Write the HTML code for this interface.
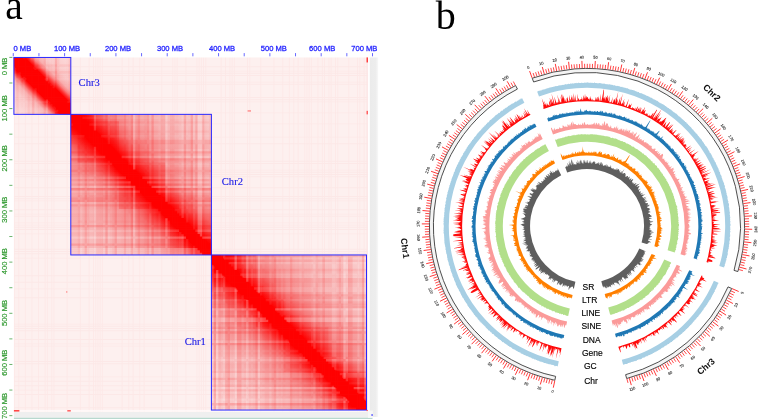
<!DOCTYPE html>
<html><head><meta charset="utf-8"><title>Hi-C and Circos</title>
<style>
html,body{margin:0;padding:0;background:#fff;width:760px;height:420px;overflow:hidden}
svg{display:block;font-family:"Liberation Sans",sans-serif;will-change:transform}
</style></head><body>
<svg width="760" height="420" viewBox="0 0 760 420">
<defs>
<linearGradient id="g0" gradientUnits="userSpaceOnUse" x1="70.8" y1="57.45" x2="13.9" y2="114.35">
<stop offset="0.0000" stop-color="#fcdcdc"/>
<stop offset="0.2188" stop-color="#fac8c8"/>
<stop offset="0.2979" stop-color="#f9b0b0"/>
<stop offset="0.3374" stop-color="#fa8080"/>
<stop offset="0.3770" stop-color="#fd3030"/>
<stop offset="0.4077" stop-color="#ff0000"/>
<stop offset="0.5000" stop-color="#ff0000"/>
<stop offset="0.5000" stop-color="#ff0000"/>
<stop offset="0.5923" stop-color="#ff0000"/>
<stop offset="0.6230" stop-color="#fd3030"/>
<stop offset="0.6626" stop-color="#fa8080"/>
<stop offset="0.7021" stop-color="#f9b0b0"/>
<stop offset="0.7812" stop-color="#fac8c8"/>
<stop offset="1.0000" stop-color="#fcdcdc"/>
</linearGradient>
<radialGradient id="c0" gradientUnits="userSpaceOnUse" cx="13.9" cy="57.45" r="17.07">
<stop offset="0" stop-color="#ff0000" stop-opacity="0.95"/><stop offset="0.55" stop-color="#ff0000" stop-opacity="0.6"/><stop offset="1" stop-color="#ff0000" stop-opacity="0"/>
</radialGradient>
<radialGradient id="e0" gradientUnits="userSpaceOnUse" cx="70.8" cy="114.35" r="11.38">
<stop offset="0" stop-color="#ff0000" stop-opacity="0.9"/><stop offset="0.5" stop-color="#ff0000" stop-opacity="0.5"/><stop offset="1" stop-color="#ff0000" stop-opacity="0"/>
</radialGradient>
<linearGradient id="g1" gradientUnits="userSpaceOnUse" x1="211.4" y1="114.35" x2="70.8" y2="254.95">
<stop offset="0.0000" stop-color="#f9cbcb"/>
<stop offset="0.2333" stop-color="#f7aeae"/>
<stop offset="0.3364" stop-color="#f69090"/>
<stop offset="0.3862" stop-color="#f67070"/>
<stop offset="0.4218" stop-color="#f94848"/>
<stop offset="0.4502" stop-color="#fd1e1e"/>
<stop offset="0.4716" stop-color="#ff0000"/>
<stop offset="0.5000" stop-color="#ff0000"/>
<stop offset="0.5000" stop-color="#ff0000"/>
<stop offset="0.5284" stop-color="#ff0000"/>
<stop offset="0.5498" stop-color="#fd1e1e"/>
<stop offset="0.5782" stop-color="#f94848"/>
<stop offset="0.6138" stop-color="#f67070"/>
<stop offset="0.6636" stop-color="#f69090"/>
<stop offset="0.7667" stop-color="#f7aeae"/>
<stop offset="1.0000" stop-color="#f9cbcb"/>
</linearGradient>
<radialGradient id="c1" gradientUnits="userSpaceOnUse" cx="70.8" cy="114.35" r="26.71">
<stop offset="0" stop-color="#ff0000" stop-opacity="0.95"/><stop offset="0.55" stop-color="#ff0000" stop-opacity="0.6"/><stop offset="1" stop-color="#ff0000" stop-opacity="0"/>
</radialGradient>
<radialGradient id="e1" gradientUnits="userSpaceOnUse" cx="211.4" cy="254.95" r="22.5">
<stop offset="0" stop-color="#ff0000" stop-opacity="0.9"/><stop offset="0.5" stop-color="#ff0000" stop-opacity="0.5"/><stop offset="1" stop-color="#ff0000" stop-opacity="0"/>
</radialGradient>
<linearGradient id="g2" gradientUnits="userSpaceOnUse" x1="366.5" y1="254.95" x2="211.4" y2="410.05">
<stop offset="0.0000" stop-color="#facdcd"/>
<stop offset="0.2421" stop-color="#f7aeae"/>
<stop offset="0.3420" stop-color="#f69090"/>
<stop offset="0.3904" stop-color="#f67070"/>
<stop offset="0.4259" stop-color="#f94848"/>
<stop offset="0.4516" stop-color="#fd1e1e"/>
<stop offset="0.4710" stop-color="#ff0000"/>
<stop offset="0.5000" stop-color="#ff0000"/>
<stop offset="0.5000" stop-color="#ff0000"/>
<stop offset="0.5290" stop-color="#ff0000"/>
<stop offset="0.5484" stop-color="#fd1e1e"/>
<stop offset="0.5741" stop-color="#f94848"/>
<stop offset="0.6096" stop-color="#f67070"/>
<stop offset="0.6580" stop-color="#f69090"/>
<stop offset="0.7579" stop-color="#f7aeae"/>
<stop offset="1.0000" stop-color="#facdcd"/>
</linearGradient>
<radialGradient id="c2" gradientUnits="userSpaceOnUse" cx="211.4" cy="254.95" r="38.78">
<stop offset="0" stop-color="#ff0000" stop-opacity="0.95"/><stop offset="0.55" stop-color="#ff0000" stop-opacity="0.6"/><stop offset="1" stop-color="#ff0000" stop-opacity="0"/>
</radialGradient>
<radialGradient id="e2" gradientUnits="userSpaceOnUse" cx="366.5" cy="410.05" r="37.22">
<stop offset="0" stop-color="#ff0000" stop-opacity="0.9"/><stop offset="0.5" stop-color="#ff0000" stop-opacity="0.5"/><stop offset="1" stop-color="#ff0000" stop-opacity="0"/>
</radialGradient>
</defs>
<rect x="13.9" y="57.45" width="354.2" height="354.2" fill="#fdf0ef"/>
<rect x="13.9" y="57.45" width="56.9" height="56.9" fill="url(#g0)"/>
<rect x="13.9" y="57.45" width="56.9" height="56.9" fill="url(#c0)"/>
<rect x="13.9" y="57.45" width="56.9" height="56.9" fill="url(#e0)"/>
<rect x="70.8" y="114.35" width="140.6" height="140.6" fill="url(#g1)"/>
<rect x="70.8" y="114.35" width="140.6" height="140.6" fill="url(#c1)"/>
<rect x="70.8" y="114.35" width="140.6" height="140.6" fill="url(#e1)"/>
<rect x="211.4" y="254.95" width="155.1" height="155.1" fill="url(#g2)"/>
<rect x="211.4" y="254.95" width="155.1" height="155.1" fill="url(#c2)"/>
<rect x="211.4" y="254.95" width="155.1" height="155.1" fill="url(#e2)"/>
<rect x="77.65" y="121.2" width="41.29" height="41.29" fill="#ff0000" fill-opacity="0.20"/><rect x="118.94" y="162.49" width="46.5" height="46.5" fill="#ff0000" fill-opacity="0.19"/><rect x="165.44" y="208.99" width="45.96" height="45.96" fill="#ff0000" fill-opacity="0.10"/><rect x="72.66" y="116.21" width="21.21" height="21.21" fill="#ff0000" fill-opacity="0.24"/><rect x="93.87" y="137.42" width="20.61" height="20.61" fill="#ff0000" fill-opacity="0.14"/><rect x="114.48" y="158.03" width="14.57" height="14.57" fill="#ff0000" fill-opacity="0.16"/><rect x="129.05" y="172.6" width="15.61" height="15.61" fill="#ff0000" fill-opacity="0.22"/><rect x="144.66" y="188.21" width="8.18" height="8.18" fill="#ff0000" fill-opacity="0.16"/><rect x="152.85" y="196.4" width="11.91" height="11.91" fill="#ff0000" fill-opacity="0.28"/><rect x="164.76" y="208.31" width="18.72" height="18.72" fill="#ff0000" fill-opacity="0.15"/><rect x="183.48" y="227.03" width="19.16" height="19.16" fill="#ff0000" fill-opacity="0.14"/><rect x="202.64" y="246.19" width="8.76" height="8.76" fill="#ff0000" fill-opacity="0.14"/><rect x="211.42" y="254.97" width="44.66" height="44.66" fill="#ff0000" fill-opacity="0.13"/><rect x="256.08" y="299.63" width="27.6" height="27.6" fill="#ff0000" fill-opacity="0.22"/><rect x="283.68" y="327.23" width="44.68" height="44.68" fill="#ff0000" fill-opacity="0.13"/><rect x="328.36" y="371.91" width="38.14" height="38.14" fill="#ff0000" fill-opacity="0.16"/><rect x="214.11" y="257.66" width="10.87" height="10.87" fill="#ff0000" fill-opacity="0.29"/><rect x="224.98" y="268.53" width="17.67" height="17.67" fill="#ff0000" fill-opacity="0.29"/><rect x="242.65" y="286.2" width="20.51" height="20.51" fill="#ff0000" fill-opacity="0.17"/><rect x="263.16" y="306.71" width="13.06" height="13.06" fill="#ff0000" fill-opacity="0.15"/><rect x="276.22" y="319.77" width="10.04" height="10.04" fill="#ff0000" fill-opacity="0.13"/><rect x="286.26" y="329.81" width="12.22" height="12.22" fill="#ff0000" fill-opacity="0.23"/><rect x="298.48" y="342.03" width="8.05" height="8.05" fill="#ff0000" fill-opacity="0.24"/><rect x="306.52" y="350.07" width="12.73" height="12.73" fill="#ff0000" fill-opacity="0.18"/><rect x="319.25" y="362.8" width="19.46" height="19.46" fill="#ff0000" fill-opacity="0.21"/><rect x="338.71" y="382.26" width="12.42" height="12.42" fill="#ff0000" fill-opacity="0.21"/><rect x="351.13" y="394.68" width="15.37" height="15.37" fill="#ff0000" fill-opacity="0.13"/>
<path d="M133.03 114.35h2.3v55.23h-2.3zM133.03 185.89h2.3v69.06h-2.3zM70.8 185.8h64.45v2.3h-64.45zM151.56 185.8h59.84v2.3h-59.84zM165.3 114.35h2.3v87.5h-2.3zM165.3 218.16h2.3v36.79h-2.3zM70.8 236.51h115.16v2.3h-115.16zM202.27 236.51h9.13v2.3h-9.13zM197.57 114.35h2.3v119.77h-2.3zM197.57 250.43h2.3v4.52h-2.3zM199.88 114.35h2.3v122.08h-2.3zM199.88 252.73h2.3v2.22h-2.3zM70.8 248.04h126.69v2.3h-126.69zM70.8 250.34h128.99v2.3h-128.99zM70.8 252.65h131.3v2.3h-131.3zM216.03 269.89h2.31v140.16h-2.31zM234.55 254.95h2.31v15.15h-2.31zM234.55 288.41h2.31v121.64h-2.31zM246.12 254.95h2.31v26.72h-2.31zM246.12 299.99h2.31v110.06h-2.31zM257.7 254.95h2.31v38.3h-2.31zM257.7 311.56h2.31v98.49h-2.31zM211.4 308.19h45.24v2.31h-45.24zM274.96 308.19h91.54v2.31h-91.54zM211.4 317.45h54.5v2.31h-54.5zM284.22 317.45h82.28v2.31h-82.28zM211.4 319.77h56.82v2.31h-56.82zM286.53 319.77h79.97v2.31h-79.97zM211.4 359.12h96.17v2.31h-96.17zM325.89 359.12h40.61v2.31h-40.61zM343.35 254.95h2.31v123.95h-2.31zM343.35 397.22h2.31v12.83h-2.31zM211.4 386.9h123.95v2.31h-123.95zM353.67 386.9h12.83v2.31h-12.83zM211.4 398.48h135.53v2.31h-135.53zM365.24 398.48h1.26v2.31h-1.26zM364.19 254.95h2.31v144.79h-2.31z" fill="#fff" fill-opacity="0.26"/>
<path d="M45.76 57.45h2.28v23.86h-2.28zM45.76 99.59h2.28v14.76h-2.28zM93.85 114.35h2.3v16.05h-2.3zM93.85 146.7h2.3v108.25h-2.3zM70.8 155.84h34.49v2.3h-34.49zM121.59 155.84h89.81v2.3h-89.81zM70.8 176.58h55.23v2.3h-55.23zM142.34 176.58h69.06v2.3h-69.06zM70.8 181.19h59.84v2.3h-59.84zM146.95 181.19h64.45v2.3h-64.45zM70.8 190.41h69.06v2.3h-69.06zM156.17 190.41h55.23v2.3h-55.23zM181.44 114.35h2.3v103.64h-2.3zM181.44 234.29h2.3v20.66h-2.3zM70.8 229.6h108.25v2.3h-108.25zM195.35 229.6h16.05v2.3h-16.05zM211.4 265.26h2.31v144.79h-2.31zM224.03 257.26h142.47v2.31h-142.47zM228.66 261.89h137.84v2.31h-137.84zM222.97 254.95h2.31v3.57h-2.31zM222.97 276.84h2.31v133.21h-2.31zM211.4 273.47h10.52v2.31h-10.52zM240.23 273.47h126.27v2.31h-126.27zM211.4 275.78h12.83v2.31h-12.83zM242.55 275.78h123.95v2.31h-123.95zM211.4 287.36h24.41v2.31h-24.41zM254.12 287.36h112.38v2.31h-112.38zM211.4 289.67h26.72v2.31h-26.72zM256.44 289.67h110.06v2.31h-110.06zM211.4 340.6h77.65v2.31h-77.65zM307.37 340.6h59.13v2.31h-59.13zM313.26 254.95h2.31v93.86h-2.31zM313.26 367.12h2.31v42.93h-2.31zM211.4 356.81h93.86v2.31h-93.86zM323.57 356.81h42.93v2.31h-42.93zM211.4 373.01h110.06v2.31h-110.06zM339.78 373.01h26.72v2.31h-26.72zM331.78 254.95h2.31v112.38h-2.31zM331.78 385.64h2.31v24.41h-2.31zM211.4 375.33h112.38v2.31h-112.38zM342.09 375.33h24.41v2.31h-24.41zM334.09 254.95h2.31v114.69h-2.31zM334.09 387.96h2.31v22.09h-2.31zM345.67 254.95h2.31v126.27h-2.31zM345.67 399.53h2.31v10.52h-2.31zM211.4 391.53h128.58v2.31h-128.58zM358.3 391.53h8.2v2.31h-8.2zM357.24 254.95h2.31v137.84h-2.31zM211.4 400.79h137.84v2.31h-137.84z" fill="#fff" fill-opacity="0.16"/>
<path d="M13.9 67.73h2.28v46.62h-2.28zM18.45 72.28h2.28v42.07h-2.28zM23 57.45h2.28v1.1h-2.28zM23 76.83h2.28v37.52h-2.28zM13.9 66.55h1.1v2.28h-1.1zM33.28 66.55h37.52v2.28h-37.52zM34.38 57.45h2.28v12.48h-2.28zM34.38 88.21h2.28v26.14h-2.28zM13.9 77.93h12.48v2.28h-12.48zM44.66 77.93h26.14v2.28h-26.14zM48.04 57.45h2.28v26.14h-2.28zM48.04 101.87h2.28v12.48h-2.28zM50.32 57.45h2.28v28.42h-2.28zM50.32 104.14h2.28v10.21h-2.28zM52.59 57.45h2.28v30.69h-2.28zM52.59 106.42h2.28v7.93h-2.28zM13.9 100.69h35.24v2.28h-35.24zM67.42 100.69h3.38v2.28h-3.38zM13.9 107.52h42.07v2.28h-42.07zM13.9 109.8h44.35v2.28h-44.35zM82.41 116.65h128.99v2.3h-128.99zM70.8 123.57h2.22v2.3h-2.22zM89.32 123.57h122.08v2.3h-122.08zM70.8 135.09h13.74v2.3h-13.74zM100.85 135.09h110.55v2.3h-110.55zM107.68 114.35h2.3v29.88h-2.3zM107.68 160.53h2.3v94.42h-2.3zM70.8 162.75h41.4v2.3h-41.4zM128.51 162.75h82.89v2.3h-82.89zM128.42 114.35h2.3v50.62h-2.3zM128.42 181.28h2.3v73.67h-2.3zM149.17 114.35h2.3v71.37h-2.3zM149.17 202.02h2.3v52.93h-2.3zM158.39 114.35h2.3v80.59h-2.3zM158.39 211.24h2.3v43.71h-2.3zM70.8 201.94h80.59v2.3h-80.59zM167.69 201.94h43.71v2.3h-43.71zM70.8 208.85h87.5v2.3h-87.5zM174.61 208.85h36.79v2.3h-36.79zM167.61 114.35h2.3v89.81h-2.3zM167.61 220.46h2.3v34.49h-2.3zM70.8 211.16h89.81v2.3h-89.81zM176.91 211.16h34.49v2.3h-34.49zM179.13 114.35h2.3v101.33h-2.3zM179.13 231.99h2.3v22.96h-2.3zM186.05 114.35h2.3v108.25h-2.3zM186.05 238.9h2.3v16.05h-2.3zM192.96 114.35h2.3v115.16h-2.3zM192.96 245.82h2.3v9.13h-2.3zM220.66 254.95h2.31v1.26h-2.31zM220.66 274.52h2.31v135.53h-2.31zM211.4 264.21h1.26v2.31h-1.26zM230.97 264.21h135.53v2.31h-135.53zM211.4 266.52h3.57v2.31h-3.57zM233.29 266.52h133.21v2.31h-133.21zM241.49 254.95h2.31v22.09h-2.31zM241.49 295.36h2.31v114.69h-2.31zM250.75 254.95h2.31v31.35h-2.31zM250.75 304.62h2.31v105.43h-2.31zM211.4 298.93h35.98v2.31h-35.98zM265.7 298.93h100.8v2.31h-100.8zM260.01 254.95h2.31v40.61h-2.31zM260.01 313.88h2.31v96.17h-2.31zM211.4 310.51h47.56v2.31h-47.56zM277.27 310.51h89.23v2.31h-89.23zM269.27 254.95h2.31v49.87h-2.31zM269.27 323.14h2.31v86.91h-2.31zM211.4 312.82h49.87v2.31h-49.87zM279.59 312.82h86.91v2.31h-86.91zM276.22 254.95h2.31v56.82h-2.31zM276.22 330.08h2.31v79.97h-2.31zM280.85 254.95h2.31v61.45h-2.31zM280.85 334.71h2.31v75.34h-2.31zM285.48 254.95h2.31v66.08h-2.31zM285.48 339.34h2.31v70.71h-2.31zM211.4 329.03h66.08v2.31h-66.08zM295.79 329.03h70.71v2.31h-70.71zM287.79 254.95h2.31v68.39h-2.31zM287.79 341.66h2.31v68.39h-2.31zM299.37 254.95h2.31v79.97h-2.31zM299.37 353.23h2.31v56.82h-2.31zM211.4 349.86h86.91v2.31h-86.91zM316.63 349.86h49.87v2.31h-49.87zM310.94 254.95h2.31v91.54h-2.31zM310.94 364.81h2.31v45.24h-2.31zM211.4 354.49h91.54v2.31h-91.54zM321.26 354.49h45.24v2.31h-45.24zM211.4 361.44h98.49v2.31h-98.49zM328.2 361.44h38.3v2.31h-38.3zM320.2 254.95h2.31v100.8h-2.31zM320.2 374.07h2.31v35.98h-2.31zM211.4 368.38h105.43v2.31h-105.43zM335.15 368.38h31.35v2.31h-31.35zM211.4 382.27h119.32v2.31h-119.32zM349.04 382.27h17.46v2.31h-17.46zM211.4 396.16h133.21v2.31h-133.21zM362.93 396.16h3.57v2.31h-3.57zM211.4 407.74h144.79v2.31h-144.79z" fill="#fff" fill-opacity="0.08"/>
<path d="M16.18 70h2.28v44.35h-2.28zM31 64.28h39.8v2.28h-39.8zM27.56 57.45h2.28v5.66h-2.28zM27.56 81.38h2.28v32.97h-2.28zM13.9 71.11h5.66v2.28h-5.66zM37.83 71.11h32.97v2.28h-32.97zM43.49 57.45h2.28v21.59h-2.28zM43.49 97.31h2.28v17.04h-2.28zM57.14 57.45h2.28v35.24h-2.28zM57.14 110.97h2.28v3.38h-2.28zM70.8 123.65h2.3v131.3h-2.3zM73.1 125.96h2.3v128.99h-2.3zM75.41 128.26h2.3v126.69h-2.3zM87.02 121.26h124.38v2.3h-124.38zM82.32 114.35h2.3v4.52h-2.3zM82.32 135.18h2.3v119.77h-2.3zM86.93 114.35h2.3v9.13h-2.3zM86.93 139.79h2.3v115.16h-2.3zM70.8 130.48h9.13v2.3h-9.13zM96.24 130.48h115.16v2.3h-115.16zM96.15 114.35h2.3v18.35h-2.3zM96.15 149.01h2.3v105.94h-2.3zM98.46 114.35h2.3v20.66h-2.3zM98.46 151.31h2.3v103.64h-2.3zM100.76 114.35h2.3v22.96h-2.3zM100.76 153.62h2.3v101.33h-2.3zM70.8 144.31h22.96v2.3h-22.96zM110.07 144.31h101.33v2.3h-101.33zM70.8 146.62h25.27v2.3h-25.27zM112.37 146.62h99.03v2.3h-99.03zM70.8 153.53h32.18v2.3h-32.18zM119.29 153.53h92.11v2.3h-92.11zM112.29 114.35h2.3v34.49h-2.3zM112.29 165.14h2.3v89.81h-2.3zM70.8 160.45h39.1v2.3h-39.1zM126.2 160.45h85.2v2.3h-85.2zM70.8 167.36h46.01v2.3h-46.01zM133.12 167.36h78.28v2.3h-78.28zM70.8 171.97h50.62v2.3h-50.62zM137.73 171.97h73.67v2.3h-73.67zM70.8 178.89h57.54v2.3h-57.54zM144.64 178.89h66.76v2.3h-66.76zM70.8 183.5h62.15v2.3h-62.15zM149.25 183.5h62.15v2.3h-62.15zM144.56 114.35h2.3v66.76h-2.3zM144.56 197.41h2.3v57.54h-2.3zM70.8 195.02h73.67v2.3h-73.67zM160.78 195.02h50.62v2.3h-50.62zM160.69 114.35h2.3v82.89h-2.3zM160.69 213.55h2.3v41.4h-2.3zM163 114.35h2.3v85.2h-2.3zM163 215.85h2.3v39.1h-2.3zM169.91 114.35h2.3v92.11h-2.3zM169.91 222.77h2.3v32.18h-2.3zM172.22 114.35h2.3v94.42h-2.3zM172.22 225.07h2.3v29.88h-2.3zM70.8 220.38h99.03v2.3h-99.03zM186.13 220.38h25.27v2.3h-25.27zM70.8 245.73h124.38v2.3h-124.38zM209.1 114.35h2.3v131.3h-2.3zM226.34 259.58h140.16v2.31h-140.16zM218.34 272.21h2.31v137.84h-2.31zM211.4 268.84h5.89v2.31h-5.89zM235.6 268.84h130.9v2.31h-130.9zM211.4 278.1h15.15v2.31h-15.15zM244.86 278.1h121.64v2.31h-121.64zM211.4 280.41h17.46v2.31h-17.46zM247.18 280.41h119.32v2.31h-119.32zM211.4 296.62h33.67v2.31h-33.67zM263.38 296.62h103.12v2.31h-103.12zM211.4 301.25h38.3v2.31h-38.3zM268.01 301.25h98.49v2.31h-98.49zM264.64 254.95h2.31v45.24h-2.31zM264.64 318.51h2.31v91.54h-2.31zM266.96 254.95h2.31v47.56h-2.31zM266.96 320.82h2.31v89.23h-2.31zM271.59 254.95h2.31v52.19h-2.31zM271.59 325.45h2.31v84.6h-2.31zM211.4 315.14h52.19v2.31h-52.19zM281.9 315.14h84.6v2.31h-84.6zM211.4 322.08h59.13v2.31h-59.13zM288.85 322.08h77.65v2.31h-77.65zM301.68 254.95h2.31v82.28h-2.31zM301.68 355.55h2.31v54.5h-2.31zM315.57 254.95h2.31v96.17h-2.31zM315.57 369.44h2.31v40.61h-2.31zM211.4 370.7h107.75v2.31h-107.75zM337.46 370.7h29.04v2.31h-29.04zM341.04 254.95h2.31v121.64h-2.31zM341.04 394.9h2.31v15.15h-2.31zM211.4 384.59h121.64v2.31h-121.64zM351.35 384.59h15.15v2.31h-15.15zM211.4 389.22h126.27v2.31h-126.27zM355.98 389.22h10.52v2.31h-10.52z" fill="#ff0000" fill-opacity="0.05"/>
<path d="M32.11 57.45h2.28v10.21h-2.28zM32.11 85.93h2.28v28.42h-2.28zM68.52 57.45h2.28v46.62h-2.28zM77.71 130.57h2.3v124.38h-2.3zM70.8 139.7h18.35v2.3h-18.35zM105.46 139.7h105.94v2.3h-105.94zM70.8 142.01h20.66v2.3h-20.66zM107.76 142.01h103.64v2.3h-103.64zM123.81 114.35h2.3v46.01h-2.3zM123.81 176.67h2.3v78.28h-2.3zM70.8 169.67h48.32v2.3h-48.32zM135.42 169.67h75.98v2.3h-75.98zM130.73 114.35h2.3v52.93h-2.3zM130.73 183.58h2.3v71.37h-2.3zM137.64 114.35h2.3v59.84h-2.3zM137.64 190.5h2.3v64.45h-2.3zM146.86 114.35h2.3v69.06h-2.3zM146.86 199.72h2.3v55.23h-2.3zM70.8 197.33h75.98v2.3h-75.98zM163.08 197.33h48.32v2.3h-48.32zM70.8 204.24h82.89v2.3h-82.89zM170 204.24h41.4v2.3h-41.4zM183.74 114.35h2.3v105.94h-2.3zM183.74 236.6h2.3v18.35h-2.3zM195.27 114.35h2.3v117.47h-2.3zM195.27 248.12h2.3v6.83h-2.3zM202.18 114.35h2.3v124.38h-2.3zM221.71 254.95h144.79v2.31h-144.79zM225.29 254.95h2.31v5.89h-2.31zM225.29 279.15h2.31v130.9h-2.31zM236.86 254.95h2.31v17.46h-2.31zM236.86 290.73h2.31v119.32h-2.31zM239.18 254.95h2.31v19.78h-2.31zM239.18 293.04h2.31v117.01h-2.31zM211.4 294.3h31.35v2.31h-31.35zM261.07 294.3h105.43v2.31h-105.43zM255.38 254.95h2.31v35.98h-2.31zM255.38 309.25h2.31v100.8h-2.31zM211.4 303.56h40.61v2.31h-40.61zM270.33 303.56h96.17v2.31h-96.17zM211.4 305.88h42.93v2.31h-42.93zM272.64 305.88h93.86v2.31h-93.86zM273.9 254.95h2.31v54.5h-2.31zM273.9 327.77h2.31v82.28h-2.31zM211.4 326.71h63.76v2.31h-63.76zM293.48 326.71h73.02v2.31h-73.02zM290.11 254.95h2.31v70.71h-2.31zM290.11 343.97h2.31v66.08h-2.31zM322.52 254.95h2.31v103.12h-2.31zM322.52 376.38h2.31v33.67h-2.31zM211.4 377.64h114.69v2.31h-114.69zM344.41 377.64h22.09v2.31h-22.09zM338.72 254.95h2.31v119.32h-2.31zM338.72 392.59h2.31v17.46h-2.31zM347.98 254.95h2.31v128.58h-2.31zM347.98 401.85h2.31v8.2h-2.31zM350.3 254.95h2.31v130.9h-2.31zM350.3 404.16h2.31v5.89h-2.31z" fill="#ff0000" fill-opacity="0.1"/>
<path d="M54.87 57.45h2.28v32.97h-2.28zM54.87 108.69h2.28v5.66h-2.28zM84.63 114.35h2.3v6.83h-2.3zM84.63 137.48h2.3v117.47h-2.3zM105.37 114.35h2.3v27.57h-2.3zM105.37 158.23h2.3v96.72h-2.3zM70.8 151.23h29.88v2.3h-29.88zM116.98 151.23h94.42v2.3h-94.42zM114.59 114.35h2.3v36.79h-2.3zM114.59 167.45h2.3v87.5h-2.3zM70.8 158.14h36.79v2.3h-36.79zM123.9 158.14h87.5v2.3h-87.5zM70.8 188.11h66.76v2.3h-66.76zM153.86 188.11h57.54v2.3h-57.54zM151.47 114.35h2.3v73.67h-2.3zM151.47 204.33h2.3v50.62h-2.3zM70.8 199.63h78.28v2.3h-78.28zM165.39 199.63h46.01v2.3h-46.01zM70.8 224.99h103.64v2.3h-103.64zM190.74 224.99h20.66v2.3h-20.66zM190.66 114.35h2.3v112.86h-2.3zM190.66 243.51h2.3v11.44h-2.3zM70.8 243.43h122.08v2.3h-122.08zM209.18 243.43h2.22v2.3h-2.22zM213.71 267.58h2.31v142.47h-2.31zM227.6 254.95h2.31v8.2h-2.31zM227.6 281.47h2.31v128.58h-2.31zM211.4 331.34h68.39v2.31h-68.39zM298.11 331.34h68.39v2.31h-68.39zM211.4 342.92h79.97v2.31h-79.97zM309.68 342.92h56.82v2.31h-56.82zM211.4 403.11h140.16v2.31h-140.16zM361.87 254.95h2.31v142.47h-2.31z" fill="#ff0000" fill-opacity="0.15"/>
<path d="M13.9 57.45h0.9v354.2h-0.9zM18.3 57.45h0.9v354.2h-0.9zM13.9 66.25h354.2v0.9h-354.2zM24.9 57.45h0.9v354.2h-0.9zM13.9 70.65h354.2v0.9h-354.2zM13.9 72.85h354.2v0.9h-354.2zM31.5 57.45h0.9v354.2h-0.9zM13.9 75.05h354.2v0.9h-354.2zM38.1 57.45h0.9v354.2h-0.9zM13.9 81.65h354.2v0.9h-354.2zM13.9 83.85h354.2v0.9h-354.2zM44.7 57.45h0.9v354.2h-0.9zM46.9 57.45h0.9v354.2h-0.9zM51.3 57.45h0.9v354.2h-0.9zM53.5 57.45h0.9v354.2h-0.9zM13.9 97.05h354.2v0.9h-354.2zM13.9 99.25h354.2v0.9h-354.2zM13.9 101.45h354.2v0.9h-354.2zM66.7 57.45h0.9v354.2h-0.9zM13.9 112.45h354.2v0.9h-354.2zM79.9 57.45h0.9v354.2h-0.9zM13.9 123.45h354.2v0.9h-354.2zM88.7 57.45h0.9v354.2h-0.9zM93.1 57.45h0.9v354.2h-0.9zM13.9 136.65h354.2v0.9h-354.2zM95.3 57.45h0.9v354.2h-0.9zM97.5 57.45h0.9v354.2h-0.9zM99.7 57.45h0.9v354.2h-0.9zM13.9 143.25h354.2v0.9h-354.2zM101.9 57.45h0.9v354.2h-0.9zM13.9 160.85h354.2v0.9h-354.2zM13.9 163.05h354.2v0.9h-354.2zM121.7 57.45h0.9v354.2h-0.9zM13.9 169.65h354.2v0.9h-354.2zM128.3 57.45h0.9v354.2h-0.9zM13.9 171.85h354.2v0.9h-354.2zM13.9 174.05h354.2v0.9h-354.2zM132.7 57.45h0.9v354.2h-0.9zM13.9 176.25h354.2v0.9h-354.2zM139.3 57.45h0.9v354.2h-0.9zM143.7 57.45h0.9v354.2h-0.9zM13.9 187.25h354.2v0.9h-354.2zM13.9 196.05h354.2v0.9h-354.2zM13.9 198.25h354.2v0.9h-354.2zM13.9 200.45h354.2v0.9h-354.2zM161.3 57.45h0.9v354.2h-0.9zM13.9 209.25h354.2v0.9h-354.2zM13.9 213.65h354.2v0.9h-354.2zM172.3 57.45h0.9v354.2h-0.9zM13.9 215.85h354.2v0.9h-354.2zM174.5 57.45h0.9v354.2h-0.9zM176.7 57.45h0.9v354.2h-0.9zM13.9 222.45h354.2v0.9h-354.2zM13.9 224.65h354.2v0.9h-354.2zM13.9 226.85h354.2v0.9h-354.2zM185.5 57.45h0.9v354.2h-0.9zM13.9 229.05h354.2v0.9h-354.2zM13.9 233.45h354.2v0.9h-354.2zM196.5 57.45h0.9v354.2h-0.9zM198.7 57.45h0.9v354.2h-0.9zM200.9 57.45h0.9v354.2h-0.9zM203.1 57.45h0.9v354.2h-0.9zM205.3 57.45h0.9v354.2h-0.9zM13.9 248.85h354.2v0.9h-354.2zM13.9 251.05h354.2v0.9h-354.2zM13.9 253.25h354.2v0.9h-354.2zM13.9 257.65h354.2v0.9h-354.2zM220.7 57.45h0.9v354.2h-0.9zM225.1 57.45h0.9v354.2h-0.9zM229.5 57.45h0.9v354.2h-0.9zM231.7 57.45h0.9v354.2h-0.9zM13.9 275.25h354.2v0.9h-354.2zM233.9 57.45h0.9v354.2h-0.9zM13.9 281.85h354.2v0.9h-354.2zM13.9 288.45h354.2v0.9h-354.2zM247.1 57.45h0.9v354.2h-0.9zM249.3 57.45h0.9v354.2h-0.9zM13.9 297.25h354.2v0.9h-354.2zM260.3 57.45h0.9v354.2h-0.9zM273.5 57.45h0.9v354.2h-0.9zM13.9 323.65h354.2v0.9h-354.2zM282.3 57.45h0.9v354.2h-0.9zM13.9 325.85h354.2v0.9h-354.2zM13.9 328.05h354.2v0.9h-354.2zM13.9 330.25h354.2v0.9h-354.2zM288.9 57.45h0.9v354.2h-0.9zM293.3 57.45h0.9v354.2h-0.9zM13.9 339.05h354.2v0.9h-354.2zM297.7 57.45h0.9v354.2h-0.9zM13.9 343.45h354.2v0.9h-354.2zM13.9 345.65h354.2v0.9h-354.2zM304.3 57.45h0.9v354.2h-0.9zM306.5 57.45h0.9v354.2h-0.9zM308.7 57.45h0.9v354.2h-0.9zM310.9 57.45h0.9v354.2h-0.9zM317.5 57.45h0.9v354.2h-0.9zM13.9 361.05h354.2v0.9h-354.2zM13.9 363.25h354.2v0.9h-354.2zM321.9 57.45h0.9v354.2h-0.9zM324.1 57.45h0.9v354.2h-0.9zM328.5 57.45h0.9v354.2h-0.9zM330.7 57.45h0.9v354.2h-0.9zM13.9 376.45h354.2v0.9h-354.2zM335.1 57.45h0.9v354.2h-0.9zM337.3 57.45h0.9v354.2h-0.9zM13.9 380.85h354.2v0.9h-354.2zM13.9 385.25h354.2v0.9h-354.2zM13.9 389.65h354.2v0.9h-354.2zM348.3 57.45h0.9v354.2h-0.9zM13.9 394.05h354.2v0.9h-354.2zM357.1 57.45h0.9v354.2h-0.9zM359.3 57.45h0.9v354.2h-0.9zM363.7 57.45h0.9v354.2h-0.9zM13.9 407.25h354.2v0.9h-354.2z" fill="#f05050" fill-opacity="0.045"/>
<rect x="366.5" y="57.45" width="1.3" height="354.2" fill="#fce6e6"/>
<rect x="13.9" y="410.05" width="354.2" height="1.5" fill="#fff8f8"/>
<rect x="366.5" y="57.45" width="1.5" height="5" fill="#ff4040"/>
<rect x="366.5" y="110.85" width="1.5" height="3.5" fill="#ff6060"/>
<rect x="13.9" y="410.05" width="5.5" height="1.5" fill="#ff4040"/>
<rect x="67.3" y="410.05" width="3.5" height="1.5" fill="#ff6060"/>
<rect x="247.6" y="110.4" width="3.4" height="1.1" fill="#ff5050" fill-opacity="0.8"/>
<rect x="66.2" y="291.3" width="1.1" height="1.3" fill="#ff4040" fill-opacity="0.7"/>
<rect x="13.9" y="57.45" width="56.9" height="56.9" fill="none" stroke="#2828ff" stroke-width="1"/>
<rect x="70.8" y="114.35" width="140.6" height="140.6" fill="none" stroke="#2828ff" stroke-width="1"/>
<rect x="211.4" y="254.95" width="155.1" height="155.1" fill="none" stroke="#2828ff" stroke-width="1"/>
<defs><linearGradient id="sb" x1="0" x2="1" y1="0" y2="0"><stop offset="0" stop-color="#ebebeb"/><stop offset="0.7" stop-color="#ededed"/><stop offset="1" stop-color="#f8f8f8"/></linearGradient></defs>
<rect x="369.8" y="57.45" width="8.4" height="359.5" fill="url(#sb)"/>
<rect x="13.9" y="412" width="354.3" height="5.8" fill="#efefef"/>
<rect x="13.9" y="417.8" width="358.6" height="1" fill="#a6cfc2"/>
<rect x="368.2" y="410.6" width="4.7" height="7.2" fill="#f7f7f7"/>
<rect x="371.3" y="414.2" width="1.6" height="1.6" fill="#5a5aff"/>
<rect x="366.6" y="409.9" width="1.2" height="1.2" fill="#ff5050"/>
<path d="M13.28 53.1v3.2M38.94 53.1v3.2M64.6 53.1v3.2M90.26 53.1v3.2M115.91 53.1v3.2M141.57 53.1v3.2M167.23 53.1v3.2M192.89 53.1v3.2M218.55 53.1v3.2M244.21 53.1v3.2M269.86 53.1v3.2M295.52 53.1v3.2M321.18 53.1v3.2M346.84 53.1v3.2M372.5 53.1v3.2" stroke="#4040ff" stroke-width="0.8" fill="none"/>
<path d="M9.3 57.4h3.1M9.3 82.99h3.1M9.3 108.58h3.1M9.3 134.17h3.1M9.3 159.76h3.1M9.3 185.35h3.1M9.3 210.94h3.1M9.3 236.53h3.1M9.3 262.12h3.1M9.3 287.71h3.1M9.3 313.3h3.1M9.3 338.89h3.1M9.3 364.48h3.1M9.3 390.07h3.1M9.3 415.66h3.1" stroke="#48a048" stroke-width="0.8" fill="none"/>
<g font-size="7.6" fill="#2222ff" stroke="#2222ff" stroke-width="0.28">
<text x="13.5" y="50.8">0 MB</text>
<text x="67" y="50.8" text-anchor="middle">100 MB</text>
<text x="118" y="50.8" text-anchor="middle">200 MB</text>
<text x="170" y="50.8" text-anchor="middle">300 MB</text>
<text x="222.1" y="50.8" text-anchor="middle">400 MB</text>
<text x="273.8" y="50.8" text-anchor="middle">500 MB</text>
<text x="322.2" y="50.8" text-anchor="middle">600 MB</text>
<text x="377.4" y="50.8" text-anchor="end">700 MB</text>
</g>
<g font-size="7.6" fill="#2a962a" stroke="#2a962a" stroke-width="0.16">
<text transform="translate(7.1 57.6) rotate(-90)" text-anchor="end">0 MB</text>
<text transform="translate(7.1 108.3) rotate(-90)" text-anchor="middle">100 MB</text>
<text transform="translate(7.1 158.3) rotate(-90)" text-anchor="middle">200 MB</text>
<text transform="translate(7.1 209.7) rotate(-90)" text-anchor="middle">300 MB</text>
<text transform="translate(7.1 261.2) rotate(-90)" text-anchor="middle">400 MB</text>
<text transform="translate(7.1 313) rotate(-90)" text-anchor="middle">500 MB</text>
<text transform="translate(7.1 362.7) rotate(-90)" text-anchor="middle">600 MB</text>
<text transform="translate(7.1 419) rotate(-90)">700 MB</text>
</g>
<g font-family="Liberation Serif" font-size="10.6" fill="#1818e8" stroke="#1818e8" stroke-width="0.12">
<text x="78.6" y="86.3">Chr3</text>
<text x="221.8" y="184.9">Chr2</text>
<text x="184.7" y="345">Chr1</text>
</g>
<text x="5.3" y="18.8" font-family="Liberation Serif" font-size="39.5" fill="#000">a</text>
<text x="435.8" y="28.5" font-family="Liberation Serif" font-size="40" fill="#000">b</text>
<path d="M554.83 380.28A157.60 157.60 0 0 1 515.60 85.50L517.41 89.07A153.60 153.60 0 0 0 555.64 376.36ZM532.22 78.23A157.60 157.60 0 0 1 737.87 271.55L734.04 270.40A153.60 153.60 0 0 0 533.61 81.98ZM731.69 288.46A157.60 157.60 0 0 1 626.65 378.53L625.64 374.66A153.60 153.60 0 0 0 728.02 286.88Z" fill="#f4f4f4" stroke="#3a3a3a" stroke-width="0.9"/>
<path d="M552.3 380.0L551.3 384.2M549.8 379.4L548.8 383.6M547.3 378.8L546.2 383.0M544.8 378.2L543.7 382.3M539.9 376.7L538.6 380.8M537.5 375.9L536.1 380.0M535.0 375.1L533.6 379.2M532.6 374.2L531.1 378.3M527.9 372.4L526.2 376.4M525.5 371.4L523.8 375.4M523.1 370.4L521.4 374.3M520.8 369.4L519.0 373.3M516.2 367.1L514.3 371.0M513.9 366.0L511.9 369.8M511.7 364.8L509.6 368.5M509.4 363.5L507.3 367.3M505.0 360.9L502.8 364.6M502.8 359.6L500.5 363.2M500.7 358.2L498.3 361.8M498.5 356.8L496.1 360.3M494.3 353.9L491.8 357.3M492.3 352.3L489.7 355.8M490.2 350.8L487.6 354.2M488.2 349.2L485.5 352.5M484.3 345.9L481.5 349.2M482.4 344.2L479.5 347.5M480.5 342.5L477.6 345.7M478.6 340.8L475.6 343.9M474.9 337.2L471.9 340.2M473.1 335.4L470.0 338.4M471.4 333.5L468.2 336.5M469.6 331.6L466.4 334.5M466.3 327.8L463.0 330.5M464.6 325.8L461.3 328.5M463.0 323.8L459.7 326.5M461.5 321.8L458.0 324.4M458.4 317.7L454.9 320.2M457.0 315.6L453.4 318.0M455.5 313.4L451.9 315.8M454.1 311.3L450.5 313.6M451.4 306.9L447.7 309.2M450.1 304.7L446.4 306.9M448.9 302.5L445.1 304.6M447.7 300.3L443.9 302.3M445.3 295.7L441.5 297.6M444.2 293.4L440.3 295.2M443.1 291.1L439.2 292.8M442.1 288.7L438.2 290.4M440.1 284.0L436.1 285.6M439.2 281.6L435.2 283.1M438.3 279.2L434.3 280.7M437.5 276.8L433.4 278.2M435.9 271.9L431.8 273.2M435.2 269.5L431.1 270.6M434.5 267.0L430.4 268.1M433.9 264.5L429.7 265.6M432.7 259.5L428.5 260.4M432.2 257.0L428.0 257.9M431.7 254.5L427.5 255.3M431.3 252.0L427.0 252.7M430.5 246.9L426.2 247.5M430.2 244.4L425.9 244.9M429.9 241.8L425.6 242.3M429.7 239.3L425.4 239.7M429.3 234.2L425.0 234.4M429.2 231.6L424.9 231.8M429.1 229.1L424.8 229.2M429.1 226.5L424.8 226.5M429.2 221.4L424.9 221.3M429.3 218.8L425.0 218.6M429.4 216.3L425.1 216.0M429.6 213.7L425.3 213.4M430.1 208.6L425.8 208.1M430.4 206.1L426.1 205.5M430.7 203.5L426.4 202.9M431.1 201.0L426.8 200.3M432.0 196.0L427.8 195.2M432.5 193.5L428.3 192.6M433.0 191.0L428.8 190.0M433.6 188.5L429.4 187.4M434.9 183.5L430.8 182.4M435.6 181.1L431.5 179.8M436.4 178.6L432.3 177.3M437.2 176.2L433.1 174.8M438.9 171.3L434.8 169.8M439.8 168.9L435.8 167.4M440.7 166.6L436.7 164.9M441.7 164.2L437.7 162.5M443.8 159.5L439.9 157.7M444.9 157.2L441.0 155.3M446.0 154.9L442.2 153.0M447.2 152.6L443.4 150.6M449.6 148.1L445.9 146.0M450.9 145.9L447.2 143.7M452.2 143.7L448.6 141.5M453.6 141.6L449.9 139.3M456.4 137.3L452.8 134.9M457.8 135.2L454.3 132.7M459.3 133.1L455.9 130.6M460.9 131.0L457.4 128.4M464.0 127.0L460.7 124.3M465.6 125.0L462.3 122.3M467.3 123.1L464.0 120.2M469.0 121.1L465.7 118.3M472.4 117.4L469.3 114.4M474.2 115.5L471.1 112.5M476.0 113.7L473.0 110.6M477.8 111.9L474.9 108.8M481.6 108.4L478.7 105.2M483.5 106.7L480.7 103.5M485.5 105.1L482.7 101.8M487.4 103.4L484.7 100.1M491.5 100.3L488.9 96.9M493.5 98.7L491.0 95.3M495.6 97.2L493.1 93.7M497.7 95.8L495.3 92.2M502.0 93.0L499.6 89.3M504.1 91.6L501.9 87.9M506.3 90.3L504.1 86.6M508.5 89.0L506.4 85.2M513.0 86.5L511.0 82.7M515.3 85.3L513.3 81.5M534.5 77.1L533.1 73.0M536.9 76.2L535.6 72.2M539.4 75.5L538.1 71.4M541.8 74.7L540.6 70.6M546.8 73.3L545.7 69.2M549.2 72.7L548.2 68.5M551.7 72.1L550.8 67.9M554.2 71.5L553.3 67.3M559.3 70.6L558.5 66.3M561.8 70.1L561.1 65.9M564.3 69.7L563.7 65.5M566.8 69.4L566.3 65.1M571.9 68.8L571.5 64.5M574.5 68.6L574.1 64.3M577.0 68.4L576.8 64.1M579.6 68.3L579.4 64.0M584.7 68.1L584.6 63.8M587.3 68.1L587.3 63.8M589.8 68.1L589.9 63.8M592.4 68.2L592.5 63.9M597.5 68.4L597.8 64.2M600.1 68.6L600.4 64.4M602.6 68.9L603.0 64.6M605.2 69.1L605.6 64.9M610.2 69.8L610.9 65.6M612.8 70.2L613.5 66.0M615.3 70.7L616.0 66.4M617.8 71.1L618.6 66.9M622.8 72.2L623.8 68.0M625.3 72.8L626.3 68.6M627.8 73.5L628.9 69.3M630.2 74.1L631.4 70.0M635.1 75.6L636.4 71.5M637.6 76.4L638.9 72.3M640.0 77.3L641.4 73.2M642.4 78.1L643.9 74.1M647.2 80.0L648.8 76.0M649.5 81.0L651.2 77.1M651.9 82.0L653.6 78.1M654.2 83.1L656.0 79.2M658.8 85.4L660.7 81.5M661.1 86.5L663.1 82.7M663.3 87.8L665.4 84.0M665.5 89.0L667.7 85.3M669.9 91.6L672.2 88.0M672.1 93.0L674.4 89.4M674.2 94.4L676.6 90.8M676.4 95.8L678.8 92.3M680.5 98.8L683.1 95.3M682.6 100.3L685.2 96.9M684.6 101.9L687.3 98.5M686.6 103.5L689.3 100.2M690.5 106.8L693.4 103.5M692.5 108.5L695.3 105.3M694.3 110.2L697.3 107.1M696.2 112.0L699.2 108.9M699.9 115.6L702.9 112.6M701.6 117.4L704.7 114.4M703.4 119.3L706.5 116.4M705.1 121.2L708.3 118.3M708.4 125.1L711.7 122.3M710.0 127.0L713.4 124.3M711.6 129.1L715.0 126.4M713.2 131.1L716.6 128.5M716.2 135.2L719.7 132.8M717.7 137.3L721.2 134.9M719.1 139.5L722.7 137.1M720.5 141.6L724.1 139.3M723.1 146.0L726.8 143.8M724.4 148.2L728.1 146.1M725.6 150.4L729.4 148.4M726.9 152.7L730.7 150.7M729.2 157.3L733.0 155.4M730.3 159.6L734.2 157.8M731.3 161.9L735.2 160.2M732.3 164.3L736.3 162.6M734.3 169.0L738.3 167.5M735.2 171.4L739.2 169.9M736.0 173.8L740.1 172.4M736.9 176.2L740.9 174.9M738.4 181.1L742.5 179.9M739.1 183.6L743.2 182.4M739.8 186.1L743.9 185.0M740.4 188.5L744.6 187.5M741.5 193.5L745.7 192.6M742.0 196.0L746.3 195.2M742.5 198.6L746.7 197.8M742.9 201.1L747.2 200.4M743.6 206.2L747.9 205.6M743.9 208.7L748.2 208.2M744.2 211.2L748.5 210.8M744.4 213.8L748.7 213.5M744.7 218.9L749.0 218.7M744.8 221.5L749.1 221.3M744.9 224.0L749.2 224.0M744.9 226.6L749.2 226.6M744.8 231.7L749.1 231.9M744.7 234.3L749.0 234.5M744.5 236.8L748.8 237.1M744.3 239.4L748.6 239.7M743.8 244.5L748.1 245.0M743.5 247.0L747.8 247.6M743.1 249.5L747.4 250.2M742.7 252.1L747.0 252.8M741.8 257.1L746.0 257.9M741.3 259.6L745.5 260.5M740.7 262.1L744.9 263.1M740.1 264.6L744.3 265.6M738.8 269.5L742.9 270.7M730.9 290.9L734.9 292.7M729.9 293.3L733.8 295.1M728.8 295.6L732.6 297.5M727.6 297.8L731.4 299.8M725.2 302.4L729.0 304.4M723.9 304.6L727.7 306.7M722.7 306.8L726.3 309.0M721.3 309.0L725.0 311.3M718.6 313.3L722.1 315.7M717.1 315.4L720.7 317.9M715.7 317.5L719.2 320.0M714.2 319.6L717.6 322.2M711.1 323.7L714.4 326.3M709.5 325.7L712.8 328.4M707.8 327.6L711.1 330.4M706.2 329.6L709.4 332.4M702.7 333.4L705.9 336.3M701.0 335.3L704.1 338.2M699.2 337.1L702.3 340.1M697.4 338.9L700.4 342.0M693.7 342.4L696.6 345.6M691.8 344.1L694.6 347.4M689.8 345.8L692.6 349.1M687.9 347.5L690.6 350.8M683.9 350.7L686.5 354.1M681.9 352.2L684.4 355.7M679.8 353.8L682.3 357.2M677.7 355.2L680.2 358.8M673.5 358.1L675.8 361.7M671.3 359.5L673.6 363.1M669.1 360.9L671.4 364.5M666.9 362.2L669.1 365.9M662.5 364.7L664.5 368.5M660.2 365.9L662.2 369.7M658.0 367.1L659.9 370.9M655.7 368.2L657.5 372.1M651.0 370.3L652.8 374.3M648.7 371.4L650.3 375.3M646.3 372.3L647.9 376.3M643.9 373.3L645.5 377.3M639.1 375.1L640.5 379.1M636.7 375.9L638.0 380.0M634.3 376.7L635.5 380.8M631.8 377.4L633.0 381.5M626.9 378.8L628.0 382.9" stroke="#ff2a2a" stroke-width="0.85" fill="none"/>
<path d="M554.8 380.6L553.3 387.7M542.4 377.5L540.3 384.5M530.2 373.3L527.6 380.2M518.5 368.3L515.3 374.8M507.2 362.2L503.5 368.5M496.4 355.3L492.2 361.3M486.2 347.6L481.6 353.2M476.7 339.0L471.6 344.2M467.9 329.7L462.4 334.5M459.9 319.7L454.1 324.1M452.8 309.1L446.6 313.0M446.5 298.0L440.0 301.3M441.1 286.4L434.4 289.2M436.7 274.4L429.7 276.6M433.3 262.0L426.2 263.7M430.9 249.5L423.6 250.5M429.5 236.7L422.2 237.2M429.1 223.9L421.8 223.9M429.8 211.2L422.5 210.5M431.5 198.5L424.3 197.2M434.3 186.0L427.2 184.1M438.0 173.7L431.1 171.3M442.7 161.9L436.0 158.9M448.4 150.4L442.0 146.9M455.0 139.4L448.9 135.4M462.4 129.0L456.7 124.5M470.7 119.2L465.3 114.3M479.7 110.2L474.7 104.8M489.4 101.8L484.9 96.1M499.8 94.4L495.8 88.3M510.8 87.7L507.2 81.3M532.1 77.9L529.6 71.1M544.3 74.0L542.3 67.0M556.7 71.0L555.3 63.9M569.4 69.1L568.6 61.8M582.2 68.2L581.9 60.9M594.9 68.3L595.3 61.0M607.7 69.5L608.6 62.2M620.3 71.7L621.8 64.5M632.7 74.9L634.8 67.9M644.8 79.1L647.5 72.3M656.5 84.2L659.7 77.7M667.7 90.3L671.5 84.0M678.5 97.3L682.7 91.3M688.6 105.1L693.3 99.5M698.0 113.7L703.2 108.6M706.8 123.1L712.3 118.3M714.7 133.1L720.6 128.9M721.8 143.8L728.0 140.0M728.0 155.0L734.5 151.7M733.3 166.6L740.1 163.9M737.6 178.7L744.6 176.5M741.0 191.0L748.1 189.4M743.3 203.6L750.5 202.6M744.6 216.3L751.9 215.9M744.9 229.1L752.2 229.3M744.1 241.9L751.4 242.7M742.3 254.6L749.5 255.9M739.5 267.1L746.5 269.0M732.0 288.6L738.7 291.5M726.4 300.1L732.9 303.5M720.0 311.2L726.1 315.1M712.6 321.7L718.4 326.1M704.5 331.5L709.9 336.4M695.5 340.7L700.6 346.0M685.9 349.1L690.5 354.8M675.6 356.7L679.7 362.7M664.7 363.4L668.3 369.8M653.3 369.3L656.4 375.9M641.5 374.2L644.0 381.0M629.3 378.1L631.3 385.1" stroke="#ff2020" stroke-width="0.9" fill="none"/>
<g font-size="3.9" fill="#333" stroke="#333" stroke-width="0.12" text-anchor="middle">
<text transform="translate(552.5 391.3) rotate(11.8)" y="1.4">0</text>
<text transform="translate(539.2 388.0) rotate(16.4)" y="1.4">10</text>
<text transform="translate(526.3 383.6) rotate(21.1)" y="1.4">20</text>
<text transform="translate(513.7 378.2) rotate(25.7)" y="1.4">30</text>
<text transform="translate(501.6 371.7) rotate(30.4)" y="1.4">40</text>
<text transform="translate(490.1 364.3) rotate(35.0)" y="1.4">50</text>
<text transform="translate(479.2 356.0) rotate(39.7)" y="1.4">60</text>
<text transform="translate(469.0 346.9) rotate(44.3)" y="1.4">70</text>
<text transform="translate(459.6 336.9) rotate(48.9)" y="1.4">80</text>
<text transform="translate(451.1 326.3) rotate(53.6)" y="1.4">90</text>
<text transform="translate(443.4 314.9) rotate(58.2)" y="1.4">100</text>
<text transform="translate(436.7 303.0) rotate(62.9)" y="1.4">110</text>
<text transform="translate(430.9 290.6) rotate(67.5)" y="1.4">120</text>
<text transform="translate(426.2 277.7) rotate(72.2)" y="1.4">130</text>
<text transform="translate(422.6 264.5) rotate(76.8)" y="1.4">140</text>
<text transform="translate(420.0 251.1) rotate(81.5)" y="1.4">150</text>
<text transform="translate(418.5 237.5) rotate(86.1)" y="1.4">160</text>
<text transform="translate(418.1 223.8) rotate(-89.3)" y="1.4">170</text>
<text transform="translate(418.8 210.1) rotate(-84.6)" y="1.4">180</text>
<text transform="translate(420.7 196.6) rotate(-80.0)" y="1.4">190</text>
<text transform="translate(423.6 183.2) rotate(-75.3)" y="1.4">200</text>
<text transform="translate(427.6 170.1) rotate(-70.7)" y="1.4">210</text>
<text transform="translate(432.7 157.4) rotate(-66.0)" y="1.4">220</text>
<text transform="translate(438.7 145.1) rotate(-61.4)" y="1.4">230</text>
<text transform="translate(445.8 133.4) rotate(-56.7)" y="1.4">240</text>
<text transform="translate(453.7 122.2) rotate(-52.1)" y="1.4">250</text>
<text transform="translate(462.6 111.8) rotate(-47.4)" y="1.4">260</text>
<text transform="translate(472.2 102.1) rotate(-42.8)" y="1.4">270</text>
<text transform="translate(482.6 93.2) rotate(-38.2)" y="1.4">280</text>
<text transform="translate(493.7 85.2) rotate(-33.5)" y="1.4">290</text>
<text transform="translate(505.5 78.1) rotate(-28.9)" y="1.4">300</text>
<text transform="translate(528.3 67.6) rotate(-20.3)" y="1.4">0</text>
<text transform="translate(541.3 63.4) rotate(-15.7)" y="1.4">10</text>
<text transform="translate(554.6 60.2) rotate(-11.0)" y="1.4">20</text>
<text transform="translate(568.2 58.2) rotate(-6.4)" y="1.4">30</text>
<text transform="translate(581.8 57.2) rotate(-1.8)" y="1.4">40</text>
<text transform="translate(595.5 57.3) rotate(2.9)" y="1.4">50</text>
<text transform="translate(609.1 58.6) rotate(7.5)" y="1.4">60</text>
<text transform="translate(622.6 60.9) rotate(12.2)" y="1.4">70</text>
<text transform="translate(635.9 64.3) rotate(16.8)" y="1.4">80</text>
<text transform="translate(648.8 68.8) rotate(21.5)" y="1.4">90</text>
<text transform="translate(661.3 74.3) rotate(26.1)" y="1.4">100</text>
<text transform="translate(673.4 80.9) rotate(30.8)" y="1.4">110</text>
<text transform="translate(684.8 88.3) rotate(35.4)" y="1.4">120</text>
<text transform="translate(695.7 96.7) rotate(40.0)" y="1.4">130</text>
<text transform="translate(705.8 105.9) rotate(44.7)" y="1.4">140</text>
<text transform="translate(715.1 115.9) rotate(49.3)" y="1.4">150</text>
<text transform="translate(723.6 126.7) rotate(54.0)" y="1.4">160</text>
<text transform="translate(731.2 138.1) rotate(58.6)" y="1.4">170</text>
<text transform="translate(737.9 150.0) rotate(63.3)" y="1.4">180</text>
<text transform="translate(743.5 162.5) rotate(67.9)" y="1.4">190</text>
<text transform="translate(748.1 175.4) rotate(72.6)" y="1.4">200</text>
<text transform="translate(751.7 188.6) rotate(77.2)" y="1.4">210</text>
<text transform="translate(754.2 202.1) rotate(81.9)" y="1.4">220</text>
<text transform="translate(755.6 215.7) rotate(86.5)" y="1.4">230</text>
<text transform="translate(755.9 229.4) rotate(-88.9)" y="1.4">240</text>
<text transform="translate(755.0 243.0) rotate(-84.2)" y="1.4">250</text>
<text transform="translate(753.1 256.6) rotate(-79.6)" y="1.4">260</text>
<text transform="translate(750.1 269.9) rotate(-74.9)" y="1.4">270</text>
<text transform="translate(742.1 292.9) rotate(-66.7)" y="1.4">0</text>
<text transform="translate(736.1 305.3) rotate(-62.0)" y="1.4">10</text>
<text transform="translate(729.2 317.1) rotate(-57.4)" y="1.4">20</text>
<text transform="translate(721.4 328.3) rotate(-52.7)" y="1.4">30</text>
<text transform="translate(712.7 338.9) rotate(-48.1)" y="1.4">40</text>
<text transform="translate(703.1 348.7) rotate(-43.4)" y="1.4">50</text>
<text transform="translate(692.8 357.7) rotate(-38.8)" y="1.4">60</text>
<text transform="translate(681.8 365.8) rotate(-34.1)" y="1.4">70</text>
<text transform="translate(670.1 373.0) rotate(-29.5)" y="1.4">80</text>
<text transform="translate(658.0 379.3) rotate(-24.8)" y="1.4">90</text>
<text transform="translate(645.3 384.5) rotate(-20.2)" y="1.4">100</text>
<text transform="translate(632.3 388.7) rotate(-15.6)" y="1.4">110</text>
</g>
<path d="M558.8 361.3L557.8 366.1 557.3 366.4 556.9 366.1 556.4 366.1 556.0 365.7 555.5 366.0 554.9 366.5 554.6 365.8 554.2 365.8 553.9 365.1 553.3 365.3 552.9 365.1 552.5 365.1 552.1 364.8 551.6 364.9 551.2 364.6 550.7 364.6 550.4 364.2 549.8 364.5 549.5 364.1 548.9 364.4 548.6 364.0 548.1 364.1 547.7 363.8 547.2 363.8 546.8 363.6 546.3 363.6 545.9 363.4 545.6 363.0 545.1 363.0 544.6 362.9 544.2 362.9 543.8 362.6 543.3 362.7 543.0 362.3 542.6 362.0 542.0 362.2 541.6 362.0 541.3 361.6 540.7 361.9 540.4 361.5 540.0 361.2 539.4 361.4 539.1 361.0 538.7 360.9 538.3 360.5 537.8 360.8 537.4 360.6 537.0 360.3 536.6 360.1 536.1 360.1 535.8 359.6 535.3 359.6 534.9 359.4 534.4 359.4 534.1 359.1 533.7 358.8 533.2 358.8 532.7 358.8 532.3 358.6 531.9 358.4 531.6 357.9 531.2 357.7 530.8 357.6 530.3 357.6 530.0 357.2 529.5 357.2 529.1 356.9 528.7 356.8 528.2 356.6 527.9 356.4 527.5 356.1 526.9 356.3 526.7 355.8 526.1 355.9 525.9 355.3 525.3 355.4 524.9 355.2 524.6 355.0 524.0 355.0 523.7 354.6 523.3 354.4 522.9 354.2 522.5 354.0 522.2 353.7 521.6 353.7 521.2 353.5 520.8 353.4 520.6 352.9 520.3 352.5 519.9 352.3 519.2 352.5 519.0 351.9 518.4 352.1 518.1 351.7 517.8 351.4 517.3 351.3 517.0 350.9 516.5 350.9 516.2 350.6 515.7 350.5 515.5 349.9 515.1 349.8 514.5 349.8 514.3 349.3 513.7 349.4 513.5 348.9 513.0 348.9 512.5 348.8 512.2 348.4 512.0 347.9 511.6 347.7 511.1 347.6 510.8 347.3 510.4 347.0 509.9 346.9 509.5 346.8 509.2 346.4 509.0 345.9 508.3 346.1 508.0 345.8 507.7 345.5 507.4 345.1 507.1 344.8 506.7 344.5 506.2 344.4 505.9 344.1 505.4 344.0 505.3 343.4 504.9 343.2 504.2 343.3 504.1 342.7 503.7 342.5 503.4 342.1 502.8 342.2 502.4 342.0 502.0 341.8 501.9 341.2 501.5 341.0 501.0 340.8 500.9 340.2 500.4 340.1 500.0 339.9 499.8 339.4 499.1 339.6 499.1 338.9 498.5 338.9 498.2 338.5 497.8 338.3 497.5 338.0 497.3 337.6 496.9 337.3 496.5 337.1 496.1 336.9 495.8 336.5 495.5 336.2 494.9 336.1 494.8 335.6 494.4 335.4 494.0 335.1 493.9 334.6 493.5 334.3 493.2 334.0 492.6 334.0 492.2 333.7 491.9 333.5 491.7 333.0 491.5 332.5 491.1 332.3 490.5 332.3 490.4 331.7 490.0 331.5 489.8 331.1 489.5 330.7 489.2 330.4 488.5 330.4 488.2 330.1 487.9 329.7 487.8 329.2 487.5 328.9 487.0 328.8 486.9 328.2 486.3 328.2 486.1 327.8 485.8 327.4 485.5 327.0 485.3 326.6 484.9 326.4 484.7 326.0 484.4 325.7 484.0 325.4 483.6 325.1 483.2 324.9 483.2 324.3 482.6 324.2 482.4 323.8 481.9 323.6 481.7 323.2 481.5 322.8 481.1 322.6 480.6 322.4 480.4 321.9 480.4 321.4 479.7 321.4 479.5 321.0 479.4 320.5 478.9 320.3 478.6 319.9 478.4 319.6 477.9 319.3 477.8 318.9 477.7 318.4 477.2 318.2 477.2 317.6 476.6 317.5 476.4 317.1 476.0 316.8 475.6 316.6 475.5 316.1 475.1 315.9 475.1 315.2 474.5 315.1 474.3 314.7 473.9 314.5 473.9 313.9 473.6 313.6 473.4 313.2 472.8 313.0 472.9 312.4 472.5 312.1 472.3 311.7 471.8 311.5 471.8 311.0 471.6 310.5 471.1 310.4 471.0 309.9 470.6 309.6 470.3 309.3 470.0 308.9 469.7 308.6 469.6 308.1 469.1 307.9 469.0 307.4 468.9 306.9 468.4 306.8 468.2 306.4 467.8 306.1 467.6 305.7 467.5 305.2 467.4 304.7 467.1 304.4 467.1 303.9 466.6 303.6 466.4 303.2 466.0 302.9 465.8 302.6 465.7 302.0 465.5 301.7 464.9 301.5 464.9 301.0 464.7 300.6 464.5 300.2 463.9 300.0 464.1 299.3 463.7 299.1 463.7 298.5 463.3 298.2 462.8 298.0 462.7 297.6 462.4 297.2 462.2 296.8 462.1 296.4 462.0 295.9 461.6 295.6 461.3 295.2 461.1 294.8 461.0 294.4 461.0 293.9 460.4 293.7 460.6 293.1 460.2 292.8 460.2 292.2 459.6 292.0 459.6 291.5 459.6 291.0 458.9 290.9 459.0 290.3 458.7 290.0 458.7 289.5 458.5 289.1 458.0 288.8 458.0 288.3 457.6 288.0 457.5 287.6 457.2 287.2 457.1 286.7 456.9 286.3 456.6 286.0 456.7 285.4 456.2 285.2 456.0 284.7 455.8 284.3 456.0 283.8 455.5 283.5 455.7 282.9 455.5 282.5 455.2 282.2 454.8 281.8 454.9 281.3 454.8 280.8 454.3 280.6 454.1 280.2 454.0 279.7 454.1 279.2 453.8 278.8 453.9 278.3 453.7 277.9 453.1 277.7 453.4 277.1 452.8 276.8 452.8 276.3 452.5 276.0 452.4 275.5 452.4 275.0 452.3 274.6 452.2 274.1 451.9 273.8 451.9 273.3 451.7 272.9 451.3 272.6 451.6 272.0 451.0 271.7 451.1 271.2 450.7 270.8 450.6 270.4 450.8 269.9 450.7 269.4 450.3 269.1 450.3 268.6 450.1 268.2 449.8 267.8 450.1 267.3 449.9 266.8 449.8 266.4 449.7 266.0 449.2 265.6 449.0 265.2 449.1 264.7 448.7 264.4 449.0 263.8 448.5 263.5 448.7 263.0 448.5 262.6 448.6 262.1 448.3 261.7 448.0 261.3 448.0 260.8 447.8 260.4 447.7 260.0 447.5 259.6 447.4 259.1 447.4 258.7 447.6 258.1 447.3 257.7 447.0 257.4 447.1 256.9 447.2 256.4 446.8 256.0 447.1 255.5 446.9 255.1 446.9 254.6 446.6 254.2 446.6 253.8 446.2 253.4 446.1 252.9 446.2 252.5 446.1 252.0 446.1 251.6 445.7 251.2 446.1 250.7 445.8 250.2 445.6 249.8 445.5 249.4 445.4 248.9 445.6 248.4 445.5 248.0 445.6 247.5 445.2 247.1 445.0 246.7 445.3 246.2 445.2 245.8 444.9 245.4 444.9 244.9 444.7 244.5 444.9 244.0 444.5 243.6 444.5 243.1 444.4 242.7 444.4 242.2 444.4 241.8 444.5 241.3 444.2 240.9 444.3 240.4 444.5 240.0 444.2 239.5 444.3 239.1 444.2 238.6 444.4 238.2 444.1 237.7 444.3 237.3 443.9 236.8 444.3 236.4 444.2 235.9 444.1 235.5 443.9 235.0 444.2 234.6 443.8 234.1 443.6 233.7 443.9 233.2 443.7 232.8 443.5 232.4 443.5 231.9 443.8 231.4 443.7 231.0 443.5 230.5 443.5 230.1 443.9 229.6 443.5 229.2 443.7 228.7 443.7 228.3 443.5 227.8 444.0 227.4 443.7 226.9 443.8 226.5 444.0 226.0 443.8 225.6 443.5 225.1 443.6 224.7 443.6 224.2 443.6 223.8 443.4 223.3 443.6 222.9 443.8 222.4 443.7 222.0 443.4 221.5 443.6 221.1 443.6 220.6 443.9 220.2 443.5 219.7 443.7 219.3 443.6 218.8 443.9 218.4 443.7 217.9 443.8 217.5 444.1 217.0 444.2 216.6 444.1 216.1 444.3 215.7 443.8 215.2 444.3 214.8 444.3 214.3 444.0 213.9 444.3 213.4 444.3 213.0 444.3 212.5 444.2 212.1 444.6 211.7 444.6 211.2 444.7 210.7 444.3 210.3 444.5 209.8 444.9 209.4 444.4 208.9 444.7 208.5 444.5 208.0 445.1 207.6 445.0 207.2 445.2 206.7 445.2 206.3 444.9 205.8 445.0 205.3 445.5 205.0 445.2 204.5 445.4 204.0 445.7 203.6 445.8 203.2 445.3 202.7 445.7 202.2 445.5 201.8 446.0 201.4 445.7 200.9 446.2 200.5 446.2 200.0 446.4 199.6 446.1 199.1 446.0 198.6 446.4 198.3 446.3 197.8 446.7 197.4 446.5 196.9 447.0 196.5 446.8 196.0 446.7 195.6 447.0 195.2 447.2 194.7 447.1 194.3 447.5 193.9 447.5 193.4 447.5 193.0 447.4 192.5 447.7 192.1 448.0 191.7 447.9 191.2 447.9 190.7 448.2 190.4 448.5 190.0 448.6 189.5 448.5 189.0 448.6 188.6 448.9 188.2 448.9 187.7 449.1 187.3 449.4 186.9 449.2 186.4 449.6 186.1 449.3 185.5 449.6 185.1 450.1 184.8 450.1 184.3 449.9 183.8 450.4 183.5 450.2 182.9 450.6 182.6 450.8 182.2 450.9 181.8 450.6 181.2 451.2 180.9 451.3 180.5 451.4 180.0 451.5 179.6 451.5 179.1 451.7 178.7 451.9 178.3 452.0 177.8 452.2 177.4 452.4 177.0 452.4 176.6 452.9 176.3 453.0 175.8 453.0 175.3 453.3 175.0 453.3 174.5 453.5 174.1 453.7 173.7 453.8 173.2 453.8 172.7 454.0 172.3 454.4 172.0 454.6 171.6 454.8 171.2 455.0 170.8 454.8 170.2 455.0 169.8 455.2 169.4 455.5 169.1 455.6 168.6 455.8 168.2 456.0 167.8 456.0 167.3 456.3 167.0 456.6 166.6 456.8 166.2 456.9 165.7 456.9 165.3 457.3 164.9 457.6 164.5 457.6 164.1 458.1 163.8 458.1 163.3 458.5 163.0 458.3 162.4 458.6 162.0 459.1 161.8 459.3 161.4 459.4 160.9 459.4 160.4 459.9 160.1 460.0 159.7 459.9 159.2 460.6 159.0 460.7 158.5 460.6 158.0 460.9 157.6 461.2 157.3 461.4 156.9 461.8 156.6 461.9 156.1 462.0 155.7 462.6 155.5 462.6 155.0 462.9 154.7 463.2 154.3 463.0 153.6 463.3 153.3 463.7 153.0 463.8 152.5 464.3 152.3 464.4 151.8 464.4 151.3 465.0 151.2 465.3 150.8 465.5 150.4 465.4 149.8 465.7 149.5 466.2 149.3 466.1 148.7 466.8 148.6 466.7 148.0 466.8 147.5 467.3 147.3 467.4 146.8 467.6 146.4 468.1 146.2 468.1 145.7 468.3 145.3 468.7 145.0 469.1 144.7 469.1 144.2 469.5 143.9 469.8 143.5 470.2 143.3 470.5 142.9 470.7 142.5 470.8 142.0 470.9 141.6 471.6 141.5 471.8 141.1 472.0 140.7 472.0 140.1 472.6 140.0 472.8 139.6 473.1 139.2 473.3 138.9 473.7 138.6 473.9 138.2 474.1 137.8 474.3 137.3 474.6 137.0 475.1 136.8 475.3 136.4 475.5 136.0 476.0 135.8 476.2 135.4 476.4 135.0 476.7 134.6 476.9 134.3 477.3 134.0 477.5 133.5 477.7 133.1 478.0 132.8 478.3 132.5 478.9 132.3 479.2 132.0 479.3 131.6 479.5 131.1 480.0 130.9 480.3 130.6 480.6 130.2 481.0 130.0 481.2 129.6 481.5 129.3 481.7 128.8 481.9 128.4 482.5 128.3 482.7 127.9 482.7 127.4 483.4 127.3 483.5 126.8 484.0 126.7 484.3 126.4 484.4 125.8 484.8 125.6 485.3 125.4 485.5 125.0 485.9 124.8 486.0 124.2 486.4 124.0 486.8 123.7 487.0 123.3 487.3 123.0 487.5 122.5 488.0 122.4 488.5 122.3 488.8 121.9 489.0 121.5 489.4 121.3 489.6 120.8 489.8 120.3 490.2 120.1 490.7 120.0 490.8 119.4 491.4 119.5 491.6 119.0 492.0 118.8 492.1 118.2 492.8 118.3 493.0 117.8 493.5 117.7 493.5 117.0 494.2 117.2 494.1 116.4 494.7 116.4 494.9 115.9 495.3 115.7 495.5 115.3 495.9 115.0 496.2 114.7 496.8 114.7 497.2 114.4 497.4 114.0 497.9 113.9 498.0 113.3 498.6 113.3 498.8 112.8 499.4 112.9 499.8 112.7 500.0 112.2 500.3 111.8 500.6 111.5 501.0 111.2 501.4 111.1 501.6 110.6 502.3 110.7 502.6 110.4 503.0 110.2 503.3 109.8 503.5 109.3 503.8 109.0 504.5 109.2 504.6 108.6 505.1 108.5 505.4 108.1 505.8 107.8 506.3 107.8 506.6 107.5 507.0 107.2 507.4 107.0 507.7 106.8 508.0 106.3 508.3 105.9 508.7 105.7 509.2 105.7 509.4 105.2 510.0 105.2 510.2 104.8 510.8 104.8 511.0 104.2 511.4 104.2 511.7 103.8 512.1 103.5 512.7 103.7 513.0 103.2 513.5 103.2 513.9 103.0 514.2 102.7 514.5 102.2 514.8 101.9 515.2 101.6 515.8 101.8 516.3 101.7 516.6 101.4 517.0 101.3 517.4 100.9 517.7 100.6 518.1 100.4 518.6 100.3 518.8 99.8 519.2 99.5 519.7 99.5 520.2 99.5 520.4 99.0 520.7 98.6 521.2 98.5 521.8 98.7 522.0 98.1L524.4 102.8A138.2 138.2 0 0 0 558.8 361.3ZM539.0 96.4L537.1 91.4 537.6 91.5 538.0 91.3 538.4 91.1 538.8 90.8 539.3 90.9 539.7 90.6 540.2 90.6 540.6 90.4 541.1 90.4 541.5 90.4 541.8 89.8 542.3 89.9 542.7 89.5 543.1 89.5 543.6 89.5 544.0 89.4 544.5 89.4 544.8 88.9 545.4 89.2 545.7 88.7 546.1 88.5 546.7 88.8 547.0 88.2 547.5 88.5 547.8 87.9 548.4 88.2 548.8 87.8 549.2 87.7 549.6 87.6 550.1 87.7 550.5 87.4 550.9 87.1 551.4 87.4 551.8 87.1 552.3 86.9 552.7 86.9 553.2 87.0 553.6 86.6 554.1 86.8 554.5 86.6 554.9 86.3 555.4 86.3 555.7 86.0 556.2 86.2 556.7 85.9 557.1 85.9 557.6 86.0 558.0 85.9 558.4 85.6 558.8 85.4 559.3 85.2 559.8 85.4 560.2 85.5 560.6 85.2 561.0 84.9 561.6 85.2 562.0 85.2 562.4 84.7 562.9 85.0 563.3 84.8 563.8 84.9 564.2 84.7 564.6 84.5 565.1 84.6 565.5 84.1 566.0 84.2 566.4 84.3 566.9 84.4 567.3 84.0 567.8 84.2 568.2 83.7 568.6 83.7 569.1 84.0 569.6 84.0 570.0 83.8 570.4 83.6 570.9 83.4 571.4 83.8 571.8 83.4 572.2 83.2 572.7 83.6 573.2 83.5 573.6 83.5 574.0 83.4 574.5 83.3 574.9 83.0 575.4 83.1 575.8 83.2 576.3 83.3 576.7 82.8 577.2 83.0 577.6 83.3 578.1 82.7 578.5 82.7 579.0 82.7 579.4 82.9 579.9 82.9 580.3 83.1 580.8 83.0 581.2 82.6 581.7 83.0 582.1 82.7 582.6 83.0 583.0 82.9 583.5 82.9 583.9 82.8 584.4 82.7 584.8 82.4 585.3 82.6 585.7 82.9 586.2 82.3 586.6 82.9 587.1 82.3 587.5 82.4 588.0 82.5 588.5 82.6 588.9 82.9 589.3 83.0 589.8 82.6 590.2 82.9 590.7 82.5 591.2 82.8 591.6 83.0 592.1 82.6 592.5 83.0 593.0 82.9 593.4 83.0 593.9 82.9 594.3 82.6 594.8 82.6 595.2 82.9 595.7 82.9 596.1 82.9 596.6 83.0 597.0 83.2 597.4 83.3 597.9 83.3 598.3 83.4 598.8 83.1 599.3 82.9 599.7 83.1 600.2 83.4 600.6 83.1 601.1 83.0 601.5 83.5 601.9 83.8 602.4 83.6 602.8 83.8 603.3 83.7 603.8 83.6 604.2 83.6 604.7 83.7 605.1 83.9 605.5 84.2 606.0 83.7 606.4 84.2 606.9 84.2 607.3 84.3 607.8 84.2 608.2 84.4 608.6 84.6 609.2 84.1 609.5 84.6 610.0 84.5 610.5 84.5 610.9 84.8 611.3 84.8 611.8 84.8 612.2 85.0 612.7 84.8 613.1 85.2 613.5 85.3 613.9 85.5 614.4 85.3 614.9 85.2 615.3 85.5 615.7 85.9 616.2 85.7 616.6 86.0 617.0 86.2 617.6 85.8 618.0 86.0 618.4 86.3 618.9 86.1 619.2 86.6 619.8 86.3 620.2 86.5 620.6 86.9 621.0 87.1 621.5 86.7 621.9 86.9 622.4 86.8 622.7 87.5 623.3 87.1 623.6 87.7 624.1 87.5 624.6 87.7 625.0 87.8 625.4 88.1 625.9 87.8 626.3 88.0 626.7 88.5 627.2 88.1 627.6 88.6 628.1 88.5 628.4 88.9 628.9 89.0 629.2 89.3 629.7 89.4 630.2 89.4 630.6 89.5 630.9 89.9 631.6 89.5 631.9 90.0 632.4 89.9 632.8 90.1 633.2 90.2 633.7 90.3 634.1 90.4 634.5 90.6 635.0 90.7 635.2 91.3 635.8 91.0 636.2 91.4 636.6 91.5 637.1 91.5 637.4 91.9 637.8 92.2 638.3 92.1 638.8 92.1 639.1 92.5 639.4 92.9 639.8 93.1 640.3 93.1 640.7 93.3 641.2 93.3 641.7 93.3 642.1 93.6 642.5 93.7 642.9 94.0 643.3 94.2 643.7 94.3 644.2 94.3 644.5 94.7 645.0 94.8 645.4 95.0 645.8 95.3 646.2 95.4 646.5 95.8 647.0 95.8 647.5 95.9 647.9 96.1 648.3 96.1 648.6 96.7 649.1 96.7 649.5 96.8 649.8 97.3 650.2 97.4 650.7 97.5 651.0 97.8 651.6 97.7 652.0 98.0 652.2 98.6 652.7 98.5 653.1 98.7 653.5 99.1 653.7 99.5 654.2 99.6 654.7 99.5 655.1 99.7 655.4 100.1 655.9 100.2 656.4 100.2 656.6 100.9 657.2 100.7 657.6 100.9 657.9 101.3 658.1 101.8 658.7 101.7 658.9 102.2 659.3 102.4 659.7 102.7 660.2 102.8 660.4 103.2 661.0 103.2 661.3 103.5 661.8 103.5 661.9 104.2 662.5 104.1 662.9 104.3 663.4 104.4 663.7 104.8 664.1 105.0 664.5 105.2 664.9 105.5 665.1 105.9 665.6 106.0 665.9 106.3 666.3 106.5 666.6 106.9 667.1 107.0 667.3 107.4 667.7 107.8 668.0 108.0 668.6 108.0 668.9 108.3 669.1 108.9 669.7 108.7 670.0 109.2 670.3 109.5 670.8 109.6 671.2 109.8 671.5 110.2 671.8 110.5 672.2 110.7 672.5 111.1 672.8 111.4 673.2 111.6 673.4 112.1 673.9 112.2 674.2 112.6 674.8 112.5 675.0 113.0 675.4 113.2 675.8 113.5 676.3 113.6 676.5 114.0 677.0 114.2 677.2 114.6 677.5 114.9 677.9 115.2 678.2 115.5 678.4 116.0 678.8 116.2 679.1 116.5 679.7 116.5 679.9 117.0 680.3 117.2 680.6 117.6 681.0 117.8 681.3 118.1 681.5 118.5 681.9 118.8 682.3 119.0 682.6 119.4 683.0 119.5 683.3 119.9 683.6 120.2 684.1 120.4 684.3 120.9 684.7 121.1 685.0 121.4 685.1 121.9 685.8 121.9 686.1 122.3 686.4 122.6 686.6 123.0 686.8 123.5 687.4 123.5 687.5 124.0 688.0 124.1 688.1 124.7 688.5 124.9 688.9 125.2 689.1 125.6 689.4 126.0 689.8 126.1 689.9 126.7 690.4 126.8 690.8 127.1 691.0 127.5 691.3 127.8 691.7 128.1 691.8 128.7 692.1 129.0 692.5 129.2 692.7 129.6 693.3 129.7 693.4 130.2 693.8 130.5 693.9 131.0 694.3 131.3 694.6 131.6 694.8 132.0 695.2 132.3 695.5 132.6 695.7 133.0 696.0 133.4 696.5 133.5 696.8 133.8 697.0 134.3 697.5 134.5 697.5 135.0 697.8 135.3 698.1 135.7 698.3 136.1 698.9 136.2 698.9 136.8 699.4 136.9 699.4 137.6 700.0 137.7 700.3 138.0 700.5 138.4 700.6 138.9 701.1 139.1 701.4 139.4 701.6 139.8 701.9 140.1 702.0 140.6 702.1 141.1 702.6 141.3 702.8 141.8 703.2 142.0 703.3 142.5 703.6 142.8 704.0 143.1 704.0 143.7 704.3 144.0 704.7 144.2 704.8 144.7 705.1 145.1 705.3 145.5 705.5 145.9 706.1 146.0 706.4 146.4 706.5 146.8 706.8 147.2 707.1 147.6 707.4 147.9 707.7 148.2 707.7 148.7 708.1 149.1 708.2 149.5 708.3 150.0 708.8 150.2 708.7 150.8 709.3 150.9 709.4 151.4 709.4 152.0 709.6 152.4 710.0 152.7 710.4 153.0 710.7 153.3 710.8 153.7 710.9 154.2 711.5 154.4 711.6 154.9 711.9 155.2 711.8 155.8 711.8 156.3 712.5 156.4 712.4 157.0 712.6 157.4 712.8 157.8 713.2 158.1 713.6 158.4 713.5 158.9 713.7 159.4 713.9 159.8 714.4 160.0 714.3 160.6 714.7 160.9 714.8 161.3 714.8 161.8 715.3 162.1 715.5 162.5 715.9 162.8 715.9 163.3 715.9 163.8 716.3 164.1 716.3 164.6 716.5 165.0 716.6 165.5 717.3 165.6 717.0 166.3 717.3 166.6 717.8 166.9 717.6 167.5 718.0 167.8 718.2 168.2 718.6 168.5 718.3 169.1 718.9 169.4 718.6 170.0 718.8 170.4 719.4 170.6 719.4 171.1 719.3 171.7 719.6 172.0 720.1 172.3 720.1 172.8 720.0 173.3 720.3 173.7 720.4 174.1 720.5 174.6 720.7 175.0 721.2 175.2 721.2 175.7 721.5 176.1 721.6 176.6 721.6 177.0 721.7 177.5 721.8 177.9 722.4 178.2 722.0 178.8 722.2 179.2 722.6 179.6 722.5 180.1 722.6 180.5 723.2 180.8 723.3 181.2 723.0 181.8 723.4 182.1 723.7 182.5 723.8 182.9 724.1 183.3 724.1 183.8 724.0 184.3 724.2 184.7 724.5 185.1 724.7 185.5 724.8 185.9 725.0 186.4 724.8 186.9 724.7 187.4 725.1 187.7 725.0 188.3 725.4 188.6 725.6 189.0 725.6 189.5 725.9 189.9 725.8 190.4 726.0 190.8 726.1 191.2 726.3 191.6 726.0 192.2 726.5 192.5 726.4 193.0 726.8 193.4 726.5 193.9 726.5 194.4 726.9 194.7 727.1 195.2 727.0 195.6 727.3 196.0 727.4 196.5 727.4 196.9 727.5 197.4 727.8 197.8 727.3 198.3 727.6 198.7 727.8 199.2 727.6 199.7 727.8 200.1 727.9 200.5 728.2 200.9 728.2 201.4 728.6 201.8 728.3 202.3 728.1 202.8 728.6 203.2 728.8 203.6 728.9 204.0 729.0 204.5 729.0 204.9 729.0 205.4 728.9 205.8 728.8 206.3 728.8 206.8 729.2 207.2 729.1 207.6 729.2 208.1 729.2 208.5 729.6 208.9 729.2 209.4 729.5 209.9 729.5 210.3 729.4 210.8 729.8 211.2 729.4 211.7 729.7 212.1 729.9 212.5 730.0 213.0 729.6 213.5 730.0 213.9 729.6 214.4 729.7 214.8 730.0 215.3 730.1 215.7 729.7 216.2 730.2 216.6 730.1 217.1 730.3 217.5 730.4 217.9 729.9 218.4 730.1 218.9 730.1 219.3 730.3 219.8 730.1 220.2 729.9 220.7 730.6 221.1 730.3 221.6 730.3 222.0 730.1 222.5 730.5 222.9 730.1 223.4 730.1 223.8 730.6 224.3 730.5 224.7 730.6 225.2 730.3 225.6 730.5 226.1 730.0 226.5 730.1 227.0 730.3 227.4 730.3 227.9 730.6 228.3 730.0 228.8 730.5 229.2 730.3 229.7 730.1 230.1 729.9 230.6 730.4 231.0 730.3 231.5 730.5 231.9 730.0 232.4 729.9 232.8 730.0 233.3 730.0 233.7 729.8 234.2 730.2 234.6 730.2 235.1 730.3 235.6 729.9 236.0 730.1 236.5 730.2 236.9 730.0 237.3 729.5 237.8 729.8 238.2 729.9 238.7 729.9 239.2 730.0 239.6 729.9 240.1 729.7 240.5 729.5 240.9 729.2 241.3 729.7 241.9 729.5 242.3 729.1 242.7 729.4 243.2 729.6 243.7 729.3 244.1 729.1 244.5 729.0 245.0 728.8 245.4 729.3 245.9 729.1 246.3 728.8 246.7 728.8 247.2 728.6 247.6 728.8 248.1 728.7 248.6 728.6 249.0 728.3 249.4 728.0 249.8 728.3 250.3 727.9 250.7 728.1 251.2 727.7 251.6 728.1 252.1 727.6 252.5 727.5 252.9 727.9 253.5 727.8 253.9 727.8 254.4 727.6 254.8 727.3 255.2 727.4 255.7 727.3 256.1 727.0 256.5 727.0 257.0 727.0 257.4 726.9 257.9 726.3 258.2 726.3 258.7 726.6 259.2 726.2 259.6 726.4 260.1 726.2 260.5 725.8 260.8 725.7 261.3 725.9 261.8 725.9 262.3 725.4 262.6 725.2 263.0 725.4 263.5 725.1 263.9 724.9 264.3 724.7 264.8 724.9 265.3 724.9 265.7 724.3 266.1 724.4 266.5 724.1 266.9 724.1 267.4L719.3 265.9A138.2 138.2 0 0 0 539.0 96.4ZM713.9 280.8L718.4 282.7 718.5 283.3 718.1 283.6 718.3 284.1 717.6 284.4 717.4 284.8 717.3 285.2 717.2 285.7 717.2 286.1 717.0 286.5 716.5 286.8 716.7 287.4 716.4 287.8 715.9 288.0 716.1 288.6 715.8 289.0 715.3 289.2 715.5 289.8 715.0 290.1 714.7 290.4 714.8 291.0 714.7 291.4 714.6 291.9 714.0 292.1 714.1 292.6 713.7 293.0 713.7 293.5 713.2 293.7 712.8 294.0 713.0 294.7 712.6 294.9 712.3 295.3 712.3 295.8 711.8 296.0 711.9 296.6 711.8 297.0 711.4 297.4 710.9 297.6 711.1 298.2 710.9 298.6 710.4 298.9 710.5 299.4 710.1 299.7 709.6 300.0 709.2 300.3 709.5 300.9 709.1 301.3 708.6 301.4 708.5 301.9 708.2 302.3 708.1 302.8 707.7 303.0 707.8 303.6 707.1 303.7 707.2 304.3 707.0 304.7 706.4 304.9 706.1 305.2 706.3 305.9 705.8 306.1 705.5 306.4 705.4 306.9 704.9 307.1 704.7 307.5 704.5 307.9 704.3 308.3 703.8 308.5 703.6 308.9 703.6 309.5 703.3 309.8 703.1 310.2 702.5 310.4 702.4 310.8 702.2 311.3 701.8 311.5 701.8 312.1 701.3 312.3 701.1 312.7 700.8 313.0 700.7 313.5 700.3 313.8 699.9 314.0 699.9 314.6 699.2 314.7 699.2 315.2 699.0 315.6 698.5 315.8 698.4 316.3 698.1 316.7 697.7 316.9 697.3 317.2 697.0 317.5 696.8 317.9 696.6 318.3 696.3 318.6 695.9 318.9 695.5 319.2 695.5 319.8 695.1 320.0 694.7 320.3 694.3 320.5 694.2 321.0 694.1 321.6 693.4 321.5 693.3 322.0 692.9 322.3 692.7 322.7 692.6 323.2 692.0 323.3 691.9 323.8 691.4 324.0 691.4 324.6 690.9 324.7 690.7 325.1 690.1 325.2 690.0 325.7 689.5 325.9 689.2 326.2 689.1 326.7 688.6 326.9 688.4 327.3 688.2 327.7 687.8 328.0 687.3 328.2 687.1 328.5 686.8 328.9 686.4 329.1 686.1 329.5 685.8 329.8 685.3 329.9 685.3 330.6 685.0 330.9 684.4 331.0 684.2 331.4 683.9 331.8 683.7 332.1 683.1 332.2 682.8 332.6 682.5 332.8 682.3 333.3 681.9 333.6 681.6 333.9 681.2 334.1 680.9 334.5 680.5 334.7 680.0 334.8 679.7 335.2 679.3 335.4 679.0 335.7 678.9 336.3 678.3 336.3 678.1 336.7 677.7 337.0 677.5 337.4 677.2 337.8 676.4 337.6 676.4 338.3 675.9 338.3 675.4 338.5 675.3 339.0 675.0 339.4 674.4 339.3 674.2 339.8 673.8 340.0 673.3 340.2 673.1 340.6 672.8 341.0 672.2 341.0 672.2 341.6 671.8 341.9 671.4 342.1 670.9 342.1 670.5 342.5 670.2 342.7 669.8 343.0 669.4 343.2 669.1 343.5 668.8 343.9 668.3 343.9 668.0 344.3 667.6 344.6 667.0 344.5 667.0 345.2 666.4 345.2 666.0 345.5 665.6 345.6 665.3 346.0 664.8 346.1 664.5 346.4 664.1 346.5 663.8 346.9 663.5 347.4 662.9 347.2 662.7 347.8 662.2 347.8 661.7 347.9 661.5 348.3 661.0 348.4 660.8 349.0 660.5 349.3 660.0 349.3 659.6 349.6 659.3 350.0 658.8 350.0 658.4 350.3 658.1 350.5 657.7 350.8 657.3 351.1 656.9 351.3 656.5 351.5 655.9 351.4 655.7 351.8 655.3 352.0 655.0 352.4 654.4 352.3 654.0 352.6 653.8 353.1 653.2 352.9 652.8 353.2 652.6 353.7 652.1 353.8 651.7 354.0 651.4 354.3 650.8 354.1 650.6 354.7 650.1 354.7 649.6 354.9 649.2 355.1 648.7 355.1 648.5 355.6 647.9 355.5 647.7 356.1 647.3 356.3 646.8 356.2 646.3 356.2 645.9 356.3 645.5 356.7 645.2 357.1 644.8 357.4 644.3 357.2 644.0 357.7 643.4 357.6 643.1 357.8 642.6 357.8 642.2 358.1 642.0 358.7 641.5 358.8 641.1 359.0 640.7 359.1 640.3 359.4 639.9 359.6 639.3 359.3 638.9 359.6 638.5 359.6 638.0 359.8 637.6 360.0 637.1 359.9 636.9 360.5 636.5 360.8 636.0 360.9 635.5 360.7 635.2 361.3 634.7 361.2 634.2 361.1 633.8 361.2 633.5 361.8 632.9 361.5 632.6 362.1 632.0 361.7 631.7 362.0 631.2 362.1 630.8 362.2 630.4 362.7 629.9 362.6 629.5 362.8 629.1 362.9 628.7 363.1 628.2 362.9 627.9 363.5 627.4 363.6 627.0 363.9 626.6 363.9 626.1 364.0 625.7 364.1 625.2 363.9 624.8 364.3 624.3 364.2 624.0 364.7 623.5 364.5 623.1 364.8L621.8 359.8A138.2 138.2 0 0 0 713.9 280.8Z" fill="#a7cfe4"/>
<path d="M561.5 348.2L559.5 357.9 560.3 352.0 559.5 353.5 559.9 349.3 558.9 351.5 559.1 348.7 558.5 349.4 555.8 359.0 557.3 350.5 557.3 348.5 556.6 349.5 556.3 348.8 555.6 349.9 555.4 348.7 555.2 347.7 551.9 358.3 554.3 347.5 552.3 353.3 551.1 355.5 551.4 352.9 549.7 357.2 552.1 346.9 550.4 351.2 550.7 348.6 548.2 355.2 548.4 352.9 547.6 353.9 549.1 347.4 546.5 354.4 548.2 347.4 548.1 346.2 547.8 345.6 547.3 345.7 546.9 345.7 545.2 349.1 545.5 346.7 544.9 347.2 545.3 344.8 542.1 352.4 544.5 344.3 542.6 348.1 543.6 344.1 543.2 343.8 542.7 344.0 539.5 350.9 539.8 348.9 541.5 343.3 540.8 343.9 540.7 342.9 540.2 342.8 539.8 342.5 539.4 342.4 539.0 342.2 536.7 346.7 538.1 341.9 535.9 346.0 537.0 342.3 535.9 343.7 536.5 341.2 536.1 340.9 533.8 345.1 532.3 347.3 532.1 346.5 533.9 341.5 532.6 343.1 533.7 339.8 530.2 346.1 531.8 341.7 531.7 340.9 528.1 347.2 530.4 341.3 531.2 338.7 530.8 338.5 529.5 340.1 529.3 339.5 526.2 344.6 529.1 337.8 528.7 337.6 527.3 339.3 526.5 339.8 527.3 337.5 526.7 337.5 526.8 336.4 526.4 336.3 526.0 336.0 525.6 335.8 524.9 336.2 524.0 336.8 522.4 338.7 522.9 336.8 523.3 335.4 523.3 334.4 522.5 334.9 522.5 333.9 522.0 334.0 519.8 336.7 521.3 333.4 519.6 335.2 520.6 332.8 518.6 335.1 519.9 332.3 519.2 332.4 519.1 331.9 518.7 331.5 518.1 331.6 518.0 331.1 517.6 330.9 517.0 330.9 515.5 332.3 516.5 330.1 516.1 329.8 514.8 330.9 513.0 332.7 513.4 331.3 514.1 329.5 513.8 329.1 513.8 328.4 513.0 328.7 511.1 330.6 510.4 330.7 512.3 327.3 512.0 327.1 510.2 328.7 510.3 327.8 511.0 326.1 506.1 331.8 509.7 326.3 506.3 330.0 507.9 327.1 509.0 325.0 507.0 326.8 507.9 325.0 508.1 323.9 503.1 329.5 507.4 323.3 504.8 325.8 502.6 327.7 504.2 325.1 500.7 328.6 504.5 323.4 503.6 323.7 501.2 325.8 503.8 322.1 503.9 321.3 499.7 325.3 503.0 320.9 503.1 320.1 501.3 321.4 499.4 322.8 500.9 320.5 500.3 320.5 499.3 320.9 499.3 320.2 499.4 319.5 500.7 317.4 498.1 319.5 495.9 321.1 499.7 316.5 496.6 319.0 496.4 318.5 498.7 315.6 498.4 315.2 497.4 315.6 496.4 316.0 497.4 314.3 496.2 314.9 492.8 317.6 493.4 316.3 493.9 315.2 495.7 312.8 493.7 314.1 495.2 312.0 491.6 314.8 492.4 313.4 490.1 314.9 494.0 310.7 493.0 311.1 493.5 310.0 488.0 314.2 491.8 310.3 492.0 309.5 492.0 308.8 491.3 308.9 488.0 311.1 488.7 309.9 489.7 308.4 489.5 308.1 488.0 308.7 489.1 307.2 489.2 306.5 487.6 307.2 489.2 305.3 488.6 305.2 488.7 304.6 488.5 304.2 488.0 304.0 487.8 303.6 487.3 303.4 487.0 303.0 484.6 304.3 486.5 302.3 483.7 303.8 486.3 301.3 486.0 301.0 485.5 300.8 483.4 301.8 483.0 301.5 484.6 299.8 484.5 299.3 480.9 301.3 482.5 299.6 481.8 299.6 480.2 300.1 480.9 299.0 483.0 297.1 480.9 297.9 482.2 296.5 476.7 299.6 481.2 296.1 481.9 295.1 481.0 295.1 480.9 294.6 475.2 297.8 480.0 294.2 480.5 293.3 479.7 293.3 477.2 294.3 479.5 292.3 479.8 291.6 479.4 291.3 478.2 291.5 478.4 290.9 478.6 290.2 478.0 290.1 472.6 292.7 470.9 293.1 470.9 292.6 470.6 292.2 472.1 290.8 476.3 287.9 476.2 287.5 473.9 288.2 470.4 289.6 474.0 287.1 467.2 290.2 470.2 288.0 474.9 285.0 472.1 286.0 475.3 283.8 472.3 284.9 474.9 283.0 470.5 284.7 474.1 282.4 474.3 281.8 474.1 281.4 468.7 283.5 473.6 280.6 472.1 280.9 471.9 280.4 467.8 281.9 471.7 279.5 468.0 280.8 471.5 278.6 472.4 277.7 471.8 277.5 471.5 277.1 466.9 278.7 468.5 277.5 465.3 278.3 471.3 275.2 468.8 275.8 470.3 274.7 469.9 274.4 469.9 273.9 465.4 275.2 469.1 273.3 465.6 274.1 469.8 272.0 466.1 272.9 469.7 271.1 469.3 270.7 467.0 271.1 466.2 270.9 465.0 270.9 468.9 269.0 462.4 270.8 465.4 269.2 468.4 267.7 466.0 268.1 458.2 270.3 459.4 269.3 467.4 266.1 460.7 267.9 467.1 265.3 464.7 265.6 466.1 264.7 465.6 264.3 466.9 263.4 466.5 263.1 466.5 262.6 464.3 262.8 464.3 262.3 466.2 261.3 461.8 262.1 464.7 260.8 465.3 260.2 465.5 259.6 464.2 259.5 464.2 259.1 465.0 258.4 462.7 258.5 465.1 257.4 461.9 257.8 461.5 257.4 464.8 256.1 461.3 256.5 464.6 255.2 464.1 254.9 460.4 255.3 463.3 254.1 456.6 255.2 464.2 253.0 461.4 253.1 464.0 252.1 455.9 253.4 462.2 251.6 455.4 252.5 463.2 250.4 454.7 251.6 459.1 250.3 460.6 249.6 461.2 249.0 460.9 248.6 463.1 247.7 462.1 247.4 452.3 248.6 461.3 246.6 462.7 246.0 460.6 245.8 462.7 245.0 456.3 245.5 461.6 244.3 462.5 243.7 460.5 243.5 459.8 243.2 457.7 243.0 462.3 241.9 462.2 241.5 461.7 241.1 459.4 240.9 452.2 241.2 462.0 239.7 460.9 239.3 461.5 238.8 460.6 238.5 461.2 237.9 454.5 238.1 461.8 237.0 461.1 236.6 458.9 236.3 455.0 236.2 452.7 235.9 453.8 235.3 452.7 234.9 453.9 234.3 459.1 233.5 460.6 233.0 459.6 232.6 453.4 232.4 458.3 231.7 454.2 231.5 456.7 230.9 460.6 230.3 461.3 229.8 461.3 229.4 460.2 228.9 459.9 228.5 457.0 228.1 459.7 227.6 454.5 227.2 460.4 226.7 460.6 226.2 459.3 225.8 460.3 225.3 453.5 224.8 458.4 224.4 458.9 223.9 458.3 223.5 452.4 222.9 459.1 222.6 460.2 222.1 460.3 221.7 461.2 221.3 452.5 220.4 457.8 220.2 454.9 219.6 459.3 219.4 457.6 218.8 457.2 218.3 454.8 217.7 458.0 217.4 459.6 217.1 452.7 216.1 460.6 216.2 454.2 215.3 458.5 215.2 461.7 215.0 459.1 214.3 453.5 213.3 461.1 213.6 457.6 212.7 461.4 212.7 461.5 212.2 459.2 211.5 461.4 211.3 454.4 210.0 461.5 210.4 460.5 209.8 459.8 209.3 456.5 208.4 459.7 208.3 462.6 208.3 462.6 207.8 462.1 207.3 459.1 206.4 457.7 205.7 462.9 206.0 462.2 205.5 462.0 205.0 463.1 204.7 458.8 203.5 462.0 203.6 455.2 201.9 460.7 202.4 463.3 202.5 463.5 202.0 458.3 200.6 460.0 200.4 463.5 200.7 461.9 199.9 458.6 198.7 464.0 199.4 459.4 197.9 464.2 198.5 464.2 198.1 462.6 197.2 464.6 197.2 463.6 196.5 464.8 196.3 462.0 195.2 460.3 194.3 461.1 194.0 465.2 194.6 462.7 193.5 465.4 193.7 465.0 193.1 465.7 192.9 465.5 192.3 464.9 191.7 459.4 189.7 462.0 189.9 465.4 190.4 466.5 190.3 462.7 188.7 465.3 189.0 463.4 187.9 466.9 188.5 467.1 188.1 466.2 187.4 467.4 187.3 463.5 185.5 467.5 186.4 465.5 185.2 465.5 184.7 468.1 185.1 468.3 184.7 468.4 184.3 467.3 183.4 461.5 180.8 466.7 182.2 462.0 180.0 469.1 182.1 467.4 181.0 466.0 180.0 465.6 179.3 465.9 179.0 466.8 178.8 467.9 178.8 459.2 174.8 463.3 175.9 464.4 175.8 470.4 177.8 463.8 174.5 471.2 177.1 468.9 175.7 471.3 176.2 471.7 175.9 470.6 174.9 468.4 173.5 471.6 174.4 468.9 172.6 472.5 173.8 467.2 170.8 472.2 172.6 468.0 170.2 473.0 172.1 463.0 166.8 469.5 169.4 470.6 169.4 470.3 168.7 473.9 170.0 474.4 169.7 473.5 168.8 474.4 168.7 473.3 167.6 475.1 168.1 475.1 167.5 475.8 167.4 469.7 163.6 476.1 166.6 476.4 166.2 474.9 164.9 474.2 163.9 474.5 163.6 476.7 164.3 477.5 164.2 477.5 163.7 477.8 163.4 474.4 160.9 477.8 162.3 474.6 159.9 472.9 158.4 475.6 159.4 477.9 160.3 478.2 159.9 476.7 158.5 476.0 157.5 480.3 159.6 479.6 158.7 479.1 157.8 480.9 158.4 479.0 156.6 480.9 157.3 478.2 155.0 478.5 154.6 482.2 156.6 482.4 156.2 480.6 154.4 482.9 155.4 483.2 155.1 479.9 152.2 483.5 154.2 481.8 152.4 480.4 150.9 483.3 152.3 483.9 152.2 484.8 152.3 485.3 152.1 485.0 151.4 485.8 151.4 486.0 151.0 486.1 150.5 484.6 148.8 486.1 149.4 480.9 144.8 485.0 147.4 487.7 148.9 487.3 148.0 487.7 147.7 488.5 147.8 488.5 147.2 489.1 147.1 488.7 146.2 483.3 141.2 490.0 146.1 483.9 140.4 487.3 142.6 485.1 140.2 489.3 143.1 491.1 144.1 488.9 141.6 488.7 140.8 491.9 143.0 492.6 143.0 487.6 138.0 493.2 142.3 491.2 140.0 493.2 141.1 489.5 137.1 491.7 138.5 494.7 140.7 494.9 140.2 495.2 139.9 493.3 137.5 488.4 132.1 494.7 137.5 496.3 138.5 492.4 134.0 497.2 138.0 497.3 137.6 496.8 136.4 498.0 137.0 498.4 136.8 497.4 135.1 498.9 135.9 494.2 130.4 499.7 135.5 500.1 135.2 498.5 132.9 500.3 134.2 499.4 132.5 500.8 133.3 501.7 133.6 500.3 131.4 500.7 131.3 502.0 131.9 502.2 131.5 503.3 132.1 501.8 129.7 504.0 131.5 504.1 130.9 503.2 129.2 502.4 127.6 505.0 129.9 502.2 125.9 502.8 125.9 502.1 124.3 506.8 129.2 505.4 126.8 501.4 121.2 504.6 124.4 502.7 121.3 502.7 120.5 507.6 125.9 509.0 127.0 505.7 121.9 509.6 126.3 510.3 126.4 510.6 126.0 508.9 123.1 510.5 124.5 510.2 123.3 506.7 117.7 510.1 121.6 512.6 124.2 509.5 119.2 513.5 123.9 510.7 119.2 509.5 116.7 513.3 121.2 514.7 122.4 515.3 122.6 515.2 121.7 514.7 120.1 514.1 118.3 516.4 121.0 515.8 119.3 514.8 117.0 517.6 120.4 514.6 114.9 518.0 119.3 519.1 120.2 517.8 117.2 516.4 114.1 517.7 115.3 520.6 119.2 518.6 115.0 521.3 118.6 521.5 118.0 520.7 115.8 522.5 118.0 523.0 117.8 521.3 114.2 523.6 117.2 524.1 117.1 524.3 116.6 524.5 116.0 523.1 112.6 525.4 115.7 526.0 115.9 523.5 110.5 526.3 114.7 526.7 114.4 524.0 108.3 527.3 113.6 527.7 113.4 528.8 114.5 526.8 109.6 529.6 114.1 530.0 113.9L530.5 114.7A124.8 124.8 0 0 0 561.5 348.2ZM543.6 109.0L543.3 108.1 543.5 107.4 543.2 105.1 543.5 104.8 541.7 98.3 544.2 104.0 545.0 104.8 544.0 100.4 546.6 106.8 546.2 104.1 547.1 105.2 546.7 102.6 548.1 105.4 548.2 104.4 549.2 105.8 549.5 105.4 549.0 102.3 549.0 100.5 551.0 105.6 550.1 100.8 549.6 97.5 552.0 104.1 550.8 98.3 551.8 100.3 553.4 104.3 553.2 101.7 551.4 93.3 554.7 103.9 555.2 103.8 554.9 101.0 554.3 96.6 556.6 103.8 556.6 102.1 557.4 103.5 557.6 102.1 557.9 101.7 558.6 102.8 557.3 94.6 559.7 103.3 559.1 98.6 560.6 103.1 560.8 101.8 561.4 102.6 560.5 95.9 562.0 100.9 561.4 95.8 561.5 93.9 563.1 99.3 562.6 94.1 563.7 97.8 564.9 102.0 564.6 97.4 565.8 101.5 566.3 101.8 566.7 101.6 566.6 98.0 567.1 98.4 567.3 96.6 568.5 101.7 568.9 100.9 569.4 101.2 569.0 94.8 570.0 98.9 570.5 99.4 571.2 101.2 571.1 96.7 571.7 98.0 571.8 94.7 573.0 100.9 573.3 99.7 573.6 97.9 573.5 92.9 574.8 100.6 575.2 100.5 575.1 94.3 576.1 100.8 576.6 100.6 577.0 100.3 577.5 100.5 577.4 93.6 578.3 99.4 578.6 97.7 579.3 100.4 579.7 99.7 580.1 98.9 580.6 100.1 581.0 98.7 581.5 99.4 581.8 96.4 582.4 99.3 582.9 100.3 583.3 98.4 583.6 95.1 584.2 97.7 584.6 99.0 585.0 93.6 585.6 99.4 586.0 95.9 586.4 96.2 586.9 98.2 587.4 96.9 587.8 96.9 588.3 99.2 588.7 98.6 589.2 99.9 589.7 98.5 590.2 96.0 590.6 98.8 591.0 98.2 591.4 99.6 591.9 100.4 592.3 100.4 592.8 98.5 593.2 100.1 593.7 100.5 594.1 100.5 594.6 100.4 595.1 99.9 595.7 96.5 595.9 100.5 596.5 98.9 597.1 97.0 597.5 97.3 597.7 100.4 598.6 95.9 598.8 98.7 599.0 100.9 599.6 100.3 600.7 93.7 600.5 99.8 600.8 101.0 601.3 101.1 602.2 97.4 603.6 89.7 604.1 89.4 603.4 98.9 604.1 97.1 604.2 99.5 605.3 95.4 604.9 101.6 606.0 97.0 606.3 97.7 607.0 96.5 607.7 94.9 607.5 99.1 608.4 96.9 608.2 100.7 608.6 101.1 610.2 94.4 609.3 102.2 609.8 102.2 610.2 102.5 610.8 101.7 611.1 102.5 612.7 96.8 612.0 102.7 612.5 102.5 612.8 102.9 614.2 98.8 614.3 100.5 615.4 97.8 615.3 100.3 615.1 103.2 618.3 91.6 617.0 98.9 616.9 101.2 618.1 98.6 617.2 104.0 617.7 103.8 618.6 102.2 620.4 97.0 619.9 100.7 619.5 104.2 622.8 93.5 620.9 102.5 621.2 103.2 621.3 104.5 621.9 103.9 622.8 102.6 624.5 98.4 623.0 105.1 624.6 101.3 624.5 103.1 624.2 105.8 624.7 105.6 625.1 105.8 625.4 106.3 626.4 104.8 629.0 98.4 626.8 106.5 627.1 106.9 627.6 107.0 628.2 106.5 629.7 103.6 629.7 104.9 630.1 105.4 630.7 105.0 631.8 103.3 630.5 108.1 631.0 108.0 631.4 108.3 632.1 107.7 632.9 107.0 632.8 108.5 633.4 108.2 633.9 108.1 634.3 108.5 634.4 109.4 635.8 107.2 635.3 109.5 635.6 110.0 637.1 107.6 638.2 106.2 637.1 109.8 637.3 110.6 638.8 108.2 639.6 107.6 638.5 111.2 641.2 106.4 639.4 111.5 641.7 107.6 641.0 110.1 640.5 112.2 640.9 112.4 643.1 108.9 642.4 111.4 645.2 106.7 644.1 110.0 643.5 112.2 645.1 110.1 645.6 110.1 644.8 112.8 644.6 114.1 645.4 113.5 645.6 114.2 646.6 113.3 646.9 113.7 646.8 114.8 648.3 112.9 647.5 115.3 647.9 115.5 648.1 116.1 649.6 114.5 649.4 115.7 649.8 115.9 650.6 115.4 650.3 116.8 652.9 113.3 653.6 113.0 651.3 117.9 656.6 109.8 657.1 110.0 653.4 117.0 653.4 117.8 653.4 118.7 657.6 112.8 654.2 119.1 656.8 115.8 661.7 109.1 656.9 117.4 657.2 117.8 661.2 112.5 656.2 121.0 658.1 119.0 659.0 118.4 659.4 118.7 660.0 118.6 661.7 117.0 659.2 121.4 658.9 122.6 660.7 120.8 660.5 122.0 661.4 121.4 662.4 120.8 663.5 120.1 665.6 118.0 666.4 117.7 664.1 121.7 665.9 120.0 662.5 125.4 662.8 125.7 666.6 121.5 666.0 122.9 665.5 124.4 665.3 125.4 664.8 126.8 665.2 127.0 669.8 122.0 670.0 122.5 668.5 125.1 666.5 128.3 668.3 126.8 668.1 127.7 671.9 123.9 667.8 129.5 671.3 126.1 673.5 124.2 669.5 129.6 669.2 130.7 670.2 130.2 671.9 129.0 673.1 128.3 671.0 131.4 672.2 130.7 673.6 129.8 671.7 132.6 672.9 131.9 672.1 133.5 675.2 130.8 676.8 129.8 673.4 134.1 673.7 134.5 673.8 135.0 674.4 135.0 674.8 135.3 675.4 135.3 675.1 136.3 677.5 134.4 679.8 132.8 676.4 136.9 681.1 132.8 676.7 137.9 677.0 138.2 680.1 135.8 679.0 137.5 678.7 138.4 678.4 139.3 683.2 135.4 678.9 140.1 681.5 138.3 679.6 140.7 682.5 138.6 684.3 137.5 680.7 141.5 684.6 138.5 683.4 140.2 683.3 141.0 681.6 143.1 685.6 140.2 682.6 143.4 685.1 141.9 682.7 144.5 684.3 143.7 683.3 145.2 685.3 144.1 685.5 144.6 686.1 144.7 686.6 144.9 684.7 146.9 687.0 145.7 685.8 147.3 685.7 147.8 685.8 148.3 686.2 148.6 691.4 145.2 686.7 149.4 687.4 149.4 687.4 150.0 692.5 146.7 687.8 150.8 688.0 151.2 691.5 149.2 689.4 151.3 688.9 152.3 689.1 152.7 689.3 153.0 695.4 149.3 690.1 153.6 690.1 154.1 691.6 153.6 691.7 154.2 691.6 154.7 691.1 155.6 698.7 151.1 695.8 153.6 693.5 155.6 695.3 155.0 693.5 156.8 693.8 157.1 692.9 158.2 693.2 158.6 694.7 158.1 693.6 159.4 696.4 158.2 694.5 159.9 699.3 157.5 695.0 160.7 698.7 159.0 695.0 161.7 697.0 161.0 695.5 162.5 700.9 159.8 698.2 161.9 696.4 163.5 697.3 163.5 698.6 163.3 701.9 162.0 700.1 163.5 698.0 165.2 697.7 165.9 703.2 163.4 700.2 165.5 704.2 163.9 698.4 167.5 703.2 165.5 699.7 167.8 700.3 168.0 705.0 166.2 706.0 166.2 700.5 169.5 699.9 170.3 706.3 167.7 705.8 168.4 703.1 170.2 700.7 171.9 706.1 169.9 703.5 171.6 701.1 173.2 711.0 169.2 701.9 173.8 701.6 174.4 702.7 174.5 708.6 172.4 702.3 175.6 711.4 172.2 706.8 174.7 703.2 176.7 709.1 174.7 703.2 177.7 703.2 178.2 705.3 177.8 706.0 178.0 705.0 178.9 708.0 178.2 710.4 177.8 704.3 180.6 704.6 181.0 704.7 181.5 709.5 180.1 707.5 181.4 707.4 181.9 709.3 181.7 707.0 183.0 706.1 183.8 709.2 183.2 711.3 183.0 706.1 185.3 714.1 183.0 706.2 186.2 706.5 186.6 715.8 184.0 712.8 185.5 706.8 187.9 707.1 188.2 712.1 187.2 712.2 187.6 716.0 187.0 707.4 190.0 707.6 190.5 710.3 190.1 708.1 191.3 708.7 191.6 708.1 192.2 714.2 191.0 713.5 191.6 710.3 193.0 708.6 193.9 713.5 193.1 715.3 193.1 711.8 194.5 709.2 195.6 713.8 195.0 709.8 196.4 713.0 196.1 715.7 196.0 710.2 197.7 709.6 198.3 718.2 196.9 709.9 199.2 710.1 199.6 713.6 199.3 710.3 200.5 710.4 200.9 711.2 201.2 710.7 201.7 716.1 201.2 715.3 201.8 719.0 201.6 710.7 203.6 710.8 204.0 711.0 204.5 711.4 204.8 711.3 205.3 716.5 204.9 713.7 205.8 715.6 206.0 714.6 206.6 711.6 207.6 714.1 207.6 712.3 208.4 712.2 208.8 720.5 208.2 714.0 209.5 712.4 210.2 717.7 210.0 717.8 210.4 720.1 210.6 712.4 212.0 712.0 212.5 719.9 212.1 720.3 212.6 712.4 213.8 712.2 214.3 716.5 214.3 716.3 214.8 716.6 215.3 714.5 215.9 714.0 216.4 713.0 216.9 713.2 217.4 714.6 217.7 715.6 218.1 712.5 218.8 712.6 219.2 715.7 219.5 713.8 220.1 719.1 220.3 715.4 220.9 712.6 221.5 712.7 221.9 713.5 222.3 714.1 222.8 713.7 223.2 712.7 223.7 714.2 224.1 720.5 224.5 714.6 225.1 714.2 225.5 714.1 226.0 717.0 226.4 718.0 226.9 713.3 227.3 713.6 227.8 720.4 228.4 718.5 228.8 721.3 229.3 712.6 229.6 713.5 230.0 712.7 230.5 721.6 231.3 714.4 231.4 712.6 231.8 713.5 232.3 713.9 232.8 712.5 233.2 717.6 233.9 717.1 234.4 712.4 234.5 712.6 235.0 712.8 235.4 712.3 235.9 715.6 236.6 712.9 236.8 712.2 237.2 715.5 238.0 712.9 238.2 712.5 238.6 712.1 239.0 714.3 239.7 717.4 240.5 711.9 240.3 715.9 241.3 712.5 241.3 718.6 242.5 711.7 242.1 717.1 243.3 711.5 243.0 712.4 243.6 712.2 244.0 714.4 244.8 717.5 245.7 714.4 245.7 714.2 246.2 712.9 246.4 714.8 247.2 711.1 247.0 712.1 247.7 715.6 248.8 710.7 248.3 711.1 248.9 710.6 249.2 711.1 249.8 712.4 250.5 710.3 250.6 710.2 251.0 710.4 251.5 710.0 251.9 711.5 252.7 711.4 253.1 709.8 253.2 711.3 254.0 710.2 254.2 709.6 254.5 713.1 255.9 713.3 256.4 709.7 256.0 714.5 257.6 715.6 258.4 709.9 257.4 708.7 257.6 708.6 258.0 708.5 258.4 709.8 259.3 712.5 260.5 712.1 260.9 712.3 261.4 712.5 262.0 710.5 261.8 707.6 261.5 708.7 262.3 707.5 262.4L706.5 262.1A124.8 124.8 0 0 0 543.6 109.0ZM701.6 275.5L703.3 276.2 702.2 276.2 702.1 276.7 701.9 277.1 704.3 278.6 704.0 279.0 703.0 279.1 705.1 280.5 706.7 281.8 701.4 279.8 702.3 280.7 700.6 280.5 700.7 281.0 700.0 281.1 700.5 281.9 699.6 281.9 699.4 282.4 701.8 284.1 699.7 283.5 701.5 285.0 699.5 284.4 699.5 285.0 698.8 285.1 702.8 287.8 699.1 286.3 698.4 286.4 697.3 286.3 697.1 286.7 697.5 287.5 697.0 287.7 696.6 288.0 696.4 288.4 696.9 289.2 695.7 289.1 700.0 292.1 697.6 291.2 695.1 290.3 694.8 290.6 694.6 291.0 695.1 291.8 694.2 291.8 694.1 292.3 698.1 295.3 693.4 292.9 696.7 295.5 697.6 296.7 692.8 294.2 692.6 294.6 692.4 295.0 694.2 296.7 691.7 295.6 695.1 298.4 691.7 296.6 695.9 300.1 693.1 298.7 693.2 299.4 690.3 297.9 691.3 299.1 690.8 299.4 689.8 299.2 689.5 299.5 693.1 302.7 689.7 300.8 690.7 302.1 689.5 301.8 689.2 302.1 690.0 303.3 689.9 303.8 689.5 304.1 689.1 304.3 688.1 304.2 686.3 303.3 685.9 303.6 685.6 303.9 685.4 304.4 689.2 308.0 685.8 305.8 684.5 305.3 685.3 306.6 683.9 306.1 683.6 306.4 683.5 306.9 683.3 307.2 685.1 309.4 682.5 307.8 682.3 308.2 684.1 310.3 682.7 309.7 683.0 310.6 682.0 310.4 685.4 314.0 683.3 312.7 681.1 311.3 680.1 311.0 679.5 311.1 679.2 311.5 678.9 311.8 679.5 313.0 680.4 314.4 681.7 316.3 678.5 313.9 677.5 313.6 677.4 314.1 677.1 314.5 676.7 314.7 678.7 317.3 675.8 315.0 676.6 316.5 675.2 315.8 675.4 316.6 676.5 318.4 674.1 316.6 674.3 317.4 674.0 317.8 673.2 317.5 676.4 321.6 676.7 322.7 673.8 320.2 673.6 320.7 673.7 321.5 671.6 319.8 670.8 319.6 671.5 321.0 672.2 322.5 671.6 322.6 669.7 321.0 669.3 321.3 671.4 324.4 671.6 325.4 668.8 322.8 668.0 322.5 667.5 322.6 667.4 323.2 667.0 323.5 667.6 324.9 666.1 323.8 666.3 324.8 665.6 324.6 668.0 328.4 665.9 326.4 665.6 326.8 665.7 327.6 664.9 327.3 663.2 326.0 664.0 327.8 664.0 328.4 664.3 329.6 661.8 327.1 661.4 327.3 662.9 330.1 661.0 328.3 661.2 329.3 660.0 328.4 660.3 329.6 660.0 330.0 659.7 330.3 659.2 330.3 658.4 330.1 658.1 330.4 658.0 331.0 657.8 331.5 659.3 334.7 657.1 332.2 657.2 333.2 655.6 331.5 655.8 332.7 656.1 334.1 654.4 332.2 654.0 332.4 655.7 335.9 653.8 333.7 654.7 336.1 653.7 335.4 652.1 333.5 652.0 334.3 651.3 334.1 651.2 334.7 651.7 336.5 650.2 334.7 649.8 335.0 650.2 336.6 649.1 335.6 649.0 336.3 648.3 336.0 647.8 336.1 647.8 337.0 647.0 336.5 646.9 337.2 647.0 338.4 645.9 337.2 645.7 337.9 645.1 337.6 646.7 341.7 644.4 338.3 644.1 338.7 644.4 340.4 645.3 343.1 642.6 338.7 643.4 341.4 641.8 339.1 641.4 339.3 641.5 340.6 640.8 340.1 642.0 343.7 639.8 340.2 639.6 340.8 640.3 343.4 638.8 341.2 639.0 342.8 638.6 342.9 638.4 343.7 638.4 344.8 637.9 345.0 636.6 343.1 636.4 343.7 635.7 343.1 637.5 348.8 636.4 347.4 636.3 348.4 633.8 343.2 636.0 350.2 632.7 343.1 632.3 343.3 633.3 347.0 631.7 344.2 631.1 343.7 630.7 344.0 630.2 344.1 630.0 344.9 630.3 347.1 630.0 347.5 629.3 346.9 628.2 345.1 627.7 344.9 627.9 347.1 626.9 345.5 627.1 347.4 627.0 348.8 626.5 348.7 625.2 346.0 624.7 345.9 624.3 346.4 623.8 346.2 623.9 348.2 623.0 346.5 622.5 346.6 622.1 346.8 621.7 347.0 621.2 347.0 621.1 348.2 620.5 347.8 619.9 347.3 620.9 352.6 620.3 352.1 618.6 347.7L618.4 346.8A124.8 124.8 0 0 0 701.6 275.5Z" fill="#ff0a0a"/>
<path d="M564.3 335.1L563.6 338.0 563.2 338.1 562.6 338.4 562.3 337.6 561.9 337.7 561.1 339.0 560.8 338.5 560.4 337.9 560.0 337.8 559.6 337.5 559.1 337.7 558.6 337.8 558.4 336.9 557.6 337.8 557.3 337.3 556.9 337.2 556.6 336.5 556.1 336.5 555.4 337.2 555.4 335.9 554.5 337.2 554.3 336.3 553.9 335.9 553.6 335.6 553.0 335.8 552.5 335.9 551.9 336.2 551.7 335.6 551.1 335.9 550.6 335.9 550.3 335.3 549.8 335.5 549.7 334.3 548.9 335.2 548.9 333.8 548.4 334.0 548.0 333.7 547.1 334.7 547.0 333.9 546.4 334.0 545.8 334.3 545.8 333.2 545.5 332.7 544.8 333.1 544.7 332.3 544.0 332.8 543.9 331.9 543.4 331.9 542.4 333.1 542.4 331.8 541.9 332.0 541.5 331.7 540.7 332.5 540.8 331.0 540.5 330.6 539.3 332.1 539.5 330.7 539.2 330.3 538.9 329.7 538.1 330.3 537.7 330.1 537.3 330.1 536.8 329.9 536.9 328.7 536.0 329.5 536.0 328.5 535.3 328.9 535.1 328.2 534.7 328.0 534.4 327.7 533.5 328.4 533.3 327.8 533.2 327.1 532.3 327.9 532.4 326.6 531.6 327.2 531.6 326.3 530.6 327.0 530.2 326.9 530.4 325.6 529.4 326.5 529.7 325.0 529.1 325.2 528.3 325.6 528.5 324.3 527.6 325.1 527.2 324.8 527.4 323.6 526.4 324.3 526.5 323.3 526.1 323.1 525.1 323.9 525.5 322.4 524.4 323.3 524.5 322.2 523.6 322.9 523.4 322.2 523.2 321.8 523.2 321.0 522.8 320.7 522.1 320.9 521.5 321.1 521.0 321.0 520.6 320.8 520.2 320.5 520.7 319.1 520.3 318.9 519.5 319.2 519.4 318.6 518.8 318.6 518.8 317.9 518.2 317.8 518.0 317.4 517.4 317.4 517.4 316.7 516.1 317.6 515.9 317.1 515.9 316.4 516.0 315.6 515.5 315.4 515.0 315.3 514.2 315.6 514.6 314.5 514.2 314.2 513.0 314.9 513.2 314.0 513.1 313.5 512.3 313.6 512.3 312.9 512.0 312.6 511.4 312.6 511.3 312.1 511.1 311.6 510.3 311.8 510.3 311.2 509.6 311.2 509.6 310.5 508.8 310.7 508.5 310.4 508.7 309.5 507.8 309.8 507.9 309.1 506.8 309.6 507.3 308.4 506.3 308.7 506.5 307.9 505.6 308.1 505.2 308.0 505.3 307.2 505.1 306.7 504.6 306.6 504.1 306.4 504.6 305.3 503.3 306.0 504.0 304.6 503.7 304.3 502.8 304.6 501.9 304.8 501.9 304.1 501.7 303.7 501.5 303.3 501.1 303.0 501.6 302.0 500.9 302.0 500.9 301.4 500.6 301.0 499.7 301.3 499.9 300.5 499.6 300.1 499.5 299.6 498.1 300.2 498.3 299.5 498.1 299.0 497.8 298.7 497.8 298.1 496.9 298.3 497.5 297.2 496.3 297.6 496.7 296.6 496.7 296.1 496.4 295.8 496.0 295.5 495.3 295.4 495.5 294.8 495.1 294.5 494.7 294.2 494.7 293.6 494.3 293.4 494.2 292.9 493.9 292.6 493.7 292.1 493.2 292.0 493.0 291.6 492.2 291.6 492.4 290.8 491.6 290.9 491.6 290.3 491.7 289.7 491.6 289.2 490.9 289.2 490.3 289.0 490.9 288.1 490.7 287.7 489.5 287.9 490.1 286.9 489.9 286.6 489.0 286.6 489.5 285.7 489.2 285.4 488.6 285.3 488.8 284.6 488.3 284.4 488.3 283.8 486.8 284.2 487.4 283.3 487.6 282.7 487.5 282.3 485.9 282.6 485.6 282.3 485.8 281.6 486.4 280.8 485.6 280.7 486.0 280.0 484.3 280.3 485.2 279.4 485.0 278.9 484.3 278.8 484.5 278.2 484.1 277.9 484.7 277.1 483.6 277.1 482.6 277.1 483.9 276.0 483.2 275.8 482.8 275.5 483.3 274.8 483.4 274.2 482.0 274.4 481.8 273.9 482.6 273.1 481.0 273.3 481.8 272.4 481.0 272.3 481.8 271.5 481.2 271.2 481.4 270.7 481.5 270.1 481.3 269.7 479.9 269.8 480.9 268.9 480.5 268.6 479.3 268.6 479.8 267.9 480.0 267.3 479.6 267.0 479.9 266.4 478.6 266.4 478.4 266.0 477.8 265.7 478.8 264.9 478.4 264.5 478.2 264.1 477.6 263.9 478.1 263.2 478.7 262.5 477.7 262.4 477.9 261.9 478.2 261.3 478.1 260.8 477.2 260.6 477.2 260.2 476.3 260.0 476.5 259.4 477.5 258.7 477.2 258.3 476.7 258.0 476.9 257.4 476.1 257.2 475.6 256.8 475.3 256.5 475.7 255.9 475.4 255.5 475.2 255.1 475.3 254.6 476.1 253.9 476.0 253.5 475.9 253.0 475.0 252.8 475.4 252.2 475.4 251.7 474.6 251.5 475.4 250.8 474.4 250.6 475.0 250.0 474.5 249.6 475.1 249.1 473.9 248.8 474.5 248.3 474.7 247.8 474.4 247.4 474.6 246.9 474.5 246.4 474.4 246.0 474.0 245.6 473.4 245.2 473.9 244.7 474.2 244.2 474.0 243.8 473.5 243.4 473.2 243.0 473.8 242.4 472.7 242.1 472.5 241.7 472.0 241.3 473.5 240.7 472.2 240.4 473.2 239.8 472.5 239.4 472.6 238.9 473.3 238.4 473.3 237.9 472.3 237.6 473.1 237.1 472.6 236.7 471.4 236.3 473.1 235.7 472.2 235.3 473.0 234.8 471.4 234.5 472.6 233.9 471.9 233.5 472.8 233.0 471.7 232.6 472.1 232.2 472.5 231.7 472.7 231.2 472.2 230.8 472.7 230.3 471.9 229.9 472.4 229.4 472.7 229.0 472.7 228.5 471.5 228.1 472.7 227.6 471.2 227.2 471.1 226.7 472.2 226.3 471.6 225.8 472.4 225.4 472.3 224.9 472.7 224.5 472.7 224.0 471.9 223.5 472.7 223.1 472.0 222.6 472.8 222.2 471.2 221.7 472.2 221.3 471.8 220.8 471.8 220.4 472.8 220.0 472.9 219.5 472.9 219.1 471.5 218.5 471.8 218.1 472.6 217.7 472.0 217.2 472.4 216.8 472.0 216.3 472.6 215.9 473.2 215.5 472.7 215.0 473.2 214.6 473.0 214.1 473.4 213.7 473.1 213.2 473.0 212.7 473.2 212.3 473.1 211.8 473.4 211.4 473.5 211.0 473.7 210.6 473.8 210.1 473.2 209.6 472.7 209.0 472.9 208.6 473.8 208.3 473.1 207.7 473.9 207.4 474.0 207.0 473.3 206.4 473.3 205.9 474.5 205.7 474.5 205.2 474.1 204.7 474.0 204.2 474.6 203.8 474.1 203.3 474.9 203.0 475.0 202.5 475.2 202.1 474.4 201.5 474.0 200.9 474.3 200.5 475.6 200.4 475.3 199.8 475.3 199.4 474.7 198.8 475.6 198.5 475.0 197.9 476.1 197.7 476.4 197.3 475.9 196.7 476.5 196.4 476.6 196.0 476.4 195.4 475.8 194.8 477.1 194.7 477.2 194.3 477.1 193.8 476.8 193.2 477.3 192.9 476.4 192.2 477.7 192.1 477.6 191.6 477.2 191.0 476.9 190.4 478.3 190.4 477.3 189.5 477.3 189.1 478.6 189.0 479.0 188.7 477.5 187.7 478.8 187.7 477.7 186.8 478.8 186.7 479.1 186.4 479.8 186.1 478.1 185.0 479.8 185.2 479.9 184.7 480.0 184.3 480.6 184.0 480.2 183.4 479.6 182.6 479.5 182.1 481.3 182.4 480.9 181.7 481.5 181.5 480.3 180.5 481.2 180.3 481.7 180.1 480.7 179.1 482.5 179.4 482.7 179.0 481.7 178.1 483.0 178.2 481.7 177.1 483.2 177.3 483.7 177.0 482.2 175.8 484.0 176.2 484.3 175.8 483.5 174.9 484.0 174.6 484.9 174.6 483.5 173.4 485.2 173.7 485.4 173.3 485.7 173.0 484.4 171.8 484.8 171.5 484.7 170.9 485.8 171.0 486.8 171.0 486.9 170.6 486.1 169.6 487.4 169.8 487.1 169.1 487.9 169.0 486.5 167.7 488.3 168.2 488.5 167.9 487.4 166.7 489.0 167.1 487.6 165.7 489.4 166.3 488.2 165.0 489.1 165.0 490.2 165.2 489.5 164.2 490.1 164.1 490.4 163.7 490.7 163.3 491.3 163.2 490.2 162.0 491.9 162.5 491.0 161.4 492.3 161.7 492.7 161.4 492.6 160.8 493.2 160.7 492.2 159.4 492.1 158.8 493.5 159.2 494.2 159.2 494.1 158.6 494.1 158.0 494.6 157.8 495.1 157.6 495.0 156.9 494.5 156.0 495.0 155.8 494.9 155.2 496.6 155.9 496.1 155.0 496.5 154.7 496.1 153.8 497.4 154.2 496.9 153.3 497.9 153.5 498.0 153.0 498.6 152.9 498.3 152.1 498.5 151.6 498.5 151.0 500.0 151.7 499.3 150.5 499.7 150.2 500.8 150.6 500.9 150.1 501.3 149.9 500.9 148.9 502.1 149.4 502.3 148.9 502.7 148.7 502.9 148.3 503.4 148.1 502.7 146.9 503.4 146.8 503.5 146.3 504.4 146.5 504.9 146.4 505.1 146.0 504.7 145.0 505.8 145.4 505.8 144.8 506.5 144.9 506.8 144.5 507.1 144.2 507.3 143.7 507.6 143.4 507.7 142.8 508.4 143.0 508.3 142.1 508.9 142.1 508.5 141.0 509.8 141.7 509.9 141.2 509.8 140.4 510.6 140.6 510.3 139.7 511.3 140.0 511.3 139.4 511.3 138.7 512.1 138.9 512.7 139.0 512.4 137.9 513.4 138.4 513.4 137.6 514.1 137.8 513.7 136.6 514.5 136.9 515.1 136.9 514.7 135.7 515.3 135.7 516.3 136.2 516.5 135.8 516.1 134.6 516.6 134.4 517.7 135.1 517.9 134.6 518.4 134.5 518.5 133.9 518.3 132.9 519.5 133.7 519.7 133.2 520.1 133.1 520.0 132.1 520.9 132.7 521.1 132.1 521.6 132.1 522.0 131.8 522.0 131.0 522.1 130.4 522.8 130.6 523.1 130.2 523.9 130.7 523.4 129.0 524.2 129.5 524.1 128.4 525.4 129.6 524.7 127.6 525.0 127.4 526.5 128.9 526.8 128.5 526.9 127.8 527.4 127.7 527.8 127.5 527.6 126.3 528.6 127.0 528.5 126.0 529.7 127.1 529.7 126.2 529.6 125.1 530.5 125.8 530.5 124.9 531.5 125.8 531.5 124.9 532.3 125.3 532.5 124.7 532.7 124.2 533.4 124.6 533.7 124.1 533.9 123.5 534.6 124.0 535.0 123.7L536.5 126.7A111.4 111.4 0 0 0 564.3 335.1ZM548.3 121.5L547.3 118.8 547.5 118.2 547.9 118.0 548.5 118.3 548.4 116.7 549.2 117.5 549.8 117.9 550.2 117.6 550.7 117.6 550.9 117.0 551.5 117.2 551.9 117.1 552.2 116.5 552.8 116.8 552.9 115.6 553.2 115.2 553.8 115.6 554.5 116.3 554.5 114.6 555.1 115.1 555.6 115.2 556.1 115.4 556.3 114.5 557.0 115.2 557.5 115.2 557.9 115.3 558.3 114.7 558.9 115.2 559.1 114.4 559.5 114.0 559.8 113.4 560.4 113.8 561.0 114.7 561.3 113.6 561.9 114.4 562.0 112.8 562.7 113.8 563.2 114.1 563.5 113.3 564.1 114.0 564.4 113.2 565.0 113.8 565.4 113.7 565.8 113.4 566.0 111.9 566.7 113.4 567.2 113.4 567.5 112.5 568.1 113.3 568.5 113.0 569.0 113.1 569.4 112.7 569.8 112.6 570.3 112.7 570.7 112.4 571.2 112.5 571.6 112.4 572.1 112.4 572.5 112.0 573.0 112.4 573.4 112.5 573.9 112.4 574.3 112.2 574.7 111.6 575.1 111.2 575.6 111.8 576.1 112.2 576.5 111.6 576.9 110.3 577.4 111.2 577.9 112.0 578.4 111.9 578.7 109.9 579.2 111.3 579.7 111.8 580.1 111.5 580.4 108.3 581.0 110.1 581.5 111.8 581.9 111.5 582.4 111.5 582.8 111.7 583.3 111.7 583.7 111.7 584.2 111.6 584.6 110.4 585.1 110.3 585.5 110.7 586.0 110.6 586.4 109.5 586.9 110.6 587.3 111.2 587.8 110.9 588.3 111.1 588.7 111.7 589.2 110.4 589.6 111.1 590.1 111.4 590.5 110.4 591.0 111.2 591.4 111.5 591.8 111.6 592.3 110.9 592.7 111.7 593.2 111.8 593.6 111.7 594.1 111.1 594.6 111.5 595.1 110.7 595.5 111.7 595.9 111.8 596.3 111.9 596.9 111.2 597.3 111.0 597.8 110.9 598.2 111.9 598.6 111.8 599.1 111.9 599.6 111.2 599.9 112.3 600.5 111.1 601.0 110.5 601.4 111.3 601.7 112.6 602.4 110.8 602.8 111.2 603.1 112.4 603.5 112.8 604.0 112.5 604.4 112.6 604.8 112.9 605.6 111.3 605.8 112.9 606.2 113.1 606.9 111.8 607.1 113.3 607.5 113.4 608.0 113.4 608.4 113.6 608.9 113.1 609.4 113.3 610.0 112.6 610.4 112.9 610.6 114.1 611.0 114.1 611.8 112.6 612.2 112.9 612.3 114.5 612.8 114.6 613.2 114.6 614.0 113.2 614.4 113.4 614.7 114.2 615.3 113.7 615.4 115.0 616.0 114.7 616.3 115.5 616.7 115.6 617.2 115.5 617.6 115.6 618.0 115.8 618.5 115.8 618.9 116.0 619.6 115.3 620.0 115.5 620.2 116.6 620.9 115.6 621.1 116.6 621.8 115.9 621.9 116.9 622.3 117.3 622.8 117.0 623.3 117.2 623.8 116.9 624.5 116.4 624.8 116.9 625.2 117.2 625.3 118.3 626.1 117.4 626.5 117.5 626.5 118.7 627.0 118.9 627.5 118.7 628.2 118.3 628.5 118.7 628.8 119.1 629.5 118.5 629.5 119.9 630.0 119.9 630.3 120.2 631.1 119.6 631.3 120.1 631.6 120.6 632.4 120.0 632.8 120.1 632.8 121.3 633.4 120.9 633.7 121.5 634.0 121.8 634.6 121.6 635.2 121.4 635.7 121.5 636.3 121.3 636.1 122.6 637.1 121.6 637.0 122.8 637.7 122.5 637.8 123.3 638.6 122.7 638.5 123.9 639.4 123.2 639.5 124.0 639.9 124.2 640.1 124.7 640.9 124.3 641.7 123.6 641.5 125.0 642.1 124.9 642.3 125.3 642.7 125.6 642.9 126.2 643.4 126.3 643.6 126.7 644.3 126.5 644.5 127.1 644.8 127.3 645.8 126.7 650.0 120.4 650.5 120.6 646.5 128.1 647.4 127.4 647.1 128.8 647.8 128.6 648.5 128.2 648.4 129.3 649.0 129.2 649.8 128.8 649.5 130.0 650.1 130.0 650.5 130.3 650.5 131.0 650.9 131.2 652.0 130.4 651.7 131.6 652.4 131.4 652.9 131.5 653.6 131.2 653.2 132.6 654.2 132.1 654.2 132.8 654.4 133.3 654.6 133.8 655.6 133.2 655.7 133.8 656.4 133.6 659.2 130.7 659.6 130.9 656.7 135.4 657.2 135.5 657.9 135.4 658.4 135.5 658.2 136.5 658.7 136.6 659.5 136.3 659.9 136.5 659.7 137.5 660.4 137.4 660.4 138.1 660.9 138.1 663.3 136.1 661.5 138.9 661.9 139.1 662.7 138.8 662.6 139.6 663.3 139.5 663.6 139.9 664.2 139.9 663.8 141.0 664.4 141.0 664.9 141.2 665.3 141.4 665.1 142.3 665.8 142.2 666.0 142.6 666.4 142.8 666.4 143.5 667.5 143.1 667.0 144.2 667.9 143.9 668.1 144.4 668.5 144.6 668.4 145.3 668.8 145.6 669.6 145.5 669.2 146.5 670.6 145.7 670.2 146.7 670.1 147.5 670.9 147.3 670.8 148.0 671.0 148.4 671.4 148.7 672.5 148.3 672.8 148.7 672.6 149.4 673.6 149.2 673.7 149.7 674.1 149.9 673.9 150.7 673.7 151.5 675.2 150.8 674.4 152.0 674.8 152.3 675.1 152.6 676.6 152.0 675.5 153.4 675.7 153.9 677.2 153.3 676.5 154.4 677.6 154.1 677.5 154.8 677.4 155.4 679.2 154.6 677.8 156.3 678.0 156.7 679.2 156.4 680.0 156.3 680.0 156.8 679.1 158.1 679.6 158.3 679.5 158.9 680.3 158.9 681.2 158.8 680.7 159.7 680.8 160.2 681.3 160.4 681.2 161.0 681.5 161.4 681.6 161.8 682.5 161.8 682.3 162.4 682.4 162.9 682.6 163.3 683.8 163.1 684.2 163.4 683.8 164.1 684.4 164.4 684.1 165.0 684.1 165.6 684.6 165.8 685.9 165.5 685.6 166.2 685.1 167.1 686.6 166.7 685.5 167.9 686.8 167.6 686.2 168.5 686.2 169.1 686.6 169.3 686.6 169.9 686.8 170.3 687.1 170.6 688.2 170.5 687.8 171.2 687.8 171.8 687.9 172.2 688.6 172.4 689.5 172.4 688.5 173.4 688.7 173.8 689.6 173.9 689.7 174.3 690.2 174.6 689.7 175.3 689.8 175.8 690.0 176.2 690.3 176.6 690.7 176.8 690.5 177.4 691.3 177.6 691.5 178.0 691.3 178.6 691.8 178.9 691.8 179.3 692.2 179.6 692.2 180.2 692.3 180.6 693.2 180.7 693.2 181.2 693.2 181.7 694.1 181.8 694.1 182.3 693.7 183.0 693.4 183.5 693.8 183.9 693.9 184.3 693.8 184.8 694.4 185.1 695.1 185.3 695.4 185.7 694.4 186.5 694.5 187.0 695.6 187.1 695.8 187.5 694.9 188.3 695.5 188.6 695.4 189.1 695.9 189.4 696.5 189.7 696.2 190.2 695.8 190.8 696.4 191.1 696.3 191.6 697.2 191.8 696.3 192.6 696.8 192.9 696.6 193.4 696.8 193.8 697.6 194.0 697.7 194.5 698.2 194.8 697.9 195.4 698.1 195.8 698.1 196.3 698.6 196.6 698.6 197.1 697.8 197.8 699.6 197.8 699.2 198.3 698.1 199.1 698.2 199.5 698.5 199.9 699.9 200.0 698.8 200.7 699.7 201.0 698.7 201.7 700.1 201.8 699.1 202.5 699.6 202.9 700.7 203.1 699.6 203.8 699.4 204.3 700.6 204.5 700.8 205.0 699.8 205.6 699.6 206.1 700.0 206.5 699.8 207.0 701.1 207.2 700.4 207.8 700.4 208.2 700.3 208.7 701.2 209.0 700.7 209.6 701.6 209.9 700.3 210.5 701.5 210.8 700.4 211.4 700.5 211.9 702.1 212.1 701.5 212.7 701.8 213.1 700.6 213.7 702.1 214.0 701.1 214.5 701.0 215.0 701.8 215.4 702.5 215.8 702.1 216.3 701.0 216.8 701.6 217.2 701.6 217.7 701.1 218.1 701.3 218.6 702.7 218.9 701.9 219.4 701.2 219.9 702.4 220.3 702.7 220.8 702.6 221.2 701.6 221.7 701.3 222.2 701.5 222.6 701.4 223.1 701.5 223.5 701.3 224.0 702.7 224.4 701.5 224.9 701.3 225.3 701.3 225.8 702.8 226.2 701.5 226.7 701.3 227.1 702.2 227.6 701.9 228.0 702.1 228.5 701.8 228.9 702.1 229.4 701.2 229.8 701.6 230.3 701.4 230.7 701.4 231.2 701.5 231.6 701.2 232.1 701.2 232.5 701.5 233.0 703.0 233.6 702.3 234.0 701.3 234.3 701.1 234.8 701.1 235.2 702.1 235.8 701.3 236.2 701.7 236.6 700.8 237.0 701.2 237.5 702.6 238.1 700.9 238.4 701.0 238.9 700.9 239.3 701.2 239.8 701.6 240.3 700.6 240.6 700.8 241.1 700.4 241.5 700.6 242.0 701.8 242.6 700.1 242.8 700.1 243.3 700.8 243.8 700.4 244.2 700.7 244.7 700.0 245.1 699.8 245.5 700.3 246.1 700.0 246.5 699.5 246.8 700.6 247.5 699.3 247.7 699.7 248.2 699.3 248.6 699.1 249.0 699.6 249.6 699.5 250.0 700.4 250.7 698.6 250.8 698.7 251.3 699.8 252.0 699.4 252.4 699.9 252.9 699.0 253.2 699.4 253.7 698.1 253.9 698.4 254.4 697.9 254.8 698.9 255.5 698.0 255.7 697.4 256.0 697.2 256.5 697.9 257.1 697.0 257.3 697.3 257.9 696.7 258.2 697.0 258.7 697.6 259.4L693.6 258.2A111.4 111.4 0 0 0 548.3 121.5ZM689.3 270.2L692.3 271.5 692.2 271.9 691.7 272.2 691.4 272.6 692.5 273.5 691.6 273.6 691.8 274.2 695.3 276.3 690.7 274.7 690.5 275.1 690.4 275.5 690.1 275.9 690.9 276.8 690.7 277.2 689.4 277.1 690.8 278.3 688.9 277.8 690.5 279.1 689.8 279.3 689.6 279.7 688.6 279.7 688.8 280.3 687.8 280.3 687.4 280.6 689.2 282.1 688.6 282.3 686.8 281.8 688.2 283.1 688.1 283.6 687.0 283.5 687.3 284.1 685.7 283.7 685.4 284.1 685.7 284.8 685.1 285.0 684.9 285.4 685.0 286.0 684.3 286.1 684.0 286.4 684.3 287.1 687.9 290.0 683.4 287.7 683.3 288.1 682.9 288.4 682.7 288.8 682.6 289.3 682.2 289.6 682.0 290.0 682.5 290.8 682.2 291.1 682.1 291.6 681.2 291.6 680.6 291.7 681.4 292.8 680.4 292.7 679.8 292.8 681.0 294.2 679.8 294.0 679.7 294.4 678.8 294.3 679.7 295.6 678.4 295.2 678.9 296.1 678.5 296.3 679.9 298.0 677.9 297.0 676.8 296.7 676.6 297.1 676.3 297.5 676.4 298.2 676.7 299.0 675.8 298.8 675.4 299.0 676.0 300.2 675.0 299.9 674.8 300.3 673.9 300.2 674.7 301.5 674.6 302.0 674.4 302.4 672.9 301.7 673.5 302.9 673.1 303.1 672.3 303.0 672.5 303.8 671.4 303.4 672.2 304.7 670.6 303.9 670.9 304.8 671.1 305.6 670.4 305.5 669.8 305.6 670.1 306.5 668.9 306.0 669.6 307.3 668.2 306.5 668.5 307.4 668.1 307.7 667.9 308.2 667.4 308.3 667.1 308.6 667.0 309.1 666.7 309.5 665.6 309.0 666.2 310.3 665.2 309.9 665.1 310.5 664.5 310.5 663.9 310.6 663.6 310.9 663.6 311.6 663.5 312.1 662.8 312.0 662.6 312.4 663.1 313.7 662.5 313.7 661.4 313.1 661.0 313.4 661.1 314.2 660.9 314.6 660.2 314.5 660.5 315.6 659.2 314.7 659.6 315.9 659.5 316.5 658.7 316.3 657.8 315.9 657.9 316.7 657.4 316.8 657.7 317.9 656.4 316.9 656.4 317.7 656.5 318.6 655.6 318.1 654.9 318.0 654.8 318.6 654.8 319.4 654.8 320.1 653.6 319.3 653.1 319.3 652.7 319.5 652.7 320.2 652.0 320.1 652.7 321.9 652.2 322.0 651.0 321.0 650.6 321.3 650.3 321.6 649.7 321.6 650.3 323.2 649.2 322.3 649.0 322.9 648.4 322.8 648.2 323.4 648.3 324.4 648.0 324.8 647.2 324.3 646.4 323.9 645.9 324.0 645.9 324.9 645.8 325.5 644.9 324.8 645.0 325.9 644.3 325.7 644.1 326.2 643.3 325.7 643.3 326.6 643.1 327.2 642.3 326.7 641.9 327.0 641.6 327.3 641.1 327.3 640.8 327.8 640.8 328.7 640.3 328.7 639.5 328.1 639.4 329.0 638.5 328.2 638.1 328.4 637.7 328.6 637.3 328.9 637.4 330.1 636.5 329.3 636.4 330.1 635.7 329.7 635.6 330.5 634.9 330.0 634.4 330.0 634.5 331.3 633.6 330.4 633.5 331.4 633.0 331.3 632.4 331.0 632.0 331.2 631.7 331.8 631.6 332.7 631.1 332.6 630.5 332.4 629.9 332.0 629.5 332.4 629.3 333.0 628.6 332.6 628.3 333.1 628.0 333.6 627.8 334.3 627.0 333.5 626.8 334.1 626.1 333.5 626.0 334.6 625.3 334.0 624.8 333.9 624.5 334.5 624.5 335.7 624.2 336.2 623.7 336.4 622.7 334.7 622.2 334.8 622.2 336.1 621.8 336.3 621.3 336.3 620.6 335.5 620.4 336.4 619.8 336.1 619.5 336.8 618.9 336.1 618.5 336.3 617.9 336.1 617.5 336.2 617.3 337.3 616.8 337.0 616.4 337.5 615.8 336.7L615.0 333.8A111.4 111.4 0 0 0 689.3 270.2Z" fill="#1f78b4"/>
<path d="M567.1 321.6L566.3 325.2 565.8 325.6 565.5 324.6 564.3 328.2 564.0 327.2 563.8 325.9 563.7 324.5 563.2 324.5 562.1 327.2 561.7 326.9 561.8 324.4 560.9 326.2 560.2 327.0 560.2 325.3 559.9 324.7 559.5 324.4 558.3 326.8 558.5 324.5 557.5 326.5 557.1 326.2 557.2 324.0 556.7 324.4 556.7 322.5 555.4 325.4 556.0 322.0 555.3 322.5 554.6 323.2 553.1 326.4 553.9 322.6 553.0 323.6 553.1 322.1 552.7 321.8 551.0 325.0 552.1 320.7 550.5 323.7 551.1 320.9 550.8 320.5 550.4 320.1 548.5 323.9 548.5 322.6 549.2 319.6 547.0 323.8 547.9 320.3 547.1 321.2 547.3 319.5 546.6 319.9 546.3 319.5 546.0 319.1 545.8 318.4 545.1 318.8 545.0 317.9 544.2 318.7 544.2 317.4 543.7 317.4 543.3 317.2 542.4 318.1 540.7 320.7 541.5 317.9 541.3 317.2 540.8 317.2 540.5 316.8 540.1 316.6 538.5 318.6 539.0 316.8 539.2 315.4 538.8 315.1 538.5 314.7 536.4 317.6 535.8 317.7 535.7 316.9 535.7 316.1 536.0 314.6 536.1 313.5 534.3 315.7 535.2 313.3 533.9 314.6 533.5 314.3 533.5 313.4 533.8 312.1 532.2 313.8 531.8 313.5 532.1 312.3 531.3 312.6 530.8 312.5 531.7 310.4 530.7 311.1 530.2 311.1 529.0 312.0 530.2 309.4 529.8 309.2 528.6 310.2 528.6 309.4 528.6 308.5 528.1 308.4 527.1 309.1 527.1 308.3 527.3 307.3 526.5 307.6 525.9 307.6 525.9 306.8 524.0 308.6 524.6 307.1 524.7 306.2 524.0 306.3 524.3 305.3 523.1 306.0 523.7 304.6 522.6 305.2 522.8 304.3 522.0 304.5 521.5 304.4 521.8 303.3 521.3 303.2 521.2 302.6 520.9 302.4 520.1 302.5 519.7 302.3 518.6 302.8 518.9 301.8 518.1 302.0 518.9 300.5 517.0 301.9 516.8 301.4 516.9 300.7 516.6 300.3 515.3 301.0 514.9 300.7 514.8 300.2 515.2 299.1 515.9 297.8 515.2 297.8 515.3 297.1 514.9 296.8 514.6 296.5 513.9 296.5 513.6 296.2 513.7 295.5 511.2 297.2 511.8 296.0 512.5 294.8 510.0 296.5 510.2 295.6 509.2 295.9 510.3 294.3 510.0 293.9 508.9 294.3 510.6 292.2 508.6 293.3 508.5 292.8 509.4 291.5 508.7 291.4 506.3 292.9 508.5 290.5 508.1 290.2 504.8 292.2 507.3 289.6 505.3 290.7 506.6 289.1 506.0 289.0 505.4 288.8 503.5 289.7 506.3 287.0 502.8 289.1 502.8 288.5 505.1 286.2 505.0 285.7 501.9 287.4 502.4 286.5 504.3 284.6 500.9 286.4 501.5 285.4 502.4 284.2 503.2 283.1 503.2 282.6 503.1 282.1 502.7 281.8 498.5 284.0 498.9 283.2 499.5 282.2 497.9 282.7 499.1 281.4 499.0 281.0 499.4 280.1 500.7 278.8 499.3 279.2 500.2 278.1 499.7 277.8 497.5 278.6 499.0 277.2 496.2 278.3 499.3 276.0 498.9 275.7 495.3 277.2 498.2 275.0 497.0 275.2 497.9 274.2 493.4 276.1 493.8 275.3 496.6 273.3 494.0 274.2 497.1 272.1 493.1 273.6 494.5 272.3 493.2 272.5 495.9 270.6 493.8 271.2 492.1 271.5 495.0 269.6 491.6 270.6 491.4 270.2 492.5 269.2 493.3 268.3 493.9 267.6 491.8 268.0 492.6 267.1 493.8 266.1 494.1 265.5 489.9 266.8 493.6 264.7 490.3 265.6 493.5 263.8 491.3 264.2 493.1 263.0 492.9 262.6 492.6 262.2 489.6 262.9 489.9 262.3 491.5 261.2 492.2 260.5 488.7 261.2 489.1 260.6 489.8 259.9 489.6 259.5 488.8 259.2 488.1 259.0 488.8 258.3 489.2 257.6 490.2 256.8 490.3 256.3 490.6 255.8 489.9 255.5 490.2 255.0 490.1 254.5 489.9 254.1 489.7 253.7 488.0 253.7 488.6 253.1 489.0 252.5 486.3 252.7 489.0 251.5 489.2 251.0 488.7 250.7 487.6 250.5 488.9 249.7 488.6 249.3 488.7 248.8 488.4 248.4 488.5 247.9 487.9 247.6 486.9 247.4 485.0 247.3 487.9 246.2 484.8 246.4 484.5 246.0 484.7 245.5 485.8 244.8 487.6 244.0 487.5 243.6 486.0 243.4 486.7 242.8 484.3 242.7 487.3 241.8 486.9 241.4 485.5 241.1 485.2 240.7 486.3 240.1 483.3 240.0 486.2 239.2 486.3 238.7 483.8 238.6 483.1 238.2 486.7 237.3 484.2 237.1 486.5 236.4 485.3 236.1 485.3 235.6 486.5 235.1 483.6 234.9 486.3 234.2 484.5 233.9 484.8 233.4 484.5 232.9 484.0 232.5 484.0 232.1 486.2 231.5 482.6 231.2 486.2 230.6 485.5 230.2 485.3 229.7 485.8 229.2 483.3 228.9 481.2 228.4 485.5 227.9 484.2 227.5 485.1 227.0 485.7 226.5 485.9 226.1 483.9 225.6 485.9 225.2 483.9 224.7 482.5 224.2 486.0 223.8 482.9 223.3 484.4 222.9 486.1 222.5 482.5 221.9 484.8 221.5 483.8 221.0 482.6 220.5 484.1 220.1 483.0 219.6 486.3 219.3 486.3 218.9 482.8 218.2 483.3 217.7 483.5 217.3 483.0 216.8 482.5 216.3 486.0 216.1 485.6 215.6 484.7 215.1 484.9 214.6 485.3 214.2 486.8 214.0 486.7 213.5 484.6 212.8 486.4 212.5 485.6 212.0 485.6 211.5 484.4 210.9 485.3 210.5 486.6 210.3 486.9 209.9 486.6 209.4 487.3 209.0 487.5 208.6 486.5 208.0 486.8 207.6 487.7 207.3 486.7 206.6 485.9 206.0 487.7 205.9 487.8 205.4 487.9 205.0 487.6 204.5 487.9 204.1 488.2 203.7 486.8 202.9 486.7 202.4 488.8 202.4 486.6 201.4 489.1 201.6 488.2 200.9 489.0 200.6 488.9 200.1 488.9 199.7 489.4 199.3 488.3 198.5 487.0 197.7 489.5 197.9 489.4 197.4 489.9 197.1 488.8 196.3 489.3 196.0 490.1 195.8 490.3 195.4 490.5 194.9 490.6 194.5 491.2 194.2 491.3 193.8 490.0 192.9 489.6 192.2 490.4 192.0 491.3 191.9 492.0 191.7 489.9 190.4 490.2 190.0 491.8 190.1 490.3 189.1 491.5 189.0 492.7 189.0 493.2 188.7 492.0 187.8 493.3 187.8 492.9 187.1 493.4 186.9 493.4 186.4 494.2 186.2 494.4 185.8 492.8 184.6 493.0 184.2 494.9 184.5 494.8 184.0 494.1 183.2 492.3 181.9 493.4 181.8 492.7 181.0 495.4 181.8 493.9 180.5 493.2 179.7 494.6 179.9 495.0 179.6 495.0 179.1 497.3 179.7 494.0 177.5 497.7 178.9 495.0 177.0 494.9 176.4 496.5 176.7 498.6 177.3 497.6 176.3 496.8 175.3 496.1 174.4 497.4 174.6 499.7 175.4 496.7 173.1 500.2 174.6 499.5 173.7 498.7 172.7 496.8 171.0 498.8 171.7 500.8 172.4 497.9 170.0 499.1 170.2 501.1 170.9 501.8 170.9 501.5 170.1 499.3 168.1 499.4 167.6 500.6 167.9 501.0 167.6 500.6 166.7 503.9 168.5 504.0 168.0 501.1 165.4 501.5 165.1 503.4 165.9 503.3 165.2 505.6 166.4 504.2 164.8 505.6 165.2 503.6 163.1 504.1 162.9 503.4 161.8 506.4 163.6 505.7 162.4 507.5 163.3 506.8 162.1 507.9 162.4 507.7 161.7 507.8 161.2 507.0 159.9 509.3 161.2 508.6 160.0 507.1 158.2 509.1 159.3 509.8 159.3 510.5 159.3 511.1 159.2 508.9 156.7 510.0 157.0 512.1 158.3 510.7 156.4 511.7 156.7 512.9 157.2 512.3 156.1 512.8 155.9 511.4 153.9 512.4 154.2 513.7 154.8 514.8 155.3 513.5 153.3 513.1 152.3 515.0 153.6 516.1 154.1 515.6 152.8 515.7 152.3 516.4 152.3 517.0 152.3 517.5 152.2 517.6 151.7 517.8 151.2 518.5 151.3 518.6 150.7 519.5 151.0 519.8 150.7 520.0 150.3 520.5 150.1 520.5 149.5 519.6 147.7 521.5 149.2 521.2 148.2 521.7 148.1 521.5 147.1 522.8 148.0 520.8 144.9 522.2 145.8 523.3 146.5 522.7 145.0 523.2 144.9 524.0 145.2 524.0 144.5 524.7 144.6 526.0 145.6 526.2 145.0 524.7 142.3 526.6 144.1 526.1 142.6 527.8 144.2 527.2 142.5 528.0 142.9 527.8 141.9 528.6 142.1 528.7 141.5 528.6 140.5 530.4 142.4 530.6 141.9 531.2 141.9 531.1 141.0 531.9 141.4 532.3 141.1 532.5 140.6 533.0 140.6 532.2 138.4 533.3 139.4 534.1 139.8 533.9 138.7 534.6 138.9 534.5 137.8 535.1 138.0 534.7 136.3 536.3 138.2 535.9 136.5 536.9 137.4 536.5 135.7 537.8 137.1 538.1 136.7 538.5 136.6 538.3 135.3 537.5 132.8 539.5 135.6 539.3 134.3 539.9 134.3 539.5 132.5L542.7 138.9A97.7 97.7 0 0 0 567.1 321.6ZM553.0 134.4L550.9 128.6 551.1 127.9 551.5 127.5 553.2 130.8 553.6 130.6 553.5 129.1 554.2 129.8 554.0 127.6 555.0 129.2 555.7 129.9 556.0 129.4 556.3 128.9 556.8 129.0 557.2 128.5 557.9 129.3 558.2 128.7 558.7 129.0 559.1 128.7 559.1 127.1 559.8 127.7 560.4 128.4 560.7 127.8 561.3 128.3 561.8 128.2 562.2 127.9 562.6 127.9 562.5 125.6 563.0 125.5 563.5 125.7 564.2 126.8 564.7 126.9 564.9 125.9 565.7 127.2 565.8 125.6 566.6 127.1 567.0 127.0 567.5 127.0 567.4 124.1 568.0 124.8 568.4 124.7 569.2 126.5 569.4 125.0 569.8 124.4 570.2 123.8 571.0 126.4 571.0 123.4 571.3 122.0 571.9 122.9 572.8 126.0 572.6 121.1 573.2 122.3 574.0 124.6 574.3 123.9 574.9 124.3 575.3 124.2 575.7 123.9 576.3 125.1 576.7 124.9 577.2 125.1 577.7 125.2 578.1 124.7 578.4 123.2 579.0 125.0 579.4 124.4 580.0 125.2 580.3 123.4 580.9 125.2 581.3 125.1 581.7 124.9 582.1 123.7 582.5 122.6 583.1 124.7 583.5 124.7 583.9 122.7 584.4 122.6 584.8 121.9 585.3 124.4 585.8 124.7 586.2 124.4 586.7 125.1 587.2 123.7 587.6 124.2 588.1 124.7 588.5 124.9 589.0 124.2 589.4 124.9 589.9 124.4 590.3 124.2 590.8 124.9 591.2 125.2 591.7 123.7 592.2 124.1 592.6 124.6 593.0 124.5 593.6 123.4 594.0 123.2 594.6 122.2 594.8 124.6 595.2 125.3 595.9 123.3 596.3 123.3 596.9 122.5 597.0 125.3 597.6 124.3 598.2 123.3 598.7 123.0 598.9 124.9 599.6 123.0 599.7 125.8 600.2 125.5 600.7 125.0 601.1 125.7 601.5 126.1 602.4 123.0 602.7 124.0 602.8 126.3 603.7 123.8 604.6 121.3 605.0 121.5 605.1 123.8 605.3 125.3 605.7 125.4 606.6 123.1 607.0 123.5 607.5 123.8 608.0 123.6 607.8 126.5 608.6 125.3 608.7 126.6 609.1 127.2 609.5 127.6 610.6 124.7 610.4 127.3 611.2 126.1 611.3 127.8 611.6 128.1 612.1 128.2 612.5 128.3 613.0 128.2 613.4 128.5 614.0 127.9 614.9 126.6 615.0 127.8 615.6 127.4 615.6 128.9 617.2 125.3 617.0 127.5 616.8 129.6 618.1 126.9 618.2 128.1 618.2 129.8 618.5 130.1 619.1 129.9 619.9 128.8 619.9 130.4 621.1 128.1 621.1 129.6 622.1 128.2 622.1 129.7 622.0 131.2 623.2 129.1 623.7 129.2 623.6 130.8 624.7 129.1 624.3 131.6 624.8 131.4 626.7 127.9 625.6 131.8 627.3 128.9 626.6 131.8 627.7 130.4 628.3 130.1 628.4 131.0 628.4 132.2 630.0 129.8 630.3 130.2 629.7 132.8 629.9 133.4 630.9 132.3 631.4 132.4 631.2 133.7 633.2 130.8 631.9 134.5 633.8 131.6 633.6 133.0 633.3 134.8 633.2 135.8 635.4 132.7 634.8 134.8 636.8 132.0 636.7 133.2 635.1 137.1 635.5 137.4 636.2 137.1 637.4 135.7 637.3 136.8 639.3 134.2 639.5 134.9 637.8 138.8 638.5 138.5 638.6 139.1 640.4 137.0 639.6 139.3 639.7 139.9 640.8 139.1 641.1 139.3 641.8 139.2 641.4 140.7 642.5 139.7 642.3 140.9 642.7 141.1 644.3 139.6 643.6 141.4 644.0 141.6 643.9 142.6 644.8 142.1 644.9 142.7 646.1 141.8 646.3 142.2 646.4 142.9 646.9 143.0 646.7 144.1 648.0 143.1 648.1 143.7 647.9 144.8 649.2 143.8 649.0 144.8 648.8 145.7 650.0 144.9 650.4 145.2 650.1 146.4 651.2 145.6 651.1 146.6 652.3 145.8 651.2 147.8 652.1 147.5 651.7 148.6 652.4 148.5 652.4 149.2 653.6 148.6 653.3 149.6 655.3 148.0 654.5 149.5 655.9 148.6 655.1 150.3 655.0 151.0 655.5 151.1 656.1 151.2 657.5 150.4 656.5 152.0 658.4 150.7 656.9 153.0 657.4 153.1 659.5 151.6 658.1 153.7 658.1 154.3 659.5 153.5 660.4 153.2 660.2 154.1 659.5 155.5 660.0 155.6 662.6 153.8 662.9 154.1 663.0 154.7 662.9 155.4 663.3 155.7 661.8 157.6 662.9 157.2 662.4 158.3 662.5 158.8 663.1 158.9 664.2 158.6 664.3 159.0 663.8 160.0 664.9 159.7 664.3 160.8 665.4 160.5 665.3 161.2 665.2 161.8 665.9 161.9 667.5 161.2 666.3 162.7 667.1 162.6 667.2 163.1 668.8 162.5 667.0 164.4 668.7 163.7 667.9 164.9 667.9 165.5 669.1 165.1 669.5 165.4 668.6 166.6 669.8 166.3 669.5 167.1 670.9 166.7 672.2 166.3 670.0 168.4 671.2 168.1 670.4 169.2 672.9 168.1 674.2 167.7 672.5 169.4 673.0 169.6 674.4 169.2 672.6 171.0 673.1 171.2 672.6 172.1 675.3 170.9 674.7 171.8 674.1 172.7 673.8 173.5 673.7 174.0 674.7 174.0 675.9 173.8 674.3 175.3 675.0 175.3 674.7 176.1 676.6 175.5 675.1 176.8 675.4 177.2 675.6 177.6 676.7 177.5 676.3 178.3 677.0 178.4 677.0 178.9 677.2 179.3 679.1 178.8 679.6 179.1 677.9 180.5 678.6 180.6 677.7 181.6 678.9 181.5 679.3 181.8 679.0 182.5 679.5 182.7 678.8 183.5 680.2 183.4 680.8 183.7 679.7 184.6 680.4 184.8 680.5 185.3 681.2 185.5 680.4 186.3 680.8 186.6 680.2 187.3 680.7 187.6 682.7 187.3 682.9 187.7 681.1 188.9 682.5 188.9 681.9 189.6 681.4 190.3 681.6 190.7 683.1 190.6 682.3 191.4 683.7 191.4 685.0 191.4 683.8 192.3 682.7 193.2 682.9 193.5 683.9 193.7 685.6 193.6 683.4 194.8 684.9 194.8 683.6 195.7 685.1 195.7 685.0 196.2 684.9 196.7 687.5 196.4 685.0 197.6 687.2 197.5 684.5 198.7 685.7 198.9 686.3 199.2 688.7 199.0 685.1 200.5 685.7 200.7 689.9 200.2 687.4 201.3 690.3 201.0 685.2 202.7 685.3 203.2 687.5 203.1 690.2 203.0 685.9 204.4 685.8 204.9 686.9 205.1 685.9 205.8 687.1 206.0 688.3 206.3 688.9 206.6 686.3 207.6 688.2 207.7 689.6 207.9 686.5 208.9 690.2 208.7 688.9 209.4 691.4 209.5 686.7 210.7 691.3 210.5 687.0 211.6 688.6 211.8 687.0 212.5 690.6 212.5 688.8 213.1 688.2 213.7 691.5 213.8 687.3 214.7 691.2 214.7 688.0 215.5 687.7 216.0 690.2 216.2 688.0 216.9 691.8 217.0 688.8 217.7 687.9 218.3 690.4 218.5 688.5 219.1 687.9 219.6 690.9 219.9 689.4 220.4 690.9 220.8 687.9 221.4 689.9 221.8 687.9 222.3 690.0 222.7 687.9 223.2 688.2 223.7 689.4 224.1 688.8 224.5 689.0 225.0 689.2 225.5 689.7 225.9 688.1 226.4 690.8 226.8 688.2 227.3 690.0 227.7 687.9 228.2 688.5 228.6 689.0 229.1 688.3 229.5 690.8 230.1 689.1 230.5 688.7 230.9 687.8 231.3 689.6 231.9 687.7 232.2 689.4 232.8 690.8 233.3 691.0 233.8 691.0 234.3 687.6 234.4 687.7 234.9 689.3 235.5 688.9 235.9 689.0 236.4 688.2 236.8 687.7 237.2 689.0 237.8 688.9 238.2 688.6 238.7 687.4 239.0 688.5 239.6 687.7 239.9 687.9 240.4 687.3 240.8 686.8 241.2 688.5 241.9 688.5 242.3 686.6 242.5 688.3 243.2 686.6 243.4 686.4 243.8 686.3 244.3 686.2 244.7 686.4 245.2 687.4 245.9 687.1 246.3 686.1 246.5 685.7 246.9 686.8 247.6 687.7 248.2 686.9 248.5 687.7 249.2 686.0 249.3 686.1 249.8 687.6 250.6 685.1 250.4 684.8 250.8 687.5 252.0 685.1 251.8 685.1 252.3 687.2 253.4 684.8 253.2 686.2 254.0 684.8 254.1 686.6 255.1 684.4 254.9 685.4 255.7L680.5 254.2A97.7 97.7 0 0 0 553.0 134.4ZM676.7 264.7L679.7 266.0 679.8 266.5 680.1 267.2 679.5 267.4 678.9 267.7 680.3 268.8 678.6 268.5 678.8 269.1 682.3 271.2 681.9 271.6 678.2 270.3 678.0 270.7 677.8 271.1 679.4 272.4 679.8 273.2 679.3 273.4 679.3 273.9 676.7 273.1 676.2 273.3 677.6 274.6 676.3 274.4 675.7 274.6 676.2 275.4 676.0 275.8 675.7 276.2 677.2 277.5 674.5 276.5 675.5 277.6 674.1 277.3 674.3 277.9 673.5 278.0 673.3 278.4 673.7 279.2 673.0 279.3 675.3 281.2 673.6 280.7 672.4 280.5 671.8 280.7 673.0 281.9 675.0 283.8 671.2 281.9 673.5 283.9 673.8 284.7 675.1 286.1 670.9 283.8 671.0 284.5 671.8 285.6 672.1 286.4 669.8 285.3 670.7 286.5 669.4 286.1 669.3 286.6 669.5 287.3 670.2 288.4 670.3 289.1 667.8 287.7 669.0 289.3 668.3 289.3 667.1 289.0 668.4 290.5 667.3 290.2 668.4 291.7 667.2 291.4 667.1 291.9 666.5 292.0 664.5 290.9 665.2 292.1 663.8 291.5 664.7 292.8 663.3 292.3 663.1 292.6 663.6 293.7 663.3 294.1 662.2 293.7 662.6 294.6 661.9 294.6 661.3 294.6 661.4 295.4 661.1 295.8 662.6 297.8 661.9 297.7 661.3 297.8 660.8 298.0 659.3 297.1 659.5 297.9 659.6 298.7 658.2 298.0 658.2 298.6 658.6 299.7 657.6 299.3 658.0 300.4 656.5 299.5 656.1 299.6 657.1 301.4 655.4 300.2 656.3 301.9 655.8 302.0 654.9 301.7 655.4 303.0 654.6 302.7 653.5 302.1 654.1 303.5 654.1 304.3 652.3 302.9 653.3 304.7 652.6 304.6 651.9 304.5 651.5 304.8 651.0 304.8 651.0 305.5 650.7 305.9 651.5 307.6 649.4 305.6 649.1 306.1 648.6 306.1 649.3 307.8 650.0 309.5 648.6 308.4 648.6 309.2 647.7 308.7 648.2 310.1 646.8 309.0 645.9 308.5 646.7 310.5 644.9 308.7 645.0 309.6 644.1 309.2 643.8 309.4 644.9 311.9 643.3 310.3 644.5 313.1 642.5 310.8 641.9 310.7 642.5 312.4 642.1 312.7 641.3 312.3 640.6 312.0 640.6 313.0 640.9 314.3 640.7 314.8 639.3 313.4 639.2 314.0 638.8 314.2 639.0 315.6 637.3 313.6 637.3 314.4 637.7 316.1 636.1 314.2 636.4 315.5 635.4 314.7 635.6 316.1 635.4 316.6 634.9 316.6 634.6 317.0 634.2 317.3 633.9 317.7 632.8 316.6 632.6 317.1 632.0 317.0 631.5 317.1 631.5 317.9 630.6 317.3 631.1 319.2 630.5 319.0 630.7 320.6 629.6 319.4 628.7 318.5 628.3 318.7 629.0 321.4 627.3 318.7 627.0 319.1 626.4 318.9 627.9 323.6 626.7 321.9 627.2 324.3 625.4 321.2 625.2 322.0 624.7 322.0 623.6 320.2 623.1 320.3 622.8 320.8 622.9 322.4 622.0 321.1 622.1 322.8 621.1 321.5 621.2 322.9 621.1 324.0 620.6 324.1 620.0 323.7 620.3 326.0 619.1 324.0 618.6 323.9 619.0 326.6 617.2 322.6 617.9 326.4 617.9 328.0 617.4 327.7 616.0 324.8 615.1 323.2 615.8 327.5 614.6 325.0 614.0 324.4 613.3 323.4 613.3 325.4 613.0 325.9L611.6 320.6A97.7 97.7 0 0 0 676.7 264.7Z" fill="#fb9a99"/>
<path d="M569.8 308.4L568.2 315.9 567.8 316.0 567.3 315.9 567.0 315.2 566.4 315.9 566.0 315.7 565.6 315.2 565.2 315.1 564.8 314.7 564.4 314.7 563.8 315.0 563.4 314.9 563.0 314.6 562.7 314.1 562.2 314.1 561.6 314.6 561.3 313.9 560.8 313.9 560.5 313.5 559.9 313.8 559.4 313.9 559.2 313.2 558.8 313.0 558.3 312.9 557.9 312.7 557.4 312.7 556.9 312.9 556.6 312.3 556.1 312.5 555.5 312.6 555.2 312.2 555.0 311.6 554.5 311.6 554.1 311.3 553.7 311.2 553.3 311.0 552.6 311.4 552.4 310.8 551.9 310.7 551.6 310.3 551.0 310.6 550.8 309.9 550.4 309.8 549.8 309.9 549.5 309.5 549.0 309.5 548.7 309.1 548.3 308.8 547.7 309.0 547.5 308.5 546.8 308.9 546.6 308.2 546.1 308.2 545.8 307.9 545.5 307.4 545.1 307.2 544.4 307.6 544.1 307.3 543.7 307.0 543.5 306.4 543.1 306.2 542.7 306.1 541.9 306.4 541.5 306.2 541.4 305.5 541.0 305.3 540.7 305.0 540.3 304.8 539.6 305.0 539.5 304.4 539.2 303.9 538.5 304.1 538.4 303.6 537.8 303.6 537.5 303.3 537.2 302.9 536.9 302.6 536.3 302.7 536.1 302.1 535.6 302.1 535.4 301.5 535.0 301.3 534.6 301.2 534.1 301.0 533.9 300.6 533.3 300.6 533.1 300.0 532.5 300.1 532.1 300.0 532.0 299.3 531.8 298.9 531.0 299.1 530.8 298.6 530.4 298.4 530.0 298.2 529.8 297.8 529.4 297.5 529.1 297.2 529.0 296.6 528.5 296.5 528.2 296.1 527.7 296.0 527.4 295.7 527.2 295.2 526.8 295.0 526.5 294.6 526.1 294.5 525.6 294.3 525.5 293.7 525.2 293.4 524.8 293.2 524.5 292.8 524.1 292.6 523.6 292.4 523.4 292.1 523.0 291.8 522.5 291.7 522.2 291.3 522.2 290.7 521.7 290.5 521.1 290.5 521.1 289.9 520.5 289.8 520.7 289.0 520.1 288.9 519.8 288.6 519.7 288.1 519.4 287.7 518.6 287.9 518.3 287.5 518.3 286.9 517.7 286.8 517.8 286.1 517.1 286.1 517.3 285.4 517.1 285.0 516.7 284.7 516.1 284.6 516.3 283.9 515.9 283.6 515.3 283.5 515.3 282.9 514.6 283.0 514.6 282.4 514.3 282.0 513.9 281.7 513.7 281.4 513.6 280.9 513.4 280.4 513.1 280.1 512.6 279.9 512.7 279.3 512.3 279.0 511.7 278.9 511.9 278.2 511.5 277.9 511.1 277.6 511.0 277.2 510.8 276.8 510.2 276.6 510.3 276.0 510.2 275.5 509.6 275.4 509.6 274.8 508.9 274.7 509.0 274.1 508.8 273.8 508.7 273.3 508.1 273.1 508.2 272.5 507.6 272.3 507.8 271.7 507.0 271.7 507.0 271.1 506.7 270.8 506.6 270.3 506.3 270.0 506.4 269.4 506.3 269.0 505.9 268.6 505.6 268.3 505.7 267.8 505.5 267.4 505.0 267.1 504.5 266.8 504.7 266.2 504.4 265.9 503.8 265.6 504.3 264.9 504.1 264.5 503.7 264.2 503.4 263.8 503.5 263.3 503.3 262.9 502.9 262.6 502.9 262.1 502.4 261.8 502.2 261.4 502.5 260.8 502.3 260.4 501.8 260.1 501.4 259.8 501.7 259.2 501.7 258.7 501.5 258.3 500.7 258.1 501.1 257.5 500.4 257.3 500.4 256.8 500.4 256.3 500.5 255.8 500.1 255.4 500.1 255.0 499.6 254.7 499.5 254.2 499.3 253.8 499.4 253.3 499.2 252.9 499.5 252.3 499.3 251.9 498.6 251.6 498.6 251.2 498.7 250.7 498.5 250.3 498.5 249.8 498.6 249.3 498.3 248.9 497.8 248.6 498.2 248.0 498.1 247.6 498.0 247.1 498.0 246.7 497.7 246.3 497.3 245.9 497.4 245.4 497.6 244.9 497.4 244.5 496.9 244.1 497.2 243.6 497.1 243.2 496.9 242.8 496.9 242.3 496.7 241.9 496.4 241.5 496.8 241.0 496.3 240.6 496.3 240.1 495.8 239.7 496.5 239.2 496.3 238.8 496.1 238.3 496.1 237.9 496.3 237.4 495.6 237.0 495.5 236.6 496.1 236.1 495.9 235.6 496.0 235.2 495.9 234.7 496.0 234.3 495.9 233.8 495.7 233.4 495.8 232.9 495.8 232.5 495.1 232.1 495.1 231.6 495.7 231.1 495.5 230.7 495.5 230.2 495.2 229.8 495.5 229.3 495.1 228.9 495.6 228.4 495.6 228.0 495.0 227.5 495.6 227.1 495.5 226.6 495.4 226.2 495.5 225.7 495.2 225.3 495.5 224.8 495.4 224.4 495.4 223.9 495.1 223.5 495.0 223.0 495.2 222.6 495.5 222.1 495.3 221.7 495.2 221.2 495.6 220.8 495.6 220.3 495.8 219.9 495.7 219.4 495.7 219.0 495.4 218.5 495.9 218.1 495.9 217.6 495.4 217.1 495.7 216.7 495.9 216.3 496.0 215.8 495.8 215.4 495.7 214.9 496.0 214.5 495.9 214.0 495.6 213.5 496.5 213.2 495.8 212.6 496.4 212.2 496.1 211.7 496.4 211.3 496.4 210.9 496.2 210.4 497.0 210.1 497.1 209.6 496.8 209.1 497.0 208.7 497.2 208.3 497.0 207.8 496.9 207.3 497.4 206.9 496.8 206.3 497.1 205.9 497.7 205.6 497.3 205.0 498.1 204.8 498.2 204.3 497.5 203.7 497.8 203.3 498.0 202.9 498.2 202.5 498.6 202.1 498.6 201.6 498.9 201.3 499.0 200.8 499.1 200.4 499.1 199.9 499.3 199.5 499.0 198.9 499.3 198.6 499.6 198.2 499.9 197.8 499.7 197.3 500.2 196.9 500.4 196.6 500.3 196.0 500.3 195.5 500.2 195.0 500.6 194.7 500.7 194.3 500.6 193.7 501.1 193.4 501.2 193.0 501.8 192.7 501.4 192.1 501.4 191.6 502.2 191.4 502.3 191.0 502.3 190.5 502.2 190.0 502.9 189.8 502.8 189.2 502.9 188.8 502.9 188.3 503.6 188.1 503.6 187.6 504.1 187.4 503.8 186.7 504.5 186.6 504.2 185.9 504.5 185.5 504.9 185.3 504.7 184.6 505.4 184.5 505.0 183.8 505.9 183.8 505.8 183.2 506.3 182.9 506.2 182.4 506.4 181.9 507.0 181.8 506.7 181.1 507.3 180.9 507.3 180.4 507.8 180.2 507.6 179.5 508.3 179.4 508.5 179.0 508.8 178.6 509.0 178.3 508.9 177.6 509.0 177.2 509.2 176.8 509.7 176.5 510.2 176.4 510.5 176.0 510.6 175.5 510.6 175.0 511.2 174.9 511.2 174.3 511.7 174.1 511.9 173.7 512.1 173.2 512.0 172.6 512.4 172.4 513.0 172.2 513.1 171.8 513.2 171.3 513.7 171.1 513.9 170.7 514.0 170.2 514.6 170.1 514.5 169.4 515.2 169.4 515.4 169.0 515.8 168.7 516.0 168.4 515.8 167.6 516.5 167.6 516.9 167.3 516.8 166.6 517.1 166.3 517.8 166.3 517.9 165.8 518.2 165.4 518.6 165.2 518.8 164.8 519.3 164.6 519.1 163.8 519.7 163.8 520.1 163.5 520.3 163.1 520.3 162.5 520.8 162.4 521.4 162.3 521.6 161.9 521.6 161.3 522.3 161.2 522.3 160.7 523.0 160.7 523.2 160.3 523.1 159.5 523.8 159.6 524.1 159.3 524.4 158.9 524.9 158.8 525.3 158.5 525.2 157.8 525.9 157.9 525.9 157.2 526.4 157.1 526.9 157.0 526.9 156.2 527.6 156.4 527.9 156.1 528.2 155.8 528.7 155.6 528.6 154.8 529.4 155.0 529.5 154.4 530.0 154.3 530.2 153.9 530.8 153.8 531.1 153.6 531.2 153.0 531.7 152.9 532.2 152.8 532.5 152.4 532.8 152.0 533.3 152.0 533.7 151.8 534.0 151.4 534.4 151.1 534.6 150.7 535.1 150.6 535.3 150.1 535.5 149.7 536.2 149.9 536.3 149.2 536.9 149.3 537.3 149.0 537.4 148.5 538.0 148.5 538.5 148.5 538.8 148.1 539.3 148.0 539.7 147.8 540.0 147.4 540.1 146.7 540.8 147.0 541.0 146.5 541.4 146.2 541.9 146.3 542.4 146.1 542.5 145.4 542.9 145.2 543.6 145.5 543.8 144.9 544.4 145.1 544.5 144.4 544.9 144.2 545.4 144.2L548.9 150.9A84.2 84.2 0 0 0 569.8 308.4ZM557.7 147.1L555.0 139.8 555.5 139.7 555.8 139.2 556.5 139.8 556.9 139.7 557.3 139.3 557.5 138.7 558.2 139.2 558.4 138.5 558.9 138.5 559.4 138.7 559.8 138.2 560.2 137.9 560.8 138.4 561.2 138.2 561.6 138.1 562.0 137.9 562.4 137.8 562.8 137.5 563.4 137.7 563.7 137.2 564.2 137.2 564.7 137.3 565.1 137.0 565.4 136.6 565.9 136.7 566.3 136.5 566.8 136.7 567.3 136.7 567.6 136.1 568.1 136.2 568.5 135.8 569.0 135.9 569.5 136.3 569.8 135.7 570.4 136.1 570.8 135.9 571.2 135.5 571.7 135.7 572.2 135.8 572.5 135.3 572.9 135.0 573.5 135.5 573.8 134.8 574.3 134.8 574.8 135.4 575.3 135.3 575.7 134.9 576.2 135.2 576.5 134.4 577.0 134.9 577.4 134.5 577.9 134.7 578.3 134.1 578.8 134.7 579.3 134.6 579.7 134.6 580.2 134.5 580.6 134.6 581.0 134.0 581.5 134.1 582.0 134.7 582.4 133.9 582.9 134.4 583.3 134.3 583.8 134.5 584.2 134.5 584.7 134.1 585.1 134.6 585.6 134.1 586.0 134.6 586.5 134.6 586.9 134.6 587.4 134.2 587.8 134.6 588.3 134.6 588.7 134.5 589.2 134.6 589.6 134.6 590.1 134.5 590.5 134.3 591.0 134.1 591.4 134.6 591.9 134.1 592.3 134.6 592.8 134.1 593.2 134.4 593.7 134.4 594.2 134.2 594.6 134.4 595.0 134.8 595.5 134.6 596.0 134.6 596.4 134.7 596.9 134.6 597.3 134.9 597.8 134.7 598.2 134.7 598.6 135.1 599.0 135.4 599.6 134.8 599.9 135.4 600.4 135.2 600.9 135.3 601.3 135.6 601.8 135.4 602.2 135.4 602.6 135.7 603.1 135.5 603.5 135.7 604.0 135.9 604.4 136.3 604.9 135.7 605.2 136.4 605.8 136.0 606.2 136.4 606.7 136.1 607.1 136.5 607.6 136.3 608.0 136.6 608.4 136.7 608.9 136.6 609.2 137.3 609.8 136.6 610.1 137.5 610.5 137.6 610.9 137.8 611.4 137.9 611.8 137.9 612.3 138.0 612.9 137.5 613.2 137.9 613.6 138.3 614.0 138.5 614.5 138.5 615.0 138.5 615.4 138.6 615.9 138.6 616.3 138.8 616.7 139.1 617.2 139.0 617.5 139.6 617.8 139.8 618.4 139.7 618.7 140.2 619.3 139.8 619.5 140.5 620.0 140.6 620.4 140.8 620.8 141.0 621.2 141.2 621.7 141.1 622.2 141.0 622.7 141.0 622.8 141.9 623.2 142.1 623.9 141.8 624.3 141.9 624.8 142.0 625.0 142.5 625.4 142.8 626.0 142.6 626.2 143.3 626.5 143.6 627.0 143.7 627.5 143.6 628.0 143.7 628.2 144.2 628.8 144.0 629.1 144.4 629.5 144.7 629.9 144.8 630.3 145.0 630.7 145.3 631.0 145.6 631.4 145.9 631.7 146.3 632.1 146.4 632.5 146.7 633.2 146.3 633.3 147.1 634.0 146.7 634.1 147.5 634.7 147.5 634.8 148.1 635.3 148.2 635.7 148.4 635.9 148.8 636.4 148.9 637.0 148.8 637.2 149.4 637.8 149.3 638.0 149.8 638.4 150.0 638.7 150.4 639.1 150.6 639.4 150.9 639.9 151.0 640.1 151.5 640.7 151.5 640.8 152.1 641.5 151.9 641.5 152.6 641.9 152.8 642.2 153.2 642.6 153.4 643.2 153.4 643.6 153.6 643.8 154.0 644.0 154.5 644.4 154.7 644.7 155.1 645.1 155.3 645.8 155.2 645.8 155.8 646.5 155.7 646.7 156.2 646.9 156.7 647.1 157.1 647.8 157.0 647.8 157.7 648.2 157.9 648.6 158.2 648.8 158.6 649.4 158.7 649.6 159.1 649.9 159.4 650.4 159.5 650.5 160.1 650.8 160.5 651.1 160.8 651.5 161.0 651.7 161.4 652.5 161.2 652.4 162.0 652.6 162.4 653.0 162.7 653.4 163.0 653.6 163.4 654.5 163.2 654.7 163.6 654.9 164.0 654.8 164.7 655.1 165.0 655.8 165.0 655.7 165.7 656.5 165.6 656.7 166.0 657.1 166.3 657.0 166.9 657.3 167.3 657.5 167.7 657.8 168.1 658.1 168.4 658.9 168.3 659.1 168.7 659.2 169.3 659.3 169.7 659.8 169.9 660.2 170.2 660.0 170.9 660.6 171.1 660.5 171.7 660.8 172.0 661.4 172.1 661.4 172.7 661.6 173.1 661.8 173.5 662.5 173.5 662.6 174.0 663.0 174.3 662.8 175.0 663.3 175.2 663.3 175.7 663.7 176.0 664.1 176.3 664.2 176.8 664.7 177.0 664.7 177.5 665.0 177.8 665.4 178.1 665.5 178.6 665.5 179.1 666.4 179.1 666.2 179.8 666.2 180.3 666.4 180.7 667.3 180.7 667.0 181.4 667.4 181.7 667.3 182.2 668.1 182.3 667.8 183.0 668.1 183.3 668.5 183.7 668.5 184.1 669.0 184.4 669.0 184.9 669.2 185.3 669.2 185.8 669.5 186.2 669.8 186.5 670.3 186.8 670.3 187.3 670.1 187.9 670.6 188.2 670.8 188.5 670.8 189.0 671.2 189.4 671.2 189.9 671.3 190.3 671.9 190.5 671.9 191.0 671.7 191.6 672.2 191.9 672.4 192.3 672.2 192.8 672.6 193.2 673.1 193.5 673.1 193.9 673.0 194.5 673.6 194.8 673.2 195.3 673.5 195.7 673.8 196.1 674.0 196.5 673.9 197.0 674.2 197.4 674.0 197.9 674.3 198.3 674.3 198.8 675.1 199.0 674.7 199.6 674.7 200.1 675.1 200.4 675.2 200.9 675.1 201.4 675.1 201.8 675.3 202.2 676.0 202.5 675.7 203.1 675.7 203.5 676.0 203.9 676.2 204.4 676.0 204.9 676.1 205.3 676.7 205.6 677.0 206.0 677.2 206.4 677.2 206.9 676.5 207.5 677.5 207.8 677.3 208.3 676.8 208.8 677.1 209.2 677.7 209.6 677.9 210.0 677.2 210.6 677.4 211.0 677.5 211.4 678.1 211.8 677.5 212.4 677.5 212.8 677.5 213.3 678.4 213.6 677.9 214.1 678.1 214.6 677.9 215.0 677.8 215.5 678.0 215.9 678.3 216.3 678.0 216.8 678.2 217.3 678.6 217.7 678.1 218.2 678.7 218.6 678.2 219.1 678.2 219.5 678.8 219.9 678.2 220.4 678.8 220.8 678.3 221.3 678.3 221.8 678.4 222.2 678.9 222.6 678.6 223.1 678.4 223.6 678.9 224.0 679.0 224.5 679.1 224.9 679.0 225.4 679.0 225.8 678.4 226.3 678.8 226.7 678.8 227.2 678.5 227.6 678.4 228.1 678.7 228.5 678.5 229.0 679.1 229.4 678.9 229.9 678.3 230.3 678.3 230.8 678.8 231.2 678.6 231.7 678.7 232.1 678.2 232.6 678.2 233.0 678.9 233.5 678.2 233.9 678.2 234.4 678.3 234.8 678.7 235.3 677.9 235.7 677.9 236.2 678.0 236.6 677.9 237.1 678.0 237.5 678.1 238.0 678.4 238.5 678.1 238.9 677.9 239.3 678.0 239.8 677.4 240.2 677.3 240.6 677.6 241.1 677.2 241.5 677.0 241.9 677.1 242.4 677.3 242.9 677.2 243.3 677.4 243.8 676.9 244.2 676.6 244.6 676.8 245.1 676.3 245.5 676.3 245.9 676.6 246.4 676.1 246.8 676.6 247.4 676.0 247.7 676.1 248.2 675.6 248.5 675.8 249.0 676.0 249.6 675.8 250.0 675.4 250.3 675.2 250.8 675.3 251.2 674.8 251.6 674.9 252.1 674.8 252.5L667.6 250.3A84.2 84.2 0 0 0 557.7 147.1ZM664.3 259.4L671.3 262.4 670.8 262.7 670.7 263.1 671.0 263.7 670.8 264.1 670.0 264.3 669.9 264.7 670.1 265.3 669.4 265.5 669.8 266.2 669.8 266.7 669.3 266.9 669.0 267.3 668.5 267.5 668.6 268.1 668.3 268.5 668.2 268.9 667.8 269.2 667.8 269.7 667.2 269.9 667.1 270.4 667.1 270.9 667.0 271.4 666.4 271.5 666.5 272.1 666.4 272.6 665.9 272.8 666.0 273.4 665.7 273.7 665.6 274.2 665.1 274.4 665.1 275.0 664.4 275.0 664.3 275.5 664.2 276.0 663.5 276.1 663.4 276.6 663.1 276.9 662.9 277.3 662.5 277.6 662.7 278.3 662.1 278.3 662.3 279.0 661.5 279.1 661.8 279.8 661.0 279.8 661.0 280.4 660.4 280.5 660.2 280.9 659.9 281.2 660.0 281.9 659.6 282.2 659.6 282.7 659.1 282.9 659.0 283.4 658.2 283.3 658.4 284.1 658.2 284.5 657.8 284.8 657.2 284.8 657.2 285.4 656.7 285.5 656.3 285.8 656.1 286.2 656.1 286.9 655.3 286.8 655.3 287.4 654.9 287.6 654.5 287.8 654.1 288.1 654.0 288.6 654.0 289.2 653.7 289.5 653.0 289.5 652.7 289.8 652.4 290.2 652.5 290.9 651.6 290.7 651.3 291.0 651.1 291.4 651.0 291.9 650.4 292.0 650.0 292.3 649.8 292.7 649.5 293.0 649.3 293.5 649.1 293.9 648.8 294.2 648.4 294.5 648.1 294.8 647.5 294.9 647.3 295.3 647.1 295.7 646.5 295.7 646.1 295.9 645.8 296.3 645.3 296.4 645.4 297.3 644.9 297.4 644.5 297.6 644.3 298.0 643.7 298.1 643.4 298.4 642.9 298.5 642.7 298.9 642.6 299.6 642.2 299.8 641.4 299.5 641.4 300.2 640.7 300.1 640.4 300.3 640.0 300.5 639.6 300.8 639.4 301.3 639.1 301.7 638.8 302.0 638.3 302.1 637.8 302.2 637.5 302.4 637.1 302.7 636.8 303.1 636.3 303.1 636.1 303.7 635.5 303.6 635.2 303.9 635.1 304.6 634.4 304.3 634.1 304.7 633.6 304.8 633.4 305.2 633.1 305.7 632.5 305.5 632.1 305.8 631.7 306.0 631.2 306.1 631.1 306.7 630.5 306.6 630.2 307.0 629.7 307.0 629.3 307.2 629.1 307.9 628.6 307.8 628.2 308.1 627.7 308.0 627.2 308.1 626.9 308.4 626.5 308.7 626.0 308.7 625.6 308.9 625.4 309.6 624.8 309.3 624.7 310.2 624.2 310.1 623.9 310.5 623.4 310.6 622.7 310.2 622.5 310.7 621.9 310.5 621.7 311.2 621.1 310.8 620.9 311.6 620.4 311.5 619.9 311.6 619.5 311.7 619.0 311.7 618.7 312.2 618.2 312.0 617.9 312.5 617.4 312.5 617.0 312.9 616.6 313.0 616.1 312.9 615.7 313.1 615.3 313.2 614.9 313.7 614.5 313.7 613.9 313.5 613.7 314.3 613.1 314.0 612.7 314.0 612.3 314.5 611.9 314.7 611.5 314.7 610.9 314.3 610.5 314.7 610.2 315.1L608.2 307.5A84.2 84.2 0 0 0 664.3 259.4Z" fill="#b2df8a"/>
<path d="M572.6 294.9L571.8 299.1 571.5 298.1 571.2 297.4 570.6 297.9 570.2 297.6 569.8 297.3 569.1 298.3 568.8 297.6 568.5 296.9 567.7 298.2 567.3 298.1 566.8 298.1 566.8 296.3 565.9 297.7 566.0 296.0 565.2 296.9 564.5 297.9 564.6 295.7 564.1 295.8 563.2 297.3 563.1 296.2 562.4 296.6 562.6 294.9 561.8 295.6 561.4 295.5 560.6 296.2 560.9 294.3 560.4 294.4 559.8 294.5 559.6 293.9 558.7 294.7 558.2 294.8 558.3 293.6 557.6 294.0 557.4 293.3 557.1 292.8 556.7 292.5 555.8 293.5 555.0 294.1 554.6 293.9 554.6 292.7 554.5 292.0 553.6 292.7 553.6 291.7 553.3 291.4 552.5 291.9 552.4 291.1 552.3 290.4 551.9 290.2 551.3 290.2 550.9 290.2 550.6 289.6 549.4 290.9 549.8 289.2 549.2 289.3 549.0 288.9 547.9 289.8 547.8 289.1 546.8 289.7 547.1 288.5 547.0 287.8 545.9 288.6 545.5 288.4 546.1 286.6 544.8 287.8 544.5 287.4 543.6 288.0 544.7 285.6 542.7 287.5 543.6 285.6 542.3 286.5 542.8 285.2 542.6 284.7 541.7 285.0 542.1 283.8 541.8 283.5 540.6 284.3 539.5 284.9 539.7 283.9 539.0 284.0 539.2 283.0 538.0 283.7 538.9 282.0 537.7 282.6 536.9 282.9 537.9 281.1 537.6 280.8 536.6 281.1 536.1 281.0 536.8 279.6 536.7 279.1 536.2 278.9 535.6 278.8 535.7 278.1 534.2 279.0 534.5 278.0 534.7 277.2 534.4 276.8 533.1 277.5 532.9 277.0 533.5 275.9 533.2 275.5 532.5 275.6 532.6 274.9 531.8 275.0 531.5 274.6 531.6 274.0 530.8 274.0 531.0 273.2 530.3 273.3 530.2 272.8 530.1 272.3 529.4 272.3 529.1 271.9 529.2 271.2 528.8 271.0 527.1 271.7 527.7 270.7 527.5 270.3 527.8 269.5 526.0 270.2 526.7 269.1 527.3 268.2 525.8 268.7 525.7 268.2 526.2 267.3 525.6 267.2 525.9 266.4 523.9 267.2 525.0 265.9 523.6 266.3 524.0 265.5 524.8 264.5 524.6 264.1 523.0 264.5 522.8 264.0 523.6 263.0 523.5 262.6 522.0 262.9 523.1 261.8 522.8 261.4 521.5 261.6 521.4 261.2 521.0 260.9 521.3 260.2 521.6 259.5 519.8 259.9 519.7 259.4 520.9 258.4 521.1 257.7 521.0 257.3 520.8 256.9 520.5 256.5 520.2 256.2 519.8 255.9 518.2 256.1 519.1 255.2 518.8 254.8 519.3 254.1 517.8 254.2 518.7 253.4 518.3 253.1 517.5 252.9 518.6 252.0 518.0 251.7 517.7 251.3 516.8 251.2 516.6 250.8 517.8 249.9 516.2 249.9 517.3 249.1 517.4 248.6 515.7 248.6 517.2 247.7 517.0 247.3 515.5 247.3 516.8 246.4 516.6 246.0 514.8 246.0 514.2 245.7 514.8 245.1 515.8 244.3 514.2 244.3 514.0 243.9 514.1 243.3 515.7 242.5 514.6 242.3 515.5 241.6 515.4 241.2 513.7 241.1 512.7 240.8 515.2 239.9 515.0 239.4 512.7 239.4 514.9 238.6 512.8 238.4 514.2 237.8 513.6 237.4 512.8 237.0 513.1 236.5 513.4 236.0 510.1 236.0 514.4 235.0 513.7 234.6 514.1 234.1 513.8 233.7 514.2 233.2 513.8 232.8 514.1 232.3 513.5 231.9 514.1 231.4 512.2 231.1 513.4 230.5 511.5 230.2 512.7 229.7 513.9 229.2 512.6 228.8 511.4 228.3 513.3 227.8 513.1 227.4 513.0 226.9 513.3 226.5 512.5 226.0 512.3 225.5 508.7 225.0 513.2 224.6 513.8 224.2 513.9 223.8 513.6 223.3 514.0 222.9 512.5 222.3 513.8 222.0 512.9 221.4 511.8 220.9 514.0 220.6 511.7 220.0 513.7 219.7 513.8 219.2 514.2 218.8 513.2 218.3 513.2 217.8 513.1 217.3 513.7 216.9 512.5 216.3 514.3 216.1 514.3 215.7 514.2 215.2 513.9 214.7 514.7 214.4 513.7 213.7 513.8 213.3 515.0 213.0 514.6 212.5 515.1 212.1 515.3 211.7 515.1 211.2 514.6 210.6 514.4 210.1 515.5 209.9 514.6 209.2 515.7 209.0 516.0 208.6 514.5 207.8 514.9 207.4 514.8 206.9 516.4 206.9 516.5 206.5 516.3 205.9 516.8 205.6 516.9 205.1 517.0 204.7 517.1 204.3 516.9 203.8 516.7 203.2 517.4 202.9 517.6 202.6 517.9 202.2 518.0 201.7 517.9 201.2 517.4 200.6 517.7 200.2 516.9 199.4 518.4 199.5 518.2 198.9 518.2 198.4 519.0 198.2 519.3 197.9 519.3 197.4 518.6 196.6 518.0 195.9 519.3 195.9 519.4 195.5 520.5 195.5 520.7 195.1 519.7 194.1 520.8 194.1 515.1 190.8 520.5 193.0 520.6 192.5 520.1 191.7 521.4 191.9 522.0 191.7 521.9 191.1 521.8 190.6 522.6 190.5 522.2 189.7 521.7 188.9 521.5 188.2 523.7 189.0 523.8 188.5 523.4 187.8 524.5 187.9 524.5 187.4 523.6 186.3 525.3 186.8 524.8 186.0 524.1 185.0 525.9 185.6 526.2 185.3 526.4 184.9 526.4 184.3 526.7 184.0 526.3 183.1 527.4 183.3 526.7 182.3 527.6 182.4 526.8 181.2 527.2 181.0 528.2 181.1 527.8 180.2 529.4 180.9 528.9 179.9 529.9 180.2 530.2 179.9 530.1 179.2 530.0 178.5 530.0 177.9 531.4 178.5 531.1 177.6 531.3 177.2 532.3 177.5 532.5 177.1 532.5 176.5 532.3 175.6 532.9 175.6 532.2 174.3 532.4 173.8 533.4 174.2 533.6 173.7 534.8 174.3 535.4 174.2 535.6 173.8 535.5 173.1 535.3 172.2 535.4 171.7 536.7 172.3 537.1 172.1 535.6 169.8 537.0 170.6 537.7 170.8 538.7 171.2 538.3 170.1 539.3 170.6 539.5 170.0 538.6 168.3 540.0 169.3 540.7 169.3 539.3 166.9 541.3 168.6 541.7 168.5 542.1 168.3 541.8 167.2 542.3 167.0 543.1 167.3 543.5 167.1 542.5 165.0 544.1 166.4 544.6 166.3 544.2 165.0 544.9 165.2 545.8 165.6 545.3 164.1 546.2 164.6 546.8 164.8 547.1 164.4 547.0 163.3 548.0 164.1 548.2 163.5 548.1 162.5 549.0 163.2 549.2 162.7 549.1 161.5 550.2 162.5 550.5 162.2 550.7 161.6 550.7 160.7 551.0 160.3 552.0 161.1 552.4 160.9 552.7 160.4 553.5 161.0 553.0 159.2L555.1 163.2A70.4 70.4 0 0 0 572.6 294.9ZM562.5 160.0L561.1 156.2 560.6 153.3 561.8 155.3 562.9 157.0 562.9 155.6 563.2 155.2 564.1 156.4 564.6 156.4 564.6 155.1 565.4 156.0 565.7 155.6 566.2 155.7 566.4 154.7 567.1 155.6 567.5 155.1 568.0 155.4 568.2 154.5 568.7 154.4 569.3 154.9 569.7 154.6 570.1 154.5 570.5 154.3 571.0 154.4 571.5 154.4 571.6 152.7 572.4 154.2 572.5 152.6 573.0 152.5 573.7 154.1 574.2 154.0 574.5 153.3 575.1 153.9 575.2 151.6 575.7 152.1 576.4 153.5 576.8 153.5 577.1 152.4 577.6 152.1 578.2 153.4 578.5 152.4 578.9 151.4 579.3 151.3 579.9 152.8 580.4 152.4 580.8 151.8 581.3 152.2 581.6 151.0 582.2 152.2 582.3 146.3 583.1 152.0 583.4 149.3 584.0 152.6 584.4 151.7 584.9 152.6 585.4 152.6 585.8 152.8 586.3 152.4 586.7 152.6 587.2 152.7 587.6 152.7 588.1 152.9 588.6 151.3 589.0 152.4 589.4 152.9 589.9 151.5 590.3 152.8 590.8 152.8 591.2 153.0 591.8 151.3 592.1 153.0 592.7 152.2 593.1 152.7 593.7 151.2 594.0 153.0 594.6 151.1 594.9 152.8 595.4 151.9 595.9 151.5 596.4 151.9 596.6 153.5 597.1 153.5 597.5 153.4 598.0 153.7 598.7 152.2 599.3 151.2 599.6 152.3 600.3 150.8 600.3 153.2 600.9 152.5 601.5 152.2 602.0 152.0 601.9 154.4 602.4 154.5 602.8 154.5 603.4 154.0 603.8 154.6 604.4 154.0 605.0 153.4 605.5 153.3 605.6 154.9 606.2 154.4 606.4 155.2 607.1 154.4 607.6 154.3 608.2 153.9 608.6 154.1 609.0 154.5 609.2 155.3 609.9 154.6 609.8 156.5 610.2 156.7 610.6 156.8 611.7 155.0 611.5 157.1 612.0 157.0 612.9 155.9 614.3 153.5 613.2 157.7 614.0 156.8 614.5 156.9 615.2 156.3 615.0 158.1 615.5 158.0 616.1 157.9 616.2 158.6 616.6 158.9 617.6 157.7 618.3 157.3 617.9 159.4 618.2 159.7 618.7 159.7 619.0 160.3 620.0 159.1 620.3 159.6 620.5 160.2 621.5 159.3 621.3 160.7 621.6 161.1 621.8 161.6 622.2 161.9 623.1 161.2 623.6 161.2 623.7 162.0 624.7 161.1 625.3 161.0 629.3 155.2 629.8 155.4 625.5 163.3 626.3 162.9 627.0 162.8 627.2 163.2 627.4 163.8 627.7 164.1 628.6 163.6 628.8 164.1 628.3 165.7 629.6 164.6 629.3 165.8 629.5 166.3 630.1 166.2 630.5 166.6 630.8 166.8 631.3 166.9 632.2 166.5 632.2 167.2 632.0 168.2 632.4 168.4 633.3 168.1 633.1 169.1 634.7 167.8 634.5 168.8 634.8 169.1 635.8 168.7 634.9 170.5 635.1 170.9 636.1 170.4 636.0 171.2 636.5 171.4 637.7 170.7 637.4 171.7 637.8 171.9 638.8 171.6 637.7 173.4 639.5 172.2 638.7 173.6 639.6 173.3 639.0 174.6 639.6 174.7 640.4 174.5 640.1 175.4 641.8 174.4 640.6 176.2 641.7 175.8 642.0 176.2 641.5 177.3 641.8 177.6 642.2 177.8 642.7 177.9 642.7 178.6 643.3 178.7 643.9 178.8 643.6 179.6 644.0 179.8 644.9 179.7 645.2 180.1 644.8 180.9 646.8 180.0 645.9 181.2 647.3 180.7 646.4 182.0 647.5 181.8 647.6 182.3 648.0 182.5 646.9 183.9 647.3 184.2 647.3 184.7 648.1 184.7 649.7 184.2 648.1 185.8 649.0 185.7 648.9 186.3 651.0 185.6 649.1 187.3 650.7 186.8 652.0 186.6 650.7 187.9 652.5 187.4 650.4 189.1 650.8 189.4 652.3 189.1 652.2 189.7 653.1 189.7 651.4 191.2 651.6 191.6 652.6 191.6 652.2 192.3 654.8 191.5 653.4 192.7 654.8 192.5 652.8 194.0 655.0 193.4 653.2 194.8 654.6 194.7 653.6 195.6 654.8 195.6 654.4 196.3 654.3 196.8 655.9 196.6 654.4 197.7 654.6 198.1 655.1 198.4 656.5 198.4 655.2 199.4 655.7 199.7 655.4 200.2 656.5 200.3 655.8 201.1 656.2 201.4 657.0 201.6 657.2 202.0 656.3 202.8 656.5 203.2 657.0 203.5 657.0 204.0 657.6 204.3 658.4 204.5 657.4 205.3 658.2 205.5 657.6 206.2 658.3 206.5 658.9 206.8 657.9 207.5 659.1 207.6 658.9 208.2 658.4 208.8 658.3 209.3 658.7 209.6 658.4 210.2 658.7 210.5 658.6 211.0 658.7 211.5 659.7 211.7 659.8 212.2 661.8 212.3 659.1 213.2 659.1 213.7 660.8 213.9 659.5 214.5 660.6 214.8 659.5 215.5 659.4 215.9 660.0 216.3 659.9 216.8 661.4 217.0 660.2 217.7 660.4 218.1 661.5 218.4 661.8 218.9 659.8 219.5 660.0 219.9 661.2 220.3 662.3 220.7 660.7 221.3 660.1 221.7 660.0 222.2 660.2 222.6 660.4 223.1 660.8 223.5 660.1 224.0 660.2 224.5 661.5 224.9 660.2 225.4 660.9 225.8 660.2 226.3 660.7 226.7 661.7 227.2 660.7 227.6 661.7 228.1 662.8 228.6 660.8 229.0 660.9 229.5 663.0 230.0 660.8 230.4 661.8 230.9 661.5 231.3 660.3 231.7 661.3 232.2 661.5 232.7 660.2 233.0 661.8 233.7 659.9 233.9 659.9 234.4 660.1 234.9 661.3 235.5 661.0 235.9 661.7 236.5 661.5 236.9 659.3 237.0 660.0 237.6 659.1 237.9 660.6 238.6 660.8 239.1 660.3 239.5 660.0 239.9 658.7 240.1 658.7 240.6 658.6 241.0 659.8 241.8 660.3 242.3 658.3 242.3 658.4 242.8 658.3 243.3 658.6 243.8 658.7 244.3 658.2 244.6 659.6 245.5 658.9 245.8 657.6 245.9 657.9 246.5 657.4 246.8 657.4 247.3L654.4 246.3A70.4 70.4 0 0 0 562.5 160.0ZM651.6 253.9L654.9 255.3 655.2 255.9 655.2 256.5 653.8 256.3 654.5 257.1 653.2 257.0 656.9 259.3 654.7 258.7 653.8 258.8 652.7 258.8 652.2 259.0 652.7 259.8 652.5 260.2 653.1 261.1 651.6 260.8 651.4 261.2 650.9 261.4 651.9 262.5 651.0 262.5 650.5 262.7 651.6 263.9 650.5 263.8 650.4 264.3 649.6 264.3 650.3 265.3 649.1 265.0 650.2 266.3 648.4 265.7 648.3 266.1 648.0 266.5 647.7 266.8 647.6 267.3 647.6 267.8 647.8 268.5 646.8 268.4 646.9 269.0 646.2 269.0 645.9 269.4 645.9 269.9 647.1 271.4 645.6 270.8 645.1 271.0 646.4 272.6 646.4 273.2 644.0 271.9 644.8 273.1 643.4 272.5 643.6 273.3 643.6 273.9 644.1 275.0 643.4 274.9 642.8 275.0 641.8 274.7 642.9 276.3 641.1 275.3 640.8 275.7 640.9 276.3 640.6 276.7 640.3 277.1 640.7 278.0 639.8 277.8 638.9 277.6 639.8 279.1 640.0 280.0 638.9 279.5 637.6 278.8 638.2 280.1 637.2 279.6 637.4 280.5 637.7 281.6 636.6 281.1 637.0 282.2 635.7 281.5 635.3 281.7 634.6 281.5 634.2 281.8 634.0 282.2 633.7 282.5 633.9 283.5 633.1 283.3 633.4 284.4 632.2 283.5 631.8 283.8 632.2 285.0 631.2 284.5 630.7 284.6 630.6 285.1 630.9 286.3 629.8 285.6 629.8 286.4 630.2 287.7 628.8 286.6 628.3 286.6 627.9 286.9 628.1 287.9 627.3 287.5 627.1 288.1 627.1 288.9 626.8 289.2 625.6 288.2 625.2 288.4 624.9 288.9 624.5 288.9 624.5 289.9 624.1 290.1 623.6 290.2 622.8 289.7 623.0 290.9 622.1 290.2 622.4 291.8 621.4 290.8 621.8 292.5 620.8 291.6 620.5 292.1 620.6 293.2 619.7 292.6 619.3 292.7 618.6 292.2 618.6 293.3 618.7 294.7 617.2 292.6 617.8 295.0 616.9 294.1 616.1 293.3 615.7 293.5 615.5 294.3 614.9 294.0 614.5 294.1 613.9 294.0 613.6 294.3 613.1 294.5 612.7 294.5 612.3 294.7 611.8 294.8 612.0 296.7 611.4 296.3 611.2 297.2 610.8 297.2 609.7 295.6 609.5 296.3 609.7 298.5 608.4 295.9 608.0 296.2 607.7 296.7 607.6 298.0 607.3 298.7 606.6 297.9 606.1 297.7 605.5 297.2L604.7 294.1A70.4 70.4 0 0 0 651.6 253.9Z" fill="#ff7f00"/>
<path d="M575.4 281.8L574.1 287.7 573.4 288.9 573.1 288.2 572.9 286.8 572.5 286.7 572.1 286.6 571.4 287.3 571.2 286.5 570.3 288.0 569.9 287.6 568.8 289.9 568.5 289.0 569.0 285.9 568.5 286.1 568.1 285.7 567.2 287.0 566.9 286.4 566.9 285.1 565.9 286.7 565.9 285.2 565.3 285.4 564.3 286.7 564.7 284.6 563.9 285.2 563.2 285.9 562.3 286.9 562.8 284.3 562.6 283.6 562.3 283.3 561.0 285.0 560.3 285.4 560.2 284.5 560.0 283.9 558.9 285.1 559.3 283.2 559.4 282.0 557.9 283.9 556.8 285.0 557.7 282.3 557.8 281.2 557.3 281.1 557.0 280.8 556.6 280.6 555.7 281.2 555.8 280.1 554.5 281.4 553.2 282.8 554.4 279.8 553.9 279.8 551.5 282.8 553.4 278.8 553.0 278.7 551.8 279.7 552.4 277.9 551.6 278.3 549.5 280.6 550.6 278.2 549.8 278.5 548.7 279.2 548.4 278.8 549.4 276.7 549.4 275.9 549.1 275.6 548.6 275.5 548.1 275.4 548.0 274.7 547.7 274.5 547.3 274.2 546.2 274.9 546.5 273.8 546.0 273.7 544.6 274.6 545.1 273.3 545.3 272.4 544.6 272.5 542.8 273.8 544.3 271.5 543.0 272.2 541.8 272.8 540.1 273.8 541.2 272.0 542.1 270.5 540.3 271.7 540.0 271.3 541.5 269.2 538.5 271.4 539.1 270.2 539.1 269.6 539.6 268.5 539.9 267.6 539.6 267.2 536.1 269.6 535.8 269.3 535.2 269.2 538.5 265.8 538.2 265.4 536.3 266.4 534.7 267.1 535.7 265.7 537.3 263.9 533.9 265.9 534.7 264.7 536.4 262.9 535.9 262.7 533.3 263.9 535.3 262.0 534.1 262.3 535.2 261.0 533.0 261.9 534.7 260.2 532.2 261.3 533.9 259.6 531.6 260.6 532.7 259.3 531.3 259.6 531.3 259.1 533.0 257.6 532.6 257.3 531.6 257.3 531.9 256.6 530.0 257.1 531.4 255.9 529.8 256.2 529.7 255.7 530.7 254.7 531.2 253.9 529.0 254.5 530.7 253.2 529.3 253.3 530.1 252.5 529.3 252.3 530.0 251.5 529.6 251.2 527.4 251.6 528.1 250.8 526.0 251.2 527.5 250.1 527.8 249.5 527.9 248.9 527.7 248.5 526.7 248.4 525.5 248.4 527.1 247.3 525.7 247.3 527.8 246.1 527.7 245.6 527.6 245.2 524.8 245.6 527.2 244.4 525.0 244.6 523.2 244.6 526.6 243.1 525.9 242.9 521.9 243.5 526.4 241.8 525.1 241.7 526.2 240.9 522.7 241.3 524.7 240.3 524.3 239.9 526.0 239.1 523.1 239.2 525.7 238.2 525.7 237.8 525.2 237.4 524.6 237.1 522.2 237.0 525.3 236.0 523.6 235.8 525.2 235.1 522.8 235.0 525.1 234.2 523.0 234.0 525.0 233.3 524.9 232.9 523.8 232.6 523.3 232.1 524.4 231.6 523.4 231.2 524.7 230.7 524.7 230.2 524.2 229.8 522.2 229.4 523.5 228.9 523.7 228.4 524.6 228.0 523.2 227.5 523.5 227.1 524.5 226.6 523.6 226.2 521.3 225.7 523.3 225.2 520.3 224.7 521.5 224.3 522.8 223.8 524.0 223.4 524.6 223.0 522.4 222.4 524.6 222.1 521.9 221.5 522.8 221.1 524.5 220.7 523.8 220.2 523.8 219.8 520.6 219.0 523.4 218.8 520.5 218.0 523.6 217.9 523.9 217.5 525.0 217.2 525.3 216.7 525.3 216.3 524.9 215.8 525.2 215.4 524.2 214.7 523.6 214.1 522.1 213.4 525.2 213.5 525.8 213.2 523.8 212.3 522.5 211.5 524.1 211.4 523.0 210.6 524.9 210.6 523.2 209.7 523.4 209.3 523.1 208.7 524.6 208.6 527.0 208.8 526.4 208.2 523.9 207.0 525.4 206.9 525.1 206.3 527.7 206.7 524.9 205.3 526.4 205.3 528.1 205.4 527.9 204.8 528.0 204.4 528.3 204.0 524.6 202.2 528.1 203.0 527.0 202.0 527.5 201.8 529.3 202.0 529.2 201.5 529.2 201.0 529.9 200.8 529.7 200.2 528.2 199.0 530.0 199.4 529.7 198.7 530.8 198.7 530.9 198.3 527.2 195.9 528.9 196.3 530.8 196.7 531.7 196.6 531.9 196.2 532.2 195.9 529.1 193.7 530.1 193.7 529.9 193.0 532.9 194.2 532.4 193.4 532.6 193.0 533.5 193.0 533.6 192.5 529.9 189.6 531.7 190.2 531.3 189.4 531.6 189.0 534.6 190.5 531.3 187.7 535.2 189.8 535.7 189.6 536.3 189.5 536.3 188.8 536.6 188.6 536.2 187.7 536.9 187.7 535.4 185.9 536.8 186.4 535.8 185.0 537.0 185.4 537.2 184.9 537.3 184.4 539.1 185.3 536.8 182.8 539.2 184.2 539.9 184.3 537.6 181.5 539.5 182.6 540.3 182.7 541.4 183.2 541.7 182.8 541.6 182.1 541.0 180.9 542.4 181.6 543.0 181.6 543.2 181.1 543.6 180.9 543.5 180.1 543.4 179.3 544.4 179.7 544.7 179.4 545.4 179.5 543.9 177.1 545.5 178.2 544.9 176.8 546.6 178.1 546.7 177.6 545.7 175.6 546.3 175.6 547.1 175.8 548.0 176.2 548.9 176.6 547.4 174.0 548.0 173.9 549.8 175.6 550.2 175.4 549.5 173.6 549.7 173.1 549.8 172.5 550.9 173.2 550.4 171.7 550.1 170.4 552.6 173.2 553.0 173.1 552.2 171.0 554.0 173.0 553.5 171.3 554.6 172.3 555.2 172.3 555.1 171.3 555.2 170.5 555.9 170.9 556.6 171.2 556.4 169.8 557.5 171.0 557.1 169.3 558.2 170.3 557.2 167.4L561.2 175.2A57.0 57.0 0 0 0 575.4 281.8ZM567.2 172.6L565.3 167.5 565.5 166.7 566.1 167.0 566.0 165.3 566.9 166.7 567.3 166.3 567.8 166.4 567.6 164.3 567.6 162.8 569.1 166.0 569.3 165.1 568.7 161.5 570.2 164.8 569.4 160.3 571.3 165.6 571.5 164.3 571.0 160.4 571.2 159.1 572.9 164.4 572.4 160.0 573.9 165.0 574.2 164.0 574.7 164.2 575.3 164.7 575.6 164.0 576.1 164.5 576.5 164.2 576.5 161.4 577.3 163.3 577.7 163.0 577.7 159.8 578.7 163.3 579.3 164.1 579.2 160.2 580.1 163.9 580.1 159.4 580.8 160.9 581.4 163.2 581.6 159.8 582.4 163.4 582.8 163.3 583.3 163.7 583.6 160.5 584.0 159.8 584.6 162.5 584.9 159.4 585.5 163.2 586.0 162.1 586.4 163.3 586.9 160.2 587.3 159.9 587.8 162.8 588.2 162.7 588.7 163.6 589.2 160.5 589.6 162.4 590.1 163.0 590.7 160.0 590.9 163.3 591.4 163.7 592.0 161.4 592.3 163.5 592.9 162.0 593.4 161.3 593.8 161.9 594.4 160.9 594.7 162.6 595.2 161.9 595.4 163.9 595.9 164.1 596.5 163.2 596.8 163.8 597.3 163.6 597.9 162.7 598.5 161.9 598.6 163.9 599.4 162.6 599.4 164.8 599.8 164.9 600.9 162.0 601.3 162.3 601.7 162.9 601.6 165.1 602.6 163.0 602.7 164.5 602.9 165.5 603.3 165.7 603.8 165.7 604.5 164.8 604.6 166.1 605.5 164.6 605.6 165.9 606.8 163.7 606.3 166.6 607.1 165.9 608.0 164.6 607.7 166.9 608.4 166.2 608.7 166.8 609.1 167.0 609.5 167.1 610.8 165.0 610.4 167.5 611.3 166.5 611.0 168.4 611.6 168.0 612.0 168.2 612.5 168.2 612.6 169.1 613.7 167.7 613.5 169.4 614.2 169.0 614.3 169.7 615.2 168.9 615.1 170.2 616.7 168.0 616.0 170.5 617.8 168.0 617.1 170.3 618.4 168.9 618.7 169.2 619.0 169.8 619.3 170.1 619.0 171.6 620.5 169.9 619.5 172.4 620.5 171.6 620.2 173.0 622.2 170.8 620.9 173.6 624.5 169.0 621.7 174.0 623.1 172.7 622.8 174.1 624.0 173.1 624.6 173.0 625.1 173.2 624.7 174.5 626.1 173.3 625.3 175.2 625.7 175.4 625.4 176.6 625.7 177.0 626.8 176.3 627.5 176.1 628.1 176.1 627.7 177.3 628.0 177.7 629.6 176.5 629.6 177.3 629.5 178.1 628.9 179.5 629.7 179.3 631.3 178.2 631.3 178.9 630.1 180.8 632.1 179.4 633.1 179.0 633.1 179.7 632.2 181.2 631.8 182.2 632.9 181.9 632.3 183.1 632.7 183.3 634.4 182.4 633.3 184.0 633.6 184.3 635.2 183.5 636.6 182.9 635.7 184.3 634.7 185.7 636.7 184.7 638.0 184.2 639.8 183.4 636.5 186.6 637.1 186.7 639.0 185.9 639.6 185.9 638.7 187.2 638.6 187.9 637.9 189.0 637.8 189.6 638.7 189.5 640.6 188.7 638.7 190.6 639.3 190.8 639.0 191.5 639.4 191.8 640.7 191.5 641.1 191.8 640.1 193.0 640.5 193.2 640.5 193.8 643.6 192.4 641.6 194.1 641.1 194.9 642.8 194.5 643.4 194.7 645.4 194.2 642.3 196.3 642.2 196.9 643.2 196.9 642.6 197.7 642.8 198.1 646.7 196.7 643.4 198.8 644.6 198.8 646.4 198.4 644.3 199.9 644.0 200.5 647.0 199.7 644.3 201.4 647.2 200.7 647.4 201.1 645.2 202.5 645.4 202.9 645.9 203.2 647.8 202.9 648.0 203.4 647.2 204.2 648.6 204.2 646.3 205.4 649.6 204.8 649.3 205.4 646.6 206.8 649.2 206.4 647.0 207.6 647.2 208.0 649.3 207.9 648.5 208.6 650.0 208.6 649.5 209.3 649.8 209.7 649.4 210.3 648.0 211.1 649.2 211.3 650.7 211.4 647.9 212.5 650.9 212.3 648.2 213.3 648.2 213.8 649.6 214.0 650.2 214.4 649.7 214.9 650.8 215.2 651.3 215.6 651.3 216.0 652.0 216.4 649.0 217.3 648.9 217.8 651.7 217.9 651.9 218.3 649.5 219.1 649.1 219.6 649.4 220.0 650.5 220.4 649.6 220.9 650.0 221.3 653.4 221.5 652.6 222.1 649.3 222.7 650.3 223.1 650.0 223.6 650.7 224.0 652.2 224.4 651.8 224.9 649.4 225.4 651.3 225.9 649.4 226.3 650.2 226.8 649.5 227.2 649.8 227.7 649.6 228.1 649.7 228.6 651.3 229.1 649.4 229.5 649.3 229.9 651.8 230.5 651.4 231.0 650.2 231.3 653.5 232.1 653.7 232.6 649.5 232.6 650.5 233.2 652.8 234.0 650.1 234.1 651.6 234.8 650.9 235.1 649.3 235.4 652.3 236.3 651.6 236.7 649.8 236.8 650.6 237.4 649.9 237.8 648.7 238.0 648.9 238.5 652.7 239.8 648.2 239.3 648.6 239.9 648.0 240.2 647.9 240.6 650.0 241.6 651.1 242.4 648.0 242.0 649.5 242.9 647.8 242.9 648.5 243.6 647.1 243.7 646.7 244.0L641.6 242.5A57.0 57.0 0 0 0 567.2 172.6ZM639.3 248.6L646.1 251.5 644.6 251.4 644.2 251.7 644.4 252.3 645.2 253.1 644.2 253.2 645.4 254.3 643.2 253.7 644.7 255.0 643.8 255.0 643.8 255.5 643.0 255.7 643.7 256.6 642.6 256.4 643.5 257.5 641.6 256.9 641.9 257.6 641.6 258.0 643.9 259.9 642.1 259.4 640.8 259.1 643.5 261.3 641.1 260.4 642.5 261.9 640.7 261.2 640.5 261.7 640.6 262.3 639.9 262.4 639.3 262.5 641.9 265.0 640.0 264.2 640.0 264.7 640.3 265.5 636.9 263.6 637.7 264.8 636.9 264.8 636.6 265.0 636.0 265.2 638.2 267.5 635.3 265.8 635.3 266.3 634.7 266.4 636.4 268.5 634.9 267.8 633.9 267.6 633.8 268.1 634.8 269.5 633.5 269.0 633.5 269.7 634.6 271.3 634.3 271.7 632.1 270.2 631.9 270.7 630.9 270.3 631.0 271.0 630.7 271.4 630.7 272.1 631.1 273.1 631.9 274.6 629.0 272.2 631.6 275.8 628.4 272.9 629.4 274.7 629.9 276.1 627.4 273.9 627.0 274.0 628.4 276.5 626.4 274.7 628.2 277.7 628.1 278.4 626.9 277.5 626.8 278.2 626.3 278.4 625.6 278.2 625.5 278.8 625.7 279.9 623.2 277.3 622.7 277.3 622.3 277.5 621.9 277.8 622.0 278.7 623.6 281.9 621.1 279.1 621.2 280.0 620.4 279.5 621.7 282.6 620.2 281.0 618.9 279.7 619.3 281.4 618.3 280.6 618.3 281.5 620.3 286.0 618.0 282.9 618.4 284.5 616.6 282.2 616.8 283.4 615.7 282.3 615.5 283.0 614.7 282.4 614.4 282.9 613.8 282.7 614.7 285.6 613.8 284.8 612.6 283.4 612.5 284.3 612.5 285.2 611.9 285.2 611.3 284.8 610.7 284.5 611.3 287.4 610.2 286.0 610.2 287.3 609.2 285.9 609.0 286.5 608.6 286.9 608.2 287.2 608.0 288.0 606.6 285.4 607.0 287.9 606.3 287.4 606.2 288.7 605.4 287.5 604.6 286.5 604.2 286.6 604.1 288.0 603.1 286.3 602.7 286.4L601.3 281.2A57.0 57.0 0 0 0 639.3 248.6Z" fill="#5e5e5e"/>
<g font-size="8.9" font-weight="bold" fill="#111" text-anchor="middle">
<text transform="translate(405.2 248.2) rotate(82.6)" y="3.2">Chr1</text>
<text transform="translate(712.0 92.6) rotate(43.5)" y="3.2">Chr2</text>
<text transform="translate(705.8 366.4) rotate(-40.2)" y="3.2">Chr3</text>
</g>
<g font-size="8.5" fill="#000" stroke="#000" stroke-width="0.15">
<text x="582.6" y="290.0">SR</text>
<text x="582.0" y="302.6">LTR</text>
<text x="581.4" y="316.1">LINE</text>
<text x="581.4" y="329.3">SINE</text>
<text x="582.7" y="342.6">DNA</text>
<text x="582.0" y="355.7">Gene</text>
<text x="584.0" y="369.3">GC</text>
<text x="584.2" y="384.0">Chr</text>
</g>
</svg>
</body></html>
